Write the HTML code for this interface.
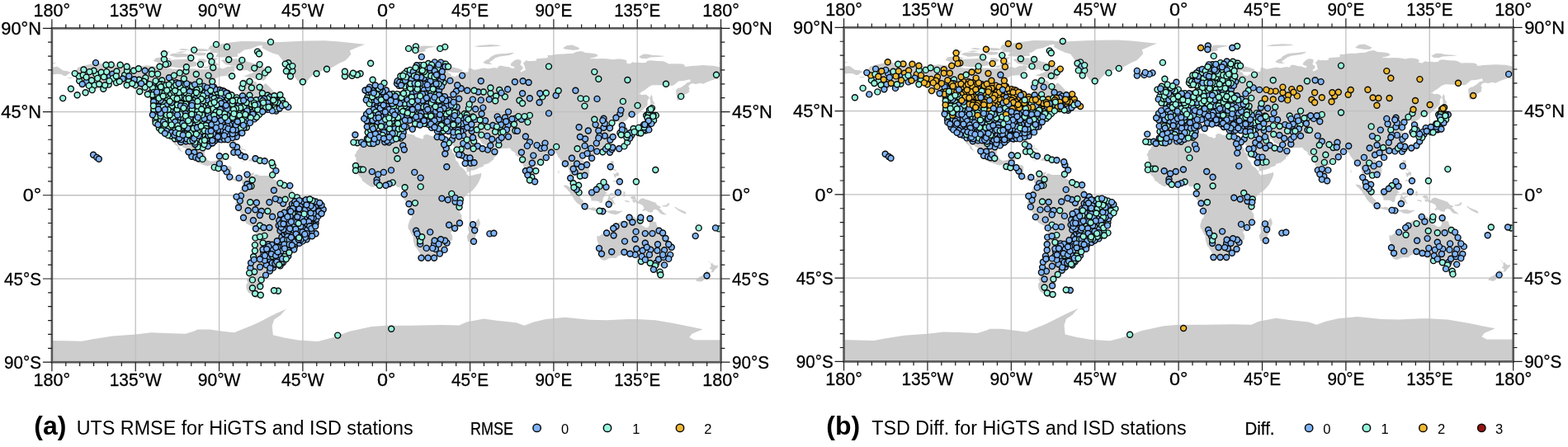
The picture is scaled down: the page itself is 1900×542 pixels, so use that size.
<!DOCTYPE html><html><head><meta charset="utf-8"><title>HiGTS and ISD stations</title><style>html,body{margin:0;padding:0;background:#fff;width:1900px;height:542px;overflow:hidden}svg{display:block}text{font-family:"Liberation Sans",Arial,sans-serif}</style></head><body><svg width="1900" height="542" viewBox="0 0 1900 542"><defs><g id="land"><path d="M-168 65.6 -166 68.9 -163 69.8 -156.8 71.3 -152 70.8 -148 70.3 -141 69.6 -135 69 -132 69.6 -129 70 -124 69.5 -120 69.3 -115 68 -108 68 -104 68.2 -100 67.8 -96 68 -94.5 69.5 -92 68.5 -90 68.8 -88 68.2 -85 69.5 -82 68.5 -81.5 66.8 -84 66.3 -86.8 64.3 -90 64 -93 62 -94.5 60 -93 58.8 -92.3 57.1 -88.5 56.4 -85 55.3 -82.3 55.1 -80.5 52.5 -80.5 51.3 -79 51.5 -78.5 52.5 -79.3 54.5 -77.2 56.5 -77.5 58.5 -78.3 60.8 -77.5 62.3 -73.5 62.2 -70 61 -69.5 59 -67.5 58.3 -65 60.3 -64 59.5 -62 57.5 -61 56.2 -57.5 54.5 -55.7 52.3 -57.5 51.4 -60 50.2 -64.5 50.2 -66.5 50 -69 48.3 -71 46.8 -69.5 47.5 -65 49.2 -64.2 48.5 -65.5 47.9 -64.6 46.8 -63.5 45.8 -61 45.6 -60 46.1 -61.5 45.1 -64 44.5 -66 43.7 -66 44.8 -67.5 44.5 -70 43.6 -70.8 42.8 -70.6 41.9 -70 41.7 -71.5 41.4 -73.8 40.7 -74 39.6 -75 38.6 -75.5 37.5 -76.3 37 -75.8 36 -75.5 35.2 -76.6 34.8 -77.9 33.9 -79.2 33.2 -80.6 32.4 -81.4 31 -81.3 29.6 -80.5 28 -80 26.4 -80.1 25.3 -80.9 25.1 -81.7 25.9 -82.7 27.6 -82.7 29 -83.8 29.9 -84.4 29.9 -85.4 29.7 -86.5 30.4 -88 30.5 -89.5 30.2 -89.3 29.2 -90.5 29.1 -92.2 29.6 -94 29.6 -95.3 29 -97.2 27.7 -97.4 26 -97.6 24.2 -97.8 22.3 -97.2 20.7 -96.2 19 -94.6 18.2 -92.8 18.5 -91.4 18.8 -90.6 19.8 -90.3 21 -88.3 21.5 -87 21.5 -87.5 20.2 -87.8 18.3 -88.3 17.2 -88.2 15.8 -86.5 15.8 -84.3 15.8 -83.3 15 -83.5 13 -83.7 11 -82.8 10 -81.5 8.8 -80 9.3 -79 9.6 -77.3 8.6 -77.6 7.8 -78.4 8.3 -79.6 8.9 -80.3 8 -80.2 7.3 -81.2 7.6 -82.3 8.2 -83.6 8.5 -84.9 10 -85.8 10.6 -85.7 11.2 -87 12.5 -87.7 13.2 -89.2 13.5 -91.3 13.9 -93 15.5 -94.5 16.2 -96.5 15.7 -98.7 16.5 -101 17.3 -103.5 18.3 -105.4 20.1 -105.3 21.5 -105.9 22.7 -108 25.2 -109.4 25.8 -110.8 27.6 -112.2 29 -112.9 31 -114.8 31.8 -114.6 30.5 -113.5 29 -112.5 27.4 -111.5 26 -110.5 24.2 -109.6 23.2 -110.3 23.5 -112.2 24.8 -112.3 26.2 -114.2 27.6 -115 29.5 -116.7 31.7 -117.2 32.7 -117.9 33.7 -118.5 34 -120.6 34.5 -121.9 36.5 -122.5 37.8 -123.7 39 -124.2 40.5 -124.4 42.5 -124 46 -124.1 47.5 -124.7 48.4 -123 48.6 -123.3 49.3 -124.9 50 -126.5 51 -127.9 52.2 -129.5 53.5 -130.5 54.6 -131.5 55.5 -133 57 -134.5 58.3 -136.7 58.3 -139.6 59.8 -142.5 60.1 -145 60.4 -147.8 60.8 -150.1 61.2 -151.8 60.5 -151.8 59.2 -153.3 58.9 -154.3 57.9 -156.4 56.9 -158.6 56 -161.7 55.1 -164.8 54.4 -162.5 55.8 -159 57 -157.5 58.5 -158.8 58.8 -161.8 58.6 -162.3 59.8 -164.8 60.6 -165.5 61.9 -165.8 62.7 -164.3 63.4 -161.1 63.6 -160.9 64.5 -163.5 64.5 -166.3 64.6 -168 65.6ZM-66.7 81.4 -59.8 82.5 -50 82.9 -42.6 83.2 -33 83.3 -25.4 82.8 -11.6 81.4 -15 80 -19.7 78 -19 76 -20.8 73.9 -22.5 72.3 -25.4 71.1 -29.4 68.8 -33 68 -36.9 65.9 -39.5 65 -41.4 63 -43 61 -44.9 60.1 -47 61 -48.3 62.4 -50.6 65.9 -52.5 68 -53 69.5 -55.2 71.7 -56.5 73.5 -58.1 75.7 -61 76.5 -64.4 78 -67 79.5 -66.7 81.4ZM-61.9 66.9 -64 67.8 -67 69.3 -70 70.6 -73 71.5 -76 72.5 -80 73.6 -85 73.5 -89 72.8 -86.5 70.5 -84 70 -81 69.6 -81.5 68.5 -78 67.2 -75 67.5 -73.5 66.5 -72.2 67.3 -71.5 66.2 -76 64.5 -77.5 64.3 -73 63.5 -70.5 62.7 -66 61.8 -64.5 63.2 -65 65 -62.5 65.6 -61.9 66.9ZM-95.5 77 -92 80.7 -86 82.1 -78 83 -68 82.9 -62 82.2 -64 81.4 -69 80.6 -73 78.9 -76.5 78.3 -79 76.5 -84 76.2 -90 76.5 -95.5 77ZM-92 74.6 -91 76.2 -85 76.8 -80 76.2 -80 74.7 -88 74.4 -92 74.6ZM-119 71.5 -117 72.8 -113 73.1 -108 73.3 -105 72.9 -101.5 71.2 -102.5 69.6 -106.5 69 -112 68.7 -116.5 69.3 -117.5 70.1 -119 71.5ZM-125.5 72.5 -124 74 -121 74.4 -117.5 74 -115.5 73.5 -119.5 72.1 -122.5 71.3 -125.5 72.5ZM-117 75.5 -115 76.5 -110 76.5 -106 75.9 -104 75.1 -108.5 74.6 -113 74.3 -117 75.5ZM-101.5 72 -101 73.6 -98 73.5 -96.5 72.5 -97.5 71.5 -99.5 71.5 -101.5 72ZM-95.5 72.5 -94 74 -90.5 73.9 -92 72.7 -93.5 72 -95.5 72.5ZM-96 69 -95.5 71.8 -92.5 71.8 -90 70.5 -92.5 69.5 -96 69ZM-96 78.5 -95 80.6 -90 81.4 -86.5 79.8 -90 79.4 -93 78 -96 78.5ZM-104.5 76 -101 77 -97 76.7 -97.5 75.5 -101 75.2 -104.5 76ZM-86.5 64.5 -84.5 65.7 -81.8 64.6 -80.5 63.8 -83 63.4 -86.5 64.5ZM-59.3 47.6 -56 49.5 -55.5 51.6 -56.5 51.3 -57.5 49.8 -59 48.4 -59.3 47.6 -58.5 47.6 -55.8 46.9 -53 46.7 -52.7 48 -53.5 49.2 -55.5 49.8 -59.3 47.6ZM-123.3 48.4 -125.5 48.9 -128.3 50.8 -127 50.6 -124.8 49.8 -123.3 48.4ZM-84.9 21.9 -83 22.9 -81.5 23.2 -80.5 23.1 -79 22.4 -77.5 21.8 -75.6 21.1 -74.2 20.2 -75.5 19.9 -77.4 19.9 -77.8 20.7 -78.5 21.5 -80.5 21.8 -82 22.3 -83.5 21.8 -84.9 21.9ZM-74.5 18.4 -72.8 19.9 -71 19.9 -69.5 19.4 -68.4 18.6 -70.7 18.3 -71.5 17.6 -72 18.2 -74.5 18.4ZM-78.3 18.4 -76.3 18.2 -76.8 17.9 -78 18.2ZM-67.2 18.5 -65.6 18.4 -65.8 18 -67.2 18ZM-77.3 8.6 -76.8 8.6 -75.5 10.5 -74.5 11 -72.5 11.8 -71.3 12.4 -71.5 11 -71.9 10.8 -71.7 9.5 -71 9.5 -71.4 10.8 -70 11.5 -68.2 10.6 -66 10.6 -64 10.6 -62.2 10.6 -61.7 9.8 -60.7 8.6 -59.5 8.2 -58 6.8 -57 6 -55 5.9 -53 5.6 -51.6 4.2 -51 3.3 -50 1.8 -50 0 -48.5 -0.6 -47.5 -0.6 -45 -1.4 -44.4 -2.6 -42 -2.8 -40 -2.9 -38.5 -3.7 -37 -4.9 -35.3 -5.3 -34.9 -7.3 -35.3 -9.2 -36.9 -10.8 -38.4 -12.9 -39 -14.5 -39 -17.5 -39.7 -19.5 -40.9 -21.9 -42 -23 -44.7 -23.3 -47 -24.2 -48.5 -25.8 -48.6 -28.5 -49.8 -29.5 -50.7 -31.3 -52.2 -32.5 -53.4 -33.8 -54.5 -34.7 -56.2 -34.9 -57.5 -34.3 -58.4 -33.9 -58.5 -34.5 -57.2 -35.6 -57.5 -36.9 -57.6 -38.1 -59.3 -38.7 -62 -38.9 -62.3 -40.5 -63.6 -41.2 -65 -40.9 -65 -42.1 -64 -42.6 -65.3 -43.6 -65.5 -45 -67.4 -46.2 -67.2 -46.8 -65.8 -47.8 -67.6 -49.3 -68.4 -50.3 -69 -51.6 -68.4 -52.4 -71.5 -53.8 -74.3 -52.5 -75.3 -50.5 -75.5 -48.3 -74.5 -46.8 -75.3 -45.8 -74.1 -43.7 -73.7 -41.8 -73.5 -40 -73.4 -37.3 -72.6 -35.3 -71.6 -33.1 -71.5 -30.5 -71.2 -28.4 -70.5 -25.5 -70.4 -23.4 -70.1 -21.4 -70.2 -19.5 -70.4 -18.3 -71.3 -17.5 -72.5 -16.7 -75.3 -15.3 -76.3 -13.9 -76.9 -12.1 -78.1 -10.4 -79.4 -7.9 -81.2 -6 -81.3 -4.2 -80.2 -3.4 -80.9 -2.2 -80.9 -1 -80.1 0.5 -79 1.5 -78.7 2.7 -77.5 3.9 -77.4 5.8 -77.9 7.2 -77.3 8.6ZM-68.6 -52.6 -68.2 -55 -66.5 -55.1 -70 -55.5 -72.5 -54 -70.5 -53.2 -68.6 -52.6ZM-61.2 -51.3 -58 -51.2 -57.9 -52 -60.5 -52.2ZM-5.6 36 -6.4 36.8 -7.4 37.2 -8.9 37 -8.8 38.7 -9.5 39 -9 40.5 -8.8 42 -9.3 43 -7.9 43.8 -5.5 43.6 -3 43.4 -1.6 43.4 -1.2 44.8 -1.2 46 -2.2 47.3 -4.5 47.9 -4.7 48.6 -3 48.8 -1.6 48.7 -1.9 49.7 -1.2 49.4 0.2 49.5 1.6 50.2 1.7 50.9 2.5 51.1 3.6 51.5 4 51.9 4.8 53 5.8 53.4 7 53.5 8.6 53.9 8.9 54.9 8.6 55.5 8.1 56.8 9.5 57.2 10.5 57.6 10.5 56.5 10.9 56.3 10.2 55.4 9.9 54.8 11 54 12.5 54.4 14 54 16.5 54.5 18.5 54.7 19.6 54.4 21 55.3 21 56.8 21.6 57.4 22.6 57.7 23.5 57.1 24.3 57.2 24.3 58.4 23.5 59.2 25.5 59.6 28 59.5 29.5 59.9 30.2 59.9 29 60.2 28 60.5 26 60.4 22.9 59.9 22.5 60.3 21.3 60.9 21.5 61.5 21.2 62.7 21.5 63.3 22.5 64 24.5 64.9 25.4 65.1 25.3 65.6 22.2 65.8 21.3 64.5 20 63.8 18.6 63 17.7 62.3 17.3 61 18.8 60.1 18.5 59.3 16.8 58.5 16.5 57.3 15.9 56.1 14.3 55.5 12.9 55.4 12.5 56.2 12.5 57.2 11.8 57.8 11.2 58.9 10.5 59.3 10.5 59.9 9.6 59.1 8.2 58.1 7 58 5.6 58.7 5 59.5 5 60.6 5 61.9 6 62.5 7.5 63.1 9 63.5 10.5 64.5 11.5 65 12.5 66 13.5 67 14.5 67.9 16 68.6 17.5 69.3 19 69.8 21 70.2 23.5 70.8 25.8 71.1 28 71 30 70.6 31 70.3 33 69.4 36 69 39 68.2 41 67.5 40.5 66.5 38.5 66 35 66.2 33.5 66.7 33 66.3 34.7 65.5 34.8 64.5 37 63.9 37.5 64.3 38 64.7 40 64.5 40.8 65 42 66.3 44 66.3 44.2 67.7 44 68.4 46 68.2 47 67.6 49 67.8 51 68.3 53 68.6 54.5 68.2 55.7 68.4 58 68.8 59.5 68.5 60.7 69.8 62 69.8 64 69.3 66 69.1 67.2 68.6 68.5 68.2 69 69.2 67 69.8 66.9 70.6 67.3 71.3 68.5 72.4 69.6 73 71 73.2 72.5 72.7 72.5 71.5 72 70.3 73.5 69 73.2 67.9 72 67 72.5 66.4 74 67.1 75 67.6 74.6 68.5 74.4 69.7 73.6 71.2 74.8 72.2 75.3 72.9 76 72.3 77.7 72.4 79 72.3 80.6 72.6 80.8 73.6 83 73.8 86.5 74 87 74.8 86.5 75.5 88.5 75.5 92 76 95 76.1 98 76.4 100.5 76.5 102 77.2 104.5 77.7 106 77.4 107 76.8 109 76.7 112 76.4 113.5 75.8 113.7 75 112 74.4 110 74 109.5 73.6 111 73.7 113 73.6 116 73.7 118.7 73.6 122 73.1 124 73.5 126 73.5 128.5 73 129.5 72.3 129 71.5 129.5 71.1 131 70.8 132.5 71.8 134 71.5 135.5 71.6 137.5 71.4 139.5 71.5 140.5 72.5 142 72.7 146 72.3 149 72.2 150.5 71.6 152 70.8 155 70.9 159 70.8 160.8 70.1 160 69.6 161.5 69.4 164 69.7 168 69.9 170.6 70.1 173 69.9 176 69.8 178 69.4 180 68.9 180 65 178.8 64.5 177.5 64.6 178.5 63.3 179.2 62.4 177 62.6 174.5 61.8 172.5 61 170.5 60 169 60.5 166.3 59.9 165 60.3 163.5 59.9 162.5 58.7 163.2 57.6 162.6 56.3 163.3 56.1 162 54.9 160.3 54.2 160 53.1 158.5 52.8 158 51.6 156.7 51 156.2 52.6 155.9 55 155.8 56.8 157 57.8 158.3 58 160.5 59.5 162 60.8 163.7 61.2 163.3 62.5 160.4 61.8 159.2 61.7 157.2 61.5 155.2 59.8 154.2 59.1 152 58.9 150 59.6 149 59.2 146 59.3 144.5 59.4 143 59.3 141.4 58.6 140.5 57.8 138.8 56.6 137.4 55.8 136.5 54.9 135.1 54.7 136.7 54.6 137.2 54 138.3 54.2 139.8 54.2 141.3 53.1 141.4 52.2 140.6 51.3 140.5 50 140.5 48.5 139.3 47.4 138.2 46.3 137 45.2 135.5 43.9 133.8 42.9 132.9 42.8 132.3 43.3 131.8 43 130.7 42.3 129.7 41 129.7 40.8 128.8 40.2 127.5 39.6 127.5 39.2 128.4 38.6 129.4 36.8 129.5 35.6 129.1 35.1 128 35 126.5 34.4 126.3 34.9 126.7 35.8 126.1 36.7 126.9 37.1 126.2 37.7 125.2 37.9 124.7 38.1 125.3 39.5 124.3 39.9 122.9 39.6 122.2 39.2 121.4 38.9 121.6 39.4 121.5 40 122.3 40.5 121.6 40.9 121 40.8 120 40 119.5 39.8 118.9 39.1 118 39.2 117.6 38.6 118 38 118.8 37.5 119.2 37.2 120.8 37.8 121.5 37.5 122.5 37.4 122.5 36.9 121 36.6 120.6 36.1 119.6 35.6 119.2 34.9 120.3 34.3 120.6 33.4 120.9 32.4 121.9 31.7 121.9 30.9 121.3 30.7 121.5 30.1 122 29.8 121.6 29 121.5 28.5 121 28 120.6 27.2 119.7 26.5 119.6 25.9 119 25.3 118.6 24.6 117.8 24.1 117 23.6 116.5 23 115.5 22.7 114.8 22.7 114.2 22.3 113.5 22.2 113 22.1 112 21.8 111 21.5 110.4 21.2 110.2 20.1 109.7 20.8 109.9 21.4 109 21.6 108 21.5 106.7 20.7 106 19.9 105.7 19.1 106.4 18 107.3 16.8 108.3 16 108.9 15.3 109.3 13.5 109.2 11.6 108.4 11 107.6 10.5 106.7 10.4 105.8 9.5 105.1 8.6 104.8 9.2 105.1 10 104.3 10.5 103.5 10.6 102.6 12.2 101.7 12.6 100.9 12.7 100.9 13.5 100 13.4 100.1 12.2 99.2 10.3 99.2 9.2 99.9 9.2 100.4 7.3 101 6.8 101.6 6.8 102.1 6.2 103.1 5.5 103.4 4.9 103.4 4 103.5 2.6 104.2 1.7 104.2 1.3 103.5 1.3 102.6 1.9 101.3 2.8 100.7 3.9 100.3 4.8 100.4 5.6 100.3 6.4 99.7 6.5 99 7.9 98.4 8.1 98.3 9 98.6 10 98.5 11 98.7 11.9 98.4 13.1 98.1 14 97.8 14.8 97.6 16 97.2 16.9 96.5 16.5 95.4 15.7 94.8 15.8 94.2 16 94.6 17.3 94.3 18.2 93.5 19.4 93 20 92.4 20.7 92.1 21.2 91.8 22.2 91.4 22.8 90.5 22.8 90.3 21.8 89.7 21.9 89 21.7 88.2 21.7 87 21.4 86.5 20.2 85 19.5 84 18.3 83.2 17.7 82.2 16.6 81.2 16 80.3 15.9 80 15.1 80.2 13.5 80.3 13 79.9 12 79.9 10.4 79.3 10.3 78.9 9.5 79.2 9.2 78.3 8.9 77.9 8.3 77.5 8 76.6 8.9 76.1 10.3 75.7 11.3 75.4 11.8 74.9 12.7 74.6 13.9 74.4 14.6 73.5 16 73.1 17.9 72.8 19.2 72.8 20.4 72.6 21.4 71.2 20.8 70.5 20.9 69.2 22.1 69.6 22.5 69.4 22.8 68.2 23.7 67.4 23.9 67.1 24.7 66.4 25.4 64.5 25.2 62.9 25.2 61.5 25.1 59.6 25.4 58.5 25.6 57.4 25.7 56.9 27.1 56.5 27.1 55.7 26.9 54.7 26.5 53.5 26.8 52.5 27.6 51.5 27.9 50.9 28.8 50.1 30.1 49.6 30 48.9 30.3 48 29.9 48 29 48.4 28.6 48.8 27.7 49.3 27.5 49.5 27.1 50.2 26.7 50.1 25.9 50.2 25.6 50.5 25.3 50.8 24.8 51.1 24.6 51.4 24.6 51.6 24.2 52 23.9 52.6 24.2 53.4 24.2 54 24.1 54.7 24.8 55.4 25.4 56.1 26.1 56.4 26.4 56.4 24.9 56.8 24.2 57.4 23.9 58.1 23.7 58.7 23.6 59.5 22.7 59.8 22.5 59.3 21.4 58.9 21.1 58.5 20.4 58 20.5 57.7 19.7 57.7 19 57.2 18.9 56.6 18.6 56.3 17.9 55.7 17.9 55.3 17.6 55.2 17.1 54.2 17 53.6 16.7 53.1 16.7 52.4 16.4 52.2 15.9 52.2 15.6 51.2 15.2 49.6 14.7 48.7 14 48.2 13.9 47.4 13.6 46.7 13.4 45.9 13.3 45.6 13.3 45.1 12.9 45 12.7 44.5 12.7 43.5 12.6 43.2 13.2 43.3 13.8 43 14.6 42.9 15.2 42.6 15.7 42.8 16.3 42.6 16.8 42.3 17.1 42.3 17.5 41.8 17.8 41.2 18.7 40.9 19.5 40.2 20.2 39.8 20.3 39.1 21.3 39 22 38.8 22.8 38.5 23.7 38 24.1 37.5 24.3 37.2 24.9 37.2 25.1 36.9 25.6 36.6 26 36.2 26.6 35.6 27.4 35.1 28.1 34.6 28.1 34.8 29 34.9 29.5 34.3 31.2 34.6 31.6 35 32.8 35.1 33.1 35.5 33.9 35.9 34.5 35.9 35.4 36.1 35.8 35.8 36.3 36.2 36.7 35.6 36.6 34.7 36.8 34 36.2 32.5 36.1 31.7 36.6 30.6 36.7 30.4 36.3 29.7 36.1 28.7 36.7 27.6 36.7 27.1 37.7 26.3 38.2 26.8 39 26.2 39.5 26.2 40 26.5 40.2 27.3 40.4 28.8 40.5 29.2 41 30.2 41.1 31.2 41.1 32.3 41.7 33.5 42 35.2 42 36.9 41.3 38.3 40.9 39.5 41.1 40.4 41 41.6 41.5 41.5 42.6 40.9 43 40.3 43.1 39.9 43.4 38.7 44.3 37.5 44.7 36.7 45.2 37.4 45.4 38.2 46.2 37.7 46.6 39.1 47.3 38.2 47.1 37.4 47 36.8 46.7 35.8 46.6 34.9 46.3 35 45.7 35.5 45.5 36.5 45.5 36.3 45.1 35.2 44.9 34 44.5 33.3 44.6 33.5 45 32.5 45.3 32.6 45.5 33.6 45.9 33.3 46.1 31.7 46.3 31.7 46.7 30.7 46.6 30.4 46 29.6 45.3 29.1 44.8 28.8 44.9 28.6 43.7 28 43.3 27.7 42.6 28 41.6 29 41.3 28.8 41 27.6 41 27.2 40.7 26.4 40.2 26.3 40.9 26.1 41.3 25.2 41 23.7 40.7 24.4 40.1 23.9 40 23.3 40 22.8 40.5 22.6 40.3 22.8 39.7 23.4 39.2 23 39 23.5 38.5 24 38.2 24 37.7 23.1 37.9 23.4 37.4 22.8 37.3 23.2 36.4 22.5 36.4 21.7 36.8 21.3 37.6 21.1 38.3 20.7 38.8 20.2 39.3 20.2 39.6 20 39.7 20 40.3 19.4 40.3 19.3 40.7 19.4 41.4 19.5 41.7 19.4 41.9 19.2 42.2 18.5 42.5 17.5 42.8 16.9 43.2 16 43.5 15.2 44.2 15.4 44.3 14.9 44.7 14.9 45.1 14.3 45.2 13.9 44.8 13.7 45.1 13.7 45.5 13.9 45.6 13.1 45.7 12.3 45.4 12.4 44.9 12.3 44.6 12.6 44.1 13.5 43.6 14 42.8 15.1 42 15.9 42 16.2 41.7 15.9 41.5 17.5 40.9 18.4 40.4 18.5 40.2 18.3 39.8 17.7 40.3 16.9 40.4 16.4 39.8 17.2 39.4 17.1 38.9 16.6 38.8 16.1 38 15.7 38 15.9 38.8 16.1 39 15.4 40 15 40.2 14.7 40.6 14.1 40.8 13.6 41.2 12.9 41.3 12.1 41.7 11.2 42.4 10.5 42.9 10.2 43.9 9.7 44 8.9 44.4 8.4 44.2 7.9 43.8 7.4 43.7 6.5 43.1 4.6 43.4 3.1 43.1 3 42.5 3 41.9 2.1 41.2 0.8 41 0.7 40.7 0.1 40.1 -0.3 39.3 0.1 38.7 -0.5 38.3 -0.7 37.6 -1.4 37.4 -2.1 36.7 -4.4 36.7 -5 36.3 -5.6 36ZM-5.9 35.8 -5.2 35.8 -4.6 35.3 -3.6 35.4 -2.2 35.2 -1.2 35.7 -0.1 35.9 1 36.5 3.2 36.8 4.8 36.9 5.3 36.7 6.3 37.1 7.3 37.1 7.7 36.9 8.4 36.9 9.5 37.3 10.2 37.2 10.2 36.7 11.1 36.9 10.6 36.4 10.6 35.9 10.9 35.7 10.8 34.8 10.1 34.3 10.3 33.8 10.9 33.8 11.1 33.3 11.5 33.1 12.7 32.8 13.1 32.9 13.9 32.7 15.2 32.3 15.7 31.4 16.6 31.2 18 30.8 19.1 30.3 19.6 30.5 20.1 31 19.8 31.8 20.1 32.2 20.9 32.7 21.5 32.8 22.9 32.6 23.2 32.2 23.6 32.2 23.9 32 24.9 31.9 25.2 31.6 26.5 31.6 27.5 31.3 28.5 31 29.7 31.2 30.9 31.6 32 31.3 32.9 31 33.8 31 34.3 31.2 34.9 29.5 34.6 29.1 34.4 28.3 34.2 27.8 33.9 27.6 33.1 28.4 32.4 29.9 32.3 29.8 32.7 28.7 33.3 28 33.9 27 34.1 26.1 34.5 25.6 34.8 25 35.7 23.9 35.5 23.8 35.5 23.1 36.7 22.2 36.9 22 37.2 21 37.1 19.8 37.5 18.6 37.9 18.4 38.4 18 39 16.8 39.3 15.9 39.8 15.4 41.2 14.5 41.7 13.9 42.3 13.3 42.6 12.7 43.1 12.7 43.3 12 42.7 11.7 43.1 11.5 43.5 11.3 43.7 10.9 44.1 10.4 44.6 10.4 45.6 10.7 46.6 10.8 47.5 11.1 48 11.2 48.9 11.4 49.3 11.4 49.7 11.6 50.3 11.7 50.7 12 51.1 11.7 51 10.6 51 10.4 50.6 9.2 50.1 8.1 49.5 6.8 48.6 5.3 47.7 4.2 46.6 2.9 45.6 2 44.1 1.1 43.1 0.3 42 -0.9 41.8 -1.4 41.6 -1.7 40.9 -2.1 40.6 -2.5 40.3 -2.6 40.1 -3.3 39.8 -3.7 39.6 -4.3 39.2 -4.7 38.7 -5.9 38.8 -6.5 39.4 -6.8 39.5 -7.1 39.2 -7.7 39.3 -8 39.2 -8.5 39.5 -9.1 39.9 -10.1 40.3 -10.3 40.5 -10.8 40.4 -11.8 40.6 -12.6 40.6 -14.2 40.8 -14.7 40.5 -15.4 40.1 -16.1 39.5 -16.7 38.5 -17.1 37.4 -17.6 36.3 -18.7 35.9 -18.8 35.2 -19.6 34.8 -19.8 34.7 -20.5 35.2 -21.3 35.4 -21.8 35.4 -22.1 35.6 -22.1 35.5 -23.1 35.4 -23.5 35.6 -23.7 35.5 -24.1 35 -24.5 34.2 -24.8 33 -25.4 32.6 -25.7 32.7 -26.1 32.9 -26.2 32.8 -26.7 32.6 -27.5 32.5 -28.3 32.2 -28.8 31.5 -29.3 31.3 -29.4 30.9 -29.9 30.6 -30.4 30.1 -31.1 28.9 -32.2 28.2 -32.8 27.5 -33.2 26.4 -33.6 25.9 -33.7 25.8 -34 25.2 -34 24.7 -34 23.6 -33.8 23 -33.9 22.6 -33.9 21.5 -34.3 20.7 -34.4 20.1 -34.8 19.6 -34.8 19.2 -34.5 18.9 -34.4 18.4 -34 18.4 -34.1 18.2 -33.9 18.3 -33.3 17.9 -32.6 18.2 -32.4 18.2 -31.7 17.6 -30.7 17.1 -29.9 17.1 -29.9 16.3 -28.6 15.6 -27.8 15.2 -27.1 14.7 -25.4 14.4 -23.9 14.4 -22.7 14.3 -22.1 13.9 -21.7 13.4 -20.9 12.8 -19.7 12.6 -19 11.8 -18.1 11.7 -17.3 11.6 -16.7 11.8 -15.8 12.1 -14.9 12.2 -14.4 12.5 -13.5 12.7 -13.1 13.3 -12.5 13.6 -12 13.7 -11.3 13.7 -10.7 13.4 -10.4 13.1 -9.8 12.9 -9.2 12.9 -9 13.2 -8.6 12.9 -7.6 12.7 -6.9 12.2 -6.3 12.3 -6.1 12.2 -5.8 11.9 -5 11.1 -4 10.1 -3 9.4 -2.1 8.8 -1.1 8.8 -0.8 9 -0.5 9.3 0.3 9.5 1 9.3 1.2 9.6 2.3 9.8 3.1 9.4 3.7 8.9 3.9 8.7 4.4 8.5 4.5 8.5 4.8 7.5 4.4 7.1 4.5 6.7 4.2 5.9 4.3 5.4 4.9 5 5.6 4.3 6.3 2.7 6.3 1.9 6.1 1.1 5.9 0 5.5 -0.5 5.3 -1.1 5 -2 4.7 -2.9 5 -3.3 5 -4 5.2 -4.6 5.2 -5.8 5 -6.5 4.7 -7.5 4.3 -7.7 4.4 -8 4.4 -9 5 -9.9 5.6 -10.8 6.1 -11.4 6.8 -11.7 6.9 -12.4 7.3 -12.9 7.8 -13.1 8.2 -13.2 8.9 -13.7 9.5 -14.1 9.9 -14.6 10.2 -14.7 10.7 -14.8 10.9 -15.1 11 -15.7 11.5 -16.1 11.5 -16.3 11.8 -16.6 12.2 -16.7 12.4 -16.8 13.2 -16.7 13.6 -17.1 14.4 -17.6 14.7 -17.2 14.9 -16.7 15.6 -16.5 16.1 -16.1 16.5 -16.1 17.1 -16 17.7 -16.1 18.1 -16.3 19.1 -16.4 19.6 -16.3 20.1 -16.5 20.6 -17.1 21 -17 21.4 -17 21.9 -16.6 22.2 -16.3 22.7 -16.3 23 -16 23.7 -15.4 24.4 -15.1 24.5 -14.8 25.1 -14.4 26.3 -13.8 26.6 -13.1 27.6 -12.6 28 -11.7 28.1 -10.9 28.8 -10.4 29.1 -9.6 29.9 -9.8 31.2 -9.4 32 -9.3 32.6 -8.7 33.2 -7.7 33.7 -6.9 34.1 -6.2 35.1 -5.9 35.8ZM49.5 -12.5 50.1 -13.6 50.5 -15.2 50.2 -16 49.8 -16.9 49.5 -17.9 49 -19.1 48.5 -20.5 47.9 -22.4 47.1 -24.9 45.4 -25.6 44 -25 43.3 -22.1 43.9 -21.2 44.4 -20.1 44.2 -18.9 43.9 -17.4 44.4 -16.2 46.3 -15.8 47.7 -14.6 48.9 -13.3 49.5 -12.5ZM-5.7 50.1 -3.4 50.6 -1.5 50.7 1 51 1.4 51.3 0.5 51.6 1.7 52.7 0.3 53.1 -0.1 54 -1.2 54.6 -1.6 55.6 -2.5 56 -3 56.3 -2 57.6 -3.2 57.7 -4.1 57.6 -3 58.6 -5 58.6 -5.8 57.8 -5.6 57 -6 56.2 -5.6 55.3 -4.8 54.9 -3.6 54.6 -3.2 53.4 -4.6 53.3 -4 52.8 -4.4 52.2 -5.2 51.8 -3.4 51.4 -4.3 51.2 -5.2 51 -5.7 50.1ZM-6 52.2 -6.2 53.3 -6 54.3 -5.6 54.6 -6.2 55.2 -7.3 55.3 -8.3 55.1 -8.6 54.3 -10 54.2 -9.6 53 -10.3 52 -9.6 51.6 -8.1 51.7 -6.4 52.2 -6 52.2ZM-22.7 63.9 -22 64.4 -24.2 65.3 -22.6 66.4 -20 66.1 -18 66.2 -16 66.5 -14.5 66.2 -13.6 65.2 -14.9 64.4 -17.8 63.7 -20 63.5 -22.7 63.9ZM130.9 33.9 132.6 35.4 134.6 35.7 135.7 35.6 136.8 37.3 137.3 36.8 138.5 37.8 139.5 38.5 140 39.6 140 40.8 140.6 41.2 141.4 41.4 141.4 40.7 142 39.8 141.5 38.4 141 38.2 140.9 37.5 141 36.8 140.6 36 140.9 35.7 139.9 35 139.2 35.2 138.8 34.6 138.3 34.7 137 34.6 136.6 34.3 135.9 33.5 135.2 34 135.4 34.7 134 34.6 133 34.3 131.8 34 130.9 33.9ZM129.8 33.5 130.9 33.9 131.7 33.2 131.4 31.4 130.7 31 130.2 31.3 130.2 32.5 129.6 32.8 129.8 33.5ZM132.5 33.1 133 34 134.6 34.2 134.7 33.8 134.1 33.3 133 32.8ZM140 41.5 140.1 42.6 141.3 43.3 141.7 45.4 142.9 44.7 144.5 44 145.5 43.3 144.5 42.9 143.3 42 141.5 42.6 141 41.8 140 41.5ZM142 46 142.1 47.8 142.2 49.5 142.1 51 141.7 52.4 142.6 54.3 143.2 52.8 143.2 51.5 144.5 49 143.2 49.2 142.5 47.8 143.5 46.2 142 46ZM120.1 23 120.7 24.5 121.5 25.3 122 25 121.5 23.5 120.8 21.9 120.1 23ZM108.6 19.2 109.5 20 110.6 20.1 111 19.6 110.5 18.7 109.6 18.2 108.7 18.5ZM120.6 18.5 121.3 18.5 122.3 18.4 122.2 17 121.6 15.9 121.8 14.5 123.1 13.8 124.1 13.1 123.3 13 122.6 13.6 121.5 13.7 120.6 14.4 120.7 14.8 120 16 120.4 17 120.6 18.5ZM122 7 122.2 7.9 123.6 7.8 124.3 8.4 125.4 9.8 126.3 8.8 126.5 7.3 126.1 6.3 125.4 5.6 124.2 6.2 123.9 7 122.8 7.4 122 7ZM122 11.8 122.5 10.5 123 9.2 123.4 9.9 124 10.5 124.8 10.1 125.3 11.5 124.3 12.6 123.1 11.5ZM109 1.5 109.6 2 110.4 1.7 111.2 2.5 113 3.2 114 4.6 115.4 5.3 116.2 6.1 116.8 7 117.7 6.4 119.2 5.4 118.4 4.9 117.9 4.1 117.3 3.2 118 2.3 117.9 1.8 119 0.9 117.8 0.8 117.5 -0.3 116.6 -1.5 116.5 -2.5 116.1 -4 114.9 -4.1 114.5 -3.5 113.3 -3.1 111.7 -3 111 -3 110.2 -2.9 110.1 -1.6 109.6 -1 109.1 -0.5 109 0.4 108.9 0.9 109 1.5ZM95.3 5.5 97.5 5.2 98.4 4.3 99.7 3.2 100.6 2.1 101.7 2.1 103 0.5 103.8 0 104.5 -1.8 105.4 -2.5 106.1 -3.1 105.8 -4.3 105.8 -5.9 104.7 -5.9 103.9 -5 102.6 -4.2 101.4 -2.8 100.9 -2.1 100.1 -0.6 99.3 0.2 98.6 1.8 97.7 2.5 97.2 3.3 96.4 3.9 95.4 5 95.3 5.5ZM105.2 -6.8 106.1 -5.9 107.3 -6 108.3 -6.3 108.6 -6.8 110.5 -6.9 110.8 -6.5 112.6 -6.9 112.9 -7.6 114.5 -7.8 114.6 -8.8 113.5 -8.3 112.6 -8.4 111.5 -8.3 110.6 -8.1 109.4 -7.7 108.7 -7.6 108.3 -7.8 106.5 -7.4 106.3 -6.9 105.4 -6.9 105.2 -6.8ZM114.6 -8.8 116 -8.4 118 -8.1 119 -8.4 120.7 -8.2 122.8 -8.1 124 -8.4 125 -8.6 127 -8.3 125.1 -9.4 124 -10.2 123.5 -10.4 120.8 -10 119.9 -9.4 118.3 -8.9 116.7 -9 114.6 -8.8ZM119.4 -5.5 119.6 -4.5 119.5 -3.5 118.8 -2.8 119.2 -2.1 119.3 -1.4 119.8 0.2 120.1 0.6 120.9 1.3 121.6 1.1 122.9 0.9 124.1 0.9 125.1 1.6 124.4 0.4 123.7 0.2 122.7 0.4 121.1 0.4 120.2 0.2 120.1 -0.5 120.9 -1.4 121.5 -1 123.3 -0.6 123.3 -1.1 122.5 -1.5 121.5 -1.9 122.5 -3.2 122.3 -3.5 123.2 -4.7 123 -5 122.3 -4.5 121.7 -4.9 121.5 -4.6 121.6 -4.2 120.9 -3.6 121 -2.6 120.3 -2.9 120.4 -5.5 119.8 -5.7 119.4 -5.5ZM127.9 2.2 128.7 1.1 128.2 0.5 128.6 -0.3 127.7 -0.9 127.4 1ZM128 -3.2 130.8 -3.9 130.5 -3.1 128.6 -2.8ZM131 -1.3 132.3 -0.4 133.9 -0.7 134.1 -1.2 134.4 -2.8 135.5 -3.4 136.3 -2.3 137.4 -1.7 138.3 -1.7 139.2 -2.1 140.7 -2.6 141.5 -2.8 142.7 -3.3 144.6 -3.9 145.4 -4.8 145.8 -5.5 147.6 -6.1 147.9 -6.6 147 -6.7 147.2 -7.4 148.1 -8 148.7 -9.1 149.3 -9.1 149.3 -9.5 150 -9.7 149.7 -9.9 150.8 -10.3 150 -10.7 149.8 -10.4 148.9 -10.3 147.9 -10.1 147.1 -9.5 146.6 -8.9 146 -8.1 144.7 -7.6 143.9 -7.9 143.3 -8.2 143.4 -9 142.6 -9.3 142.1 -9.2 141 -9.1 140.1 -8.3 139.1 -8.1 138.9 -8.4 137.6 -8.4 138 -7.6 138.7 -7.3 138.4 -6.2 137.9 -5.4 136 -4.5 135.2 -4.5 133.7 -3.5 133.4 -4 133 -4.1 132.8 -3.7 132.8 -3.3 132 -2.8 133.1 -2.5 133.8 -2.5 133.7 -2.2 132.2 -2.2 131.8 -1.6 131 -1.3ZM148.3 -5.6 150 -5.4 151 -5 151.6 -4.2 152.3 -4.3 152 -5.5 150.6 -6.2 148.5 -6ZM113.3 -22 113.4 -24.4 114.2 -26.3 113.8 -26.5 114.6 -28.8 115 -30.6 115.7 -31.6 115.7 -33.3 115 -33.6 115 -34.2 116.6 -35 117.9 -35.1 119.9 -34 121.3 -33.8 123.7 -33.9 124.2 -33 125.1 -32.7 126.1 -32.2 127.1 -32.3 129.5 -31.6 131.3 -31.5 132.6 -32 134.3 -32.6 134.6 -33.2 135.2 -34.5 136 -34.9 136.4 -34.1 137.5 -33.1 137.8 -32.9 137.8 -33.6 137.2 -34.4 137.5 -34.7 137.7 -35.6 138.4 -35.3 138.1 -35.1 138.6 -34.4 139.5 -35.7 139.6 -36.1 139.9 -37.4 140.6 -38 141.3 -38.2 142.2 -38.4 143.5 -38.8 144.4 -38.1 145 -37.9 145.5 -38.6 146.3 -39 147.3 -38.2 148.3 -37.8 149.4 -37.8 149.9 -37.1 150 -36.4 150.1 -35.9 150.7 -35.2 150.8 -34.8 151.2 -33.8 151.6 -33.4 152.1 -32.8 152.5 -32.6 152.9 -31.6 153.1 -30.4 153.1 -30 153.5 -28.8 153.6 -28.1 153.4 -27.3 153.2 -26.3 153 -25.3 152.8 -25.3 152.3 -24.5 151.5 -24.1 150.9 -23.6 150.7 -22.4 150.2 -22.4 149.7 -22.3 149.3 -21.3 148.8 -20.4 148.2 -20.1 147.4 -19.5 146.4 -19 146.1 -18.3 146.4 -17.3 145.9 -16.9 145.6 -16.3 145.3 -15.4 145.3 -14.9 144.6 -14.2 143.9 -14.5 143.6 -13.8 143.6 -13.4 143.5 -12.9 142.9 -11.8 142.6 -10.7 142.4 -10.7 141.9 -11.9 141.7 -12.8 141.6 -13.6 141.5 -14.6 141.6 -15 141.4 -16.4 140.7 -17.3 139.9 -17.4 139.3 -17.4 138.5 -16.8 137.1 -15.9 136.3 -15.6 135.4 -14.7 135.5 -14.4 136.3 -13.3 135.9 -13.3 136.1 -12.5 136.7 -12.3 136.5 -11.9 135.9 -12 134.7 -12.1 134.2 -12.6 133.6 -11.9 132.6 -11.6 131.8 -11.3 131.2 -12.2 130.6 -12.4 130.2 -13.1 130.3 -13.4 129.9 -13.6 129.4 -14.4 129.7 -15 128.9 -14.9 128.2 -15 127.8 -14.3 127.1 -13.8 126.1 -14.1 125.1 -14.7 124.7 -15 124.4 -15.6 124.3 -16.3 123.8 -16.1 123.2 -16.9 123.4 -17.3 122.9 -17.3 122.3 -17.8 122.2 -18.2 121.6 -18.7 121 -19.5 120.1 -20 119.2 -20 118.3 -20.3 117.4 -20.7 116.7 -20.6 115.9 -21 115.2 -21.6 114.6 -21.9 114.2 -22.5 114.1 -21.8 113.3 -22ZM144.7 -40.7 146.4 -41.1 148.3 -40.9 148.3 -42 147.9 -43.2 147 -43.4 146 -43.6 145.4 -42.7 144.7 -41.2 144.7 -40.7ZM172.7 -34.4 173.1 -35.2 174.4 -36.4 174.5 -37 175.4 -36.5 175.9 -37.5 177.4 -38 178.5 -37.7 178.3 -38.6 177.9 -39.2 177 -39.9 176 -41.3 175.2 -41.7 174.6 -41.3 175.2 -40.5 174.6 -39.8 173.8 -39.5 173.9 -39.1 174.6 -38.8 174.7 -38 174.3 -36.7 173 -35.2 172.7 -34.4ZM172.6 -40.5 173.2 -41.3 174.2 -41.3 174.2 -41.8 173.9 -42.4 173.2 -43 172.7 -43.4 173 -43.9 171.5 -44.2 171.2 -44.9 170.6 -45.9 169.8 -46.4 169.3 -46.6 168.4 -46.6 167.8 -46.3 166.7 -46.2 166.5 -45.9 167 -45.1 168.3 -44.1 168.9 -43.9 170.5 -43 171.1 -42.5 171.6 -41.8 171.9 -41.5 172.1 -40.9 172.8 -40.5ZM79.9 6.8 80.3 6 81.2 6.2 81.8 7.5 81.3 8.6 80.8 9.3 80 9.8 79.7 8.2ZM52 71.5 53.5 72.8 55 73.3 56 74.5 57.5 75.3 59 75.9 61 76.2 64 76.4 68.2 76.9 68.5 76.5 66 75.5 61 74.8 58.6 74 57 72.8 55.5 71.8 56 71 57.5 70.7 55.5 70.6 53.5 70.8 52 71.5ZM11 78.5 12 79.6 15 79.8 17 80.1 21.5 80.4 27 80.1 22.5 79.3 20.5 78.5 21.5 77.8 17 76.6 14 77.3 13.5 77.8 11 78.5ZM18 80.2 20 80.6 24 80.5 27 80.1 22 79.6ZM47 80.2 51 80.8 56 81.2 62 80.8 60 80.3 55 80 50 79.9ZM95 79.3 97 80.7 100 81 104 79.3 103 78.3 100 78.2 96 78.8ZM136 74.8 138.5 76.1 141 76 143 75.5 146 75.3 150 75 148 74.7 142 74.4 140 73.6 137 73.8ZM178.5 71 180 71.5 180 70.8 179 70.9ZM-180 71.5 -177.5 71.2 -179 70.9 -180 70.8ZM-180 68.9 -177 69.3 -174 67.2 -171.5 66.9 -169.8 66 -171 65.5 -172.5 64.4 -173.5 64.4 -175 65.2 -177 65.3 -180 65ZM-171.8 63.5 -169 63.4 -168.8 63 -171 63ZM-154.6 57.1 -152.3 58.2 -152.5 57.3 -153.8 56.9ZM-166.5 53.9 -168.3 53.4 -169 52.9 -167 53.5ZM-155.9 19.9 -155.1 19.8 -155 19.4 -155.7 18.9 -156 19.5ZM32.3 35.1 33.2 35.4 34.6 35.7 33.9 35 33 34.6 32.4 34.7ZM23.5 35.3 24.5 35.4 26.3 35.3 26 35 24.5 34.9 23.5 35.1ZM12.4 38.1 13.7 38 15.6 38.3 15.1 37.3 15.1 36.7 14.3 36.9 12.4 37.6ZM8.4 39 8.4 40.5 8.8 41 9.6 41 9.8 40.1 9.6 39.2 8.9 38.9ZM8.6 41.9 8.8 42.6 9.4 43 9.5 42.1 9.2 41.4ZM11 55.7 12.3 56.1 12.6 55.5 11.9 55 11.1 55.4ZM9.8 55.5 10.4 55.6 10.8 55.2 10.2 55ZM18.1 57.3 18.8 57.8 18.9 57.3 18.3 56.9ZM92.6 13.5 93 13 92.8 11.5 92.5 11.8ZM124 -9.5 125 -8.7 127.3 -8.4 126 -9.2 124.4 -10.2ZM155.5 -6.2 156.5 -7 157.5 -7.5 159.8 -8.4 161 -9 161.3 -10.2 160 -9.8 158 -8.8 156.5 -7.8 155 -6.5ZM164.1 -20.2 165.4 -21.2 167 -22.2 166.5 -22.3 164.5 -21 164 -20.3ZM177.3 -17.5 178.6 -17.6 178.4 -18.3 177.3 -18.2ZM166.6 -14.6 167.2 -15.8 167.9 -16.5 168.3 -17.7 167.3 -16 166.6 -15.5ZM-78 25.2 -77.2 26.6 -77.8 26.5 -78.5 24.6 -76.5 24.3 -75.5 23.6 -76 24.7ZM-122.5 76.3 -120 77.3 -116.5 77.5 -117.5 76.2ZM-104.5 78.2 -101 79 -97 78.8 -95 77.9 -99 77.6 -103 77.8ZM-96.5 74.8 -93 75.5 -92.5 74.9 -95 74.5ZM-99 68.8 -96.5 69.6 -95.5 68.8 -97.5 68.3ZM-80.5 73 -78 73.7 -76 73.3 -79 72.8ZM-86 67 -83.5 69.8 -81.3 69.3 -82 67.5 -84 66.5ZM-112 78.5 -110 79 -106 78.6 -108 78ZM-113.5 77 -110 77.6 -107.5 77.3 -111 76.7ZM-180 -78.3 -172 -78.5 -163.9 -78.7 -158 -77.6 -147.5 -75.9 -135 -75 -126.5 -74 -118 -74.3 -108.1 -74.7 -102.9 -73 -101.6 -72.4 -95 -72.4 -88 -73.3 -81.9 -74 -77 -72 -72 -70 -68.1 -68.2 -63.5 -65.8 -59.3 -63.7 -55.5 -62 -53.8 -61.3 -55 -62.5 -57.1 -64.8 -60.4 -67 -61.5 -70.3 -61 -75.4 -55 -76.8 -47.3 -78.1 -36.8 -78.8 -28.9 -76.7 -19.8 -73.4 -8 -70.8 0 -70.2 13.7 -70.2 29.4 -69.9 39.2 -70.1 43.1 -68.4 52.4 -66.6 59.5 -67.6 70 -68.7 74.2 -70.2 79.2 -68.4 85.7 -66.8 96.2 -65.8 109.3 -67.1 118.5 -67.4 130.3 -66.8 134.8 -66.8 144.7 -67.4 154.5 -69 164.4 -71 170.3 -72.2 164.4 -74.7 163 -76.6 165.7 -78 172 -78 180 -78 180 -91 -180 -91Z" fill="#cdcdcd"/></g><clipPath id="clip0"><rect x="62.90" y="34.30" width="810.65" height="404.90"/></clipPath><clipPath id="clip1"><rect x="1022.55" y="33.35" width="811.10" height="405.05"/></clipPath></defs><g clip-path="url(#clip0)"><use href="#land" transform="matrix(2.2518 0 0 -2.2494 468.22 236.75)"/><path d="M164.23 34.3V439.2M265.56 34.3V439.2M366.89 34.3V439.2M468.22 34.3V439.2M569.56 34.3V439.2M670.89 34.3V439.2M772.22 34.3V439.2M62.9 337.98H873.5M62.9 236.75H873.5M62.9 135.53H873.5" stroke="#c0c0c0" stroke-width="1.3" fill="none"/><g stroke="#0a0a0a" stroke-width="1.4"><circle cx="264.2" cy="162.4" r="3.5" fill="#7fb4f7"/><circle cx="274.6" cy="208.4" r="3.5" fill="#7fb4f7"/><circle cx="552.6" cy="135.2" r="3.5" fill="#7fb4f7"/><circle cx="701.6" cy="233.4" r="3.5" fill="#96f6de"/><circle cx="731.5" cy="143.7" r="3.5" fill="#7fb4f7"/><circle cx="481.8" cy="147.3" r="3.5" fill="#7fb4f7"/><circle cx="547.8" cy="169.4" r="3.5" fill="#7fb4f7"/><circle cx="726.5" cy="225.9" r="3.5" fill="#96f6de"/><circle cx="612.0" cy="142.5" r="3.5" fill="#7fb4f7"/><circle cx="691.2" cy="216.0" r="3.5" fill="#7fb4f7"/><circle cx="301.6" cy="126.5" r="3.5" fill="#96f6de"/><circle cx="308.2" cy="329.5" r="3.5" fill="#96f6de"/><circle cx="360.4" cy="275.6" r="3.5" fill="#7fb4f7"/><circle cx="466.0" cy="151.6" r="3.5" fill="#7fb4f7"/><circle cx="168.5" cy="96.8" r="3.5" fill="#96f6de"/><circle cx="244.7" cy="163.5" r="3.5" fill="#96f6de"/><circle cx="585.3" cy="130.6" r="3.5" fill="#7fb4f7"/><circle cx="287.7" cy="122.8" r="3.5" fill="#96f6de"/><circle cx="445.3" cy="118.0" r="3.5" fill="#96f6de"/><circle cx="498.7" cy="127.7" r="3.5" fill="#7fb4f7"/><circle cx="192.5" cy="124.2" r="3.5" fill="#96f6de"/><circle cx="456.0" cy="111.2" r="3.5" fill="#96f6de"/><circle cx="497.8" cy="143.1" r="3.5" fill="#7fb4f7"/><circle cx="706.1" cy="188.6" r="3.5" fill="#7fb4f7"/><circle cx="189.3" cy="127.8" r="3.5" fill="#96f6de"/><circle cx="341.4" cy="287.5" r="3.5" fill="#7fb4f7"/><circle cx="186.7" cy="103.5" r="3.5" fill="#7fb4f7"/><circle cx="131.7" cy="102.6" r="3.5" fill="#96f6de"/><circle cx="331.1" cy="324.6" r="3.5" fill="#7fb4f7"/><circle cx="616.9" cy="149.1" r="3.5" fill="#7fb4f7"/><circle cx="289.2" cy="160.9" r="3.5" fill="#7fb4f7"/><circle cx="190.2" cy="99.0" r="3.5" fill="#7fb4f7"/><circle cx="528.6" cy="79.5" r="3.5" fill="#7fb4f7"/><circle cx="760.4" cy="97.0" r="3.5" fill="#96f6de"/><circle cx="224.1" cy="135.1" r="3.5" fill="#96f6de"/><circle cx="474.3" cy="138.8" r="3.5" fill="#96f6de"/><circle cx="674.2" cy="177.9" r="3.5" fill="#96f6de"/><circle cx="289.5" cy="150.6" r="3.5" fill="#7fb4f7"/><circle cx="477.9" cy="147.9" r="3.5" fill="#96f6de"/><circle cx="518.4" cy="144.0" r="3.5" fill="#7fb4f7"/><circle cx="430.4" cy="163.5" r="3.5" fill="#7fb4f7"/><circle cx="338.7" cy="128.4" r="3.5" fill="#96f6de"/><circle cx="564.6" cy="191.3" r="3.5" fill="#7fb4f7"/><circle cx="259.7" cy="202.9" r="3.5" fill="#96f6de"/><circle cx="337.7" cy="273.5" r="3.5" fill="#7fb4f7"/><circle cx="340.7" cy="293.9" r="3.5" fill="#7fb4f7"/><circle cx="312.0" cy="62.6" r="3.5" fill="#96f6de"/><circle cx="349.2" cy="310.7" r="3.5" fill="#7fb4f7"/><circle cx="194.9" cy="150.7" r="3.5" fill="#96f6de"/><circle cx="472.1" cy="128.2" r="3.5" fill="#7fb4f7"/><circle cx="345.8" cy="287.8" r="3.5" fill="#7fb4f7"/><circle cx="191.0" cy="106.4" r="3.5" fill="#96f6de"/><circle cx="446.1" cy="112.0" r="3.5" fill="#7fb4f7"/><circle cx="798.6" cy="279.8" r="3.5" fill="#7fb4f7"/><circle cx="531.9" cy="142.6" r="3.5" fill="#96f6de"/><circle cx="316.9" cy="256.0" r="3.5" fill="#7fb4f7"/><circle cx="536.7" cy="136.6" r="3.5" fill="#7fb4f7"/><circle cx="561.3" cy="164.2" r="3.5" fill="#7fb4f7"/><circle cx="354.4" cy="86.3" r="3.5" fill="#96f6de"/><circle cx="765.6" cy="138.6" r="3.5" fill="#7fb4f7"/><circle cx="285.4" cy="129.3" r="3.5" fill="#96f6de"/><circle cx="352.5" cy="293.4" r="3.5" fill="#7fb4f7"/><circle cx="515.8" cy="142.3" r="3.5" fill="#7fb4f7"/><circle cx="314.0" cy="92.9" r="3.5" fill="#96f6de"/><circle cx="317.6" cy="124.4" r="3.5" fill="#96f6de"/><circle cx="571.7" cy="159.0" r="3.5" fill="#7fb4f7"/><circle cx="574.2" cy="171.3" r="3.5" fill="#96f6de"/><circle cx="241.7" cy="169.1" r="3.5" fill="#7fb4f7"/><circle cx="303.4" cy="324.9" r="3.5" fill="#7fb4f7"/><circle cx="213.3" cy="143.9" r="3.5" fill="#96f6de"/><circle cx="261.7" cy="114.7" r="3.5" fill="#96f6de"/><circle cx="203.7" cy="149.6" r="3.5" fill="#7fb4f7"/><circle cx="225.0" cy="123.1" r="3.5" fill="#96f6de"/><circle cx="278.3" cy="214.6" r="3.5" fill="#7fb4f7"/><circle cx="221.6" cy="139.5" r="3.5" fill="#96f6de"/><circle cx="339.0" cy="121.7" r="3.5" fill="#7fb4f7"/><circle cx="458.9" cy="123.5" r="3.5" fill="#7fb4f7"/><circle cx="201.5" cy="155.6" r="3.5" fill="#96f6de"/><circle cx="96.2" cy="98.1" r="3.5" fill="#96f6de"/><circle cx="265.9" cy="189.2" r="3.5" fill="#7fb4f7"/><circle cx="465.9" cy="157.4" r="3.5" fill="#7fb4f7"/><circle cx="468.5" cy="128.7" r="3.5" fill="#7fb4f7"/><circle cx="868.0" cy="90.8" r="3.5" fill="#96f6de"/><circle cx="344.6" cy="283.5" r="3.5" fill="#7fb4f7"/><circle cx="494.7" cy="101.6" r="3.5" fill="#7fb4f7"/><circle cx="340.0" cy="125.0" r="3.5" fill="#96f6de"/><circle cx="225.5" cy="86.5" r="3.5" fill="#96f6de"/><circle cx="326.9" cy="120.7" r="3.5" fill="#96f6de"/><circle cx="309.4" cy="288.4" r="3.5" fill="#96f6de"/><circle cx="529.3" cy="97.9" r="3.5" fill="#7fb4f7"/><circle cx="377.9" cy="254.9" r="3.5" fill="#7fb4f7"/><circle cx="524.7" cy="101.9" r="3.5" fill="#96f6de"/><circle cx="544.2" cy="125.7" r="3.5" fill="#7fb4f7"/><circle cx="194.5" cy="145.3" r="3.5" fill="#96f6de"/><circle cx="484.8" cy="114.9" r="3.5" fill="#96f6de"/><circle cx="314.9" cy="273.5" r="3.5" fill="#96f6de"/><circle cx="220.9" cy="160.5" r="3.5" fill="#7fb4f7"/><circle cx="205.7" cy="112.8" r="3.5" fill="#96f6de"/><circle cx="216.7" cy="136.2" r="3.5" fill="#96f6de"/><circle cx="327.4" cy="124.4" r="3.5" fill="#96f6de"/><circle cx="217.8" cy="88.4" r="3.5" fill="#96f6de"/><circle cx="443.8" cy="121.3" r="3.5" fill="#7fb4f7"/><circle cx="475.7" cy="221.4" r="3.5" fill="#96f6de"/><circle cx="526.7" cy="75.4" r="3.5" fill="#7fb4f7"/><circle cx="300.6" cy="129.2" r="3.5" fill="#7fb4f7"/><circle cx="264.8" cy="144.4" r="3.5" fill="#7fb4f7"/><circle cx="451.1" cy="159.8" r="3.5" fill="#7fb4f7"/><circle cx="573.0" cy="272.2" r="3.5" fill="#7fb4f7"/><circle cx="363.5" cy="263.2" r="3.5" fill="#7fb4f7"/><circle cx="776.9" cy="317.0" r="3.5" fill="#96f6de"/><circle cx="239.6" cy="125.5" r="3.5" fill="#96f6de"/><circle cx="355.9" cy="262.8" r="3.5" fill="#7fb4f7"/><circle cx="257.2" cy="146.2" r="3.5" fill="#7fb4f7"/><circle cx="577.8" cy="157.2" r="3.5" fill="#96f6de"/><circle cx="246.7" cy="153.8" r="3.5" fill="#96f6de"/><circle cx="570.4" cy="155.2" r="3.5" fill="#7fb4f7"/><circle cx="543.9" cy="173.2" r="3.5" fill="#96f6de"/><circle cx="219.1" cy="115.1" r="3.5" fill="#96f6de"/><circle cx="284.2" cy="155.1" r="3.5" fill="#7fb4f7"/><circle cx="194.9" cy="125.3" r="3.5" fill="#7fb4f7"/><circle cx="519.0" cy="77.0" r="3.5" fill="#96f6de"/><circle cx="539.4" cy="169.4" r="3.5" fill="#7fb4f7"/><circle cx="721.6" cy="151.1" r="3.5" fill="#7fb4f7"/><circle cx="234.7" cy="161.9" r="3.5" fill="#7fb4f7"/><circle cx="296.0" cy="134.5" r="3.5" fill="#96f6de"/><circle cx="386.0" cy="259.2" r="3.5" fill="#7fb4f7"/><circle cx="251.7" cy="125.1" r="3.5" fill="#96f6de"/><circle cx="237.8" cy="111.7" r="3.5" fill="#7fb4f7"/><circle cx="222.8" cy="101.9" r="3.5" fill="#7fb4f7"/><circle cx="379.0" cy="261.5" r="3.5" fill="#7fb4f7"/><circle cx="236.6" cy="105.5" r="3.5" fill="#96f6de"/><circle cx="265.6" cy="168.7" r="3.5" fill="#7fb4f7"/><circle cx="464.2" cy="144.0" r="3.5" fill="#7fb4f7"/><circle cx="192.4" cy="114.9" r="3.5" fill="#96f6de"/><circle cx="330.6" cy="129.1" r="3.5" fill="#96f6de"/><circle cx="368.7" cy="272.0" r="3.5" fill="#7fb4f7"/><circle cx="518.0" cy="84.4" r="3.5" fill="#96f6de"/><circle cx="306.8" cy="122.5" r="3.5" fill="#7fb4f7"/><circle cx="264.6" cy="204.1" r="3.5" fill="#96f6de"/><circle cx="492.2" cy="153.7" r="3.5" fill="#7fb4f7"/><circle cx="247.6" cy="132.9" r="3.5" fill="#7fb4f7"/><circle cx="217.4" cy="130.8" r="3.5" fill="#7fb4f7"/><circle cx="218.7" cy="122.2" r="3.5" fill="#96f6de"/><circle cx="251.5" cy="129.2" r="3.5" fill="#7fb4f7"/><circle cx="176.3" cy="94.2" r="3.5" fill="#96f6de"/><circle cx="333.1" cy="118.1" r="3.5" fill="#96f6de"/><circle cx="215.3" cy="148.0" r="3.5" fill="#96f6de"/><circle cx="259.0" cy="112.8" r="3.5" fill="#96f6de"/><circle cx="673.7" cy="115.7" r="3.5" fill="#7fb4f7"/><circle cx="261.5" cy="162.0" r="3.5" fill="#7fb4f7"/><circle cx="496.1" cy="140.2" r="3.5" fill="#7fb4f7"/><circle cx="328.0" cy="50.9" r="3.5" fill="#96f6de"/><circle cx="529.7" cy="166.1" r="3.5" fill="#7fb4f7"/><circle cx="518.7" cy="312.8" r="3.5" fill="#7fb4f7"/><circle cx="552.0" cy="146.8" r="3.5" fill="#96f6de"/><circle cx="582.8" cy="98.2" r="3.5" fill="#7fb4f7"/><circle cx="351.3" cy="225.1" r="3.5" fill="#7fb4f7"/><circle cx="284.2" cy="123.0" r="3.5" fill="#96f6de"/><circle cx="209.2" cy="108.3" r="3.5" fill="#7fb4f7"/><circle cx="457.6" cy="150.0" r="3.5" fill="#7fb4f7"/><circle cx="464.1" cy="117.6" r="3.5" fill="#7fb4f7"/><circle cx="370.1" cy="257.1" r="3.5" fill="#7fb4f7"/><circle cx="523.0" cy="154.9" r="3.5" fill="#7fb4f7"/><circle cx="277.2" cy="72.3" r="3.5" fill="#96f6de"/><circle cx="471.6" cy="223.0" r="3.5" fill="#7fb4f7"/><circle cx="193.1" cy="103.9" r="3.5" fill="#7fb4f7"/><circle cx="206.7" cy="119.8" r="3.5" fill="#96f6de"/><circle cx="454.5" cy="153.9" r="3.5" fill="#96f6de"/><circle cx="485.5" cy="167.6" r="3.5" fill="#96f6de"/><circle cx="657.3" cy="117.4" r="3.5" fill="#96f6de"/><circle cx="219.3" cy="171.0" r="3.5" fill="#7fb4f7"/><circle cx="787.9" cy="319.0" r="3.5" fill="#96f6de"/><circle cx="722.8" cy="173.6" r="3.5" fill="#7fb4f7"/><circle cx="334.4" cy="207.1" r="3.5" fill="#7fb4f7"/><circle cx="346.4" cy="281.0" r="3.5" fill="#7fb4f7"/><circle cx="316.6" cy="339.4" r="3.5" fill="#96f6de"/><circle cx="217.8" cy="109.1" r="3.5" fill="#96f6de"/><circle cx="762.6" cy="263.8" r="3.5" fill="#7fb4f7"/><circle cx="361.4" cy="284.5" r="3.5" fill="#7fb4f7"/><circle cx="508.0" cy="287.2" r="3.5" fill="#7fb4f7"/><circle cx="209.2" cy="113.1" r="3.5" fill="#96f6de"/><circle cx="560.1" cy="91.6" r="3.5" fill="#7fb4f7"/><circle cx="520.9" cy="144.1" r="3.5" fill="#96f6de"/><circle cx="364.4" cy="256.3" r="3.5" fill="#7fb4f7"/><circle cx="196.3" cy="97.5" r="3.5" fill="#96f6de"/><circle cx="783.1" cy="139.9" r="3.5" fill="#96f6de"/><circle cx="807.0" cy="101.7" r="3.5" fill="#96f6de"/><circle cx="769.6" cy="308.9" r="3.5" fill="#7fb4f7"/><circle cx="493.2" cy="86.3" r="3.5" fill="#96f6de"/><circle cx="344.3" cy="127.4" r="3.5" fill="#96f6de"/><circle cx="308.9" cy="297.1" r="3.5" fill="#96f6de"/><circle cx="631.9" cy="184.8" r="3.5" fill="#7fb4f7"/><circle cx="503.7" cy="97.0" r="3.5" fill="#7fb4f7"/><circle cx="512.1" cy="104.7" r="3.5" fill="#96f6de"/><circle cx="557.5" cy="144.0" r="3.5" fill="#96f6de"/><circle cx="324.3" cy="132.9" r="3.5" fill="#7fb4f7"/><circle cx="310.6" cy="121.2" r="3.5" fill="#96f6de"/><circle cx="283.3" cy="184.7" r="3.5" fill="#7fb4f7"/><circle cx="515.5" cy="81.5" r="3.5" fill="#96f6de"/><circle cx="324.3" cy="115.5" r="3.5" fill="#96f6de"/><circle cx="318.2" cy="117.5" r="3.5" fill="#96f6de"/><circle cx="209.2" cy="132.8" r="3.5" fill="#96f6de"/><circle cx="751.4" cy="138.1" r="3.5" fill="#7fb4f7"/><circle cx="267.0" cy="157.4" r="3.5" fill="#96f6de"/><circle cx="474.7" cy="151.9" r="3.5" fill="#96f6de"/><circle cx="353.4" cy="275.2" r="3.5" fill="#7fb4f7"/><circle cx="447.8" cy="125.9" r="3.5" fill="#96f6de"/><circle cx="527.9" cy="302.1" r="3.5" fill="#7fb4f7"/><circle cx="224.8" cy="104.9" r="3.5" fill="#96f6de"/><circle cx="449.9" cy="135.5" r="3.5" fill="#7fb4f7"/><circle cx="211.1" cy="138.9" r="3.5" fill="#96f6de"/><circle cx="767.6" cy="156.0" r="3.5" fill="#96f6de"/><circle cx="750.2" cy="180.3" r="3.5" fill="#7fb4f7"/><circle cx="573.0" cy="166.8" r="3.5" fill="#7fb4f7"/><circle cx="226.4" cy="110.0" r="3.5" fill="#96f6de"/><circle cx="353.1" cy="280.2" r="3.5" fill="#7fb4f7"/><circle cx="812.2" cy="308.9" r="3.5" fill="#7fb4f7"/><circle cx="231.3" cy="70.3" r="3.5" fill="#96f6de"/><circle cx="781.8" cy="294.7" r="3.5" fill="#7fb4f7"/><circle cx="788.3" cy="302.8" r="3.5" fill="#7fb4f7"/><circle cx="708.4" cy="128.6" r="3.5" fill="#96f6de"/><circle cx="288.8" cy="142.7" r="3.5" fill="#7fb4f7"/><circle cx="263.6" cy="124.6" r="3.5" fill="#96f6de"/><circle cx="278.9" cy="164.5" r="3.5" fill="#7fb4f7"/><circle cx="270.7" cy="152.0" r="3.5" fill="#7fb4f7"/><circle cx="578.8" cy="177.1" r="3.5" fill="#7fb4f7"/><circle cx="765.4" cy="163.7" r="3.5" fill="#7fb4f7"/><circle cx="488.7" cy="160.4" r="3.5" fill="#7fb4f7"/><circle cx="371.6" cy="268.9" r="3.5" fill="#7fb4f7"/><circle cx="524.3" cy="143.7" r="3.5" fill="#7fb4f7"/><circle cx="357.2" cy="298.4" r="3.5" fill="#7fb4f7"/><circle cx="348.5" cy="283.6" r="3.5" fill="#7fb4f7"/><circle cx="458.9" cy="162.2" r="3.5" fill="#7fb4f7"/><circle cx="450.2" cy="120.9" r="3.5" fill="#96f6de"/><circle cx="508.2" cy="111.2" r="3.5" fill="#7fb4f7"/><circle cx="503.0" cy="246.1" r="3.5" fill="#96f6de"/><circle cx="786.3" cy="149.8" r="3.5" fill="#7fb4f7"/><circle cx="231.5" cy="167.9" r="3.5" fill="#96f6de"/><circle cx="319.3" cy="129.8" r="3.5" fill="#96f6de"/><circle cx="530.8" cy="93.1" r="3.5" fill="#7fb4f7"/><circle cx="492.8" cy="129.8" r="3.5" fill="#7fb4f7"/><circle cx="539.2" cy="56.9" r="3.5" fill="#96f6de"/><circle cx="454.0" cy="127.4" r="3.5" fill="#7fb4f7"/><circle cx="562.3" cy="156.9" r="3.5" fill="#7fb4f7"/><circle cx="633.1" cy="113.2" r="3.5" fill="#7fb4f7"/><circle cx="266.8" cy="114.9" r="3.5" fill="#7fb4f7"/><circle cx="355.3" cy="250.3" r="3.5" fill="#7fb4f7"/><circle cx="746.5" cy="142.8" r="3.5" fill="#7fb4f7"/><circle cx="519.2" cy="119.5" r="3.5" fill="#96f6de"/><circle cx="543.9" cy="158.4" r="3.5" fill="#7fb4f7"/><circle cx="552.9" cy="110.6" r="3.5" fill="#7fb4f7"/><circle cx="270.9" cy="144.9" r="3.5" fill="#7fb4f7"/><circle cx="478.8" cy="153.6" r="3.5" fill="#96f6de"/><circle cx="252.4" cy="146.1" r="3.5" fill="#7fb4f7"/><circle cx="561.1" cy="142.2" r="3.5" fill="#96f6de"/><circle cx="526.5" cy="153.9" r="3.5" fill="#7fb4f7"/><circle cx="334.5" cy="134.6" r="3.5" fill="#7fb4f7"/><circle cx="585.8" cy="111.5" r="3.5" fill="#96f6de"/><circle cx="224.7" cy="116.3" r="3.5" fill="#96f6de"/><circle cx="327.0" cy="117.5" r="3.5" fill="#7fb4f7"/><circle cx="264.4" cy="157.6" r="3.5" fill="#7fb4f7"/><circle cx="382.6" cy="283.3" r="3.5" fill="#7fb4f7"/><circle cx="478.4" cy="156.0" r="3.5" fill="#7fb4f7"/><circle cx="518.6" cy="126.0" r="3.5" fill="#7fb4f7"/><circle cx="510.0" cy="143.3" r="3.5" fill="#7fb4f7"/><circle cx="508.5" cy="81.7" r="3.5" fill="#96f6de"/><circle cx="474.9" cy="168.1" r="3.5" fill="#7fb4f7"/><circle cx="716.1" cy="179.9" r="3.5" fill="#7fb4f7"/><circle cx="541.6" cy="294.6" r="3.5" fill="#7fb4f7"/><circle cx="283.8" cy="119.4" r="3.5" fill="#7fb4f7"/><circle cx="730.3" cy="256.3" r="3.5" fill="#7fb4f7"/><circle cx="471.1" cy="138.7" r="3.5" fill="#96f6de"/><circle cx="182.1" cy="113.0" r="3.5" fill="#7fb4f7"/><circle cx="511.8" cy="97.2" r="3.5" fill="#96f6de"/><circle cx="184.9" cy="106.3" r="3.5" fill="#96f6de"/><circle cx="156.0" cy="98.7" r="3.5" fill="#96f6de"/><circle cx="231.9" cy="114.3" r="3.5" fill="#96f6de"/><circle cx="570.1" cy="145.6" r="3.5" fill="#7fb4f7"/><circle cx="445.7" cy="160.5" r="3.5" fill="#96f6de"/><circle cx="560.5" cy="146.6" r="3.5" fill="#7fb4f7"/><circle cx="228.7" cy="105.8" r="3.5" fill="#7fb4f7"/><circle cx="503.4" cy="138.5" r="3.5" fill="#7fb4f7"/><circle cx="437.0" cy="205.5" r="3.5" fill="#96f6de"/><circle cx="332.8" cy="320.8" r="3.5" fill="#7fb4f7"/><circle cx="354.4" cy="283.7" r="3.5" fill="#7fb4f7"/><circle cx="556.2" cy="119.8" r="3.5" fill="#7fb4f7"/><circle cx="631.9" cy="144.8" r="3.5" fill="#7fb4f7"/><circle cx="572.8" cy="141.4" r="3.5" fill="#96f6de"/><circle cx="537.4" cy="100.1" r="3.5" fill="#96f6de"/><circle cx="574.0" cy="292.7" r="3.5" fill="#7fb4f7"/><circle cx="386.0" cy="253.7" r="3.5" fill="#7fb4f7"/><circle cx="523.0" cy="129.6" r="3.5" fill="#96f6de"/><circle cx="381.9" cy="256.4" r="3.5" fill="#96f6de"/><circle cx="204.6" cy="155.7" r="3.5" fill="#96f6de"/><circle cx="526.9" cy="107.7" r="3.5" fill="#7fb4f7"/><circle cx="357.4" cy="256.4" r="3.5" fill="#7fb4f7"/><circle cx="787.8" cy="143.9" r="3.5" fill="#96f6de"/><circle cx="286.7" cy="165.7" r="3.5" fill="#7fb4f7"/><circle cx="699.1" cy="198.5" r="3.5" fill="#7fb4f7"/><circle cx="465.4" cy="120.0" r="3.5" fill="#96f6de"/><circle cx="259.3" cy="105.6" r="3.5" fill="#96f6de"/><circle cx="377.2" cy="281.8" r="3.5" fill="#7fb4f7"/><circle cx="292.0" cy="188.5" r="3.5" fill="#7fb4f7"/><circle cx="803.1" cy="282.5" r="3.5" fill="#7fb4f7"/><circle cx="197.9" cy="135.7" r="3.5" fill="#96f6de"/><circle cx="273.6" cy="134.9" r="3.5" fill="#96f6de"/><circle cx="286.8" cy="118.4" r="3.5" fill="#96f6de"/><circle cx="222.7" cy="113.0" r="3.5" fill="#96f6de"/><circle cx="298.9" cy="131.9" r="3.5" fill="#96f6de"/><circle cx="348.2" cy="299.7" r="3.5" fill="#7fb4f7"/><circle cx="497.8" cy="93.1" r="3.5" fill="#7fb4f7"/><circle cx="795.0" cy="319.0" r="3.5" fill="#7fb4f7"/><circle cx="752.4" cy="133.6" r="3.5" fill="#7fb4f7"/><circle cx="373.0" cy="252.9" r="3.5" fill="#7fb4f7"/><circle cx="248.7" cy="125.5" r="3.5" fill="#96f6de"/><circle cx="298.8" cy="154.5" r="3.5" fill="#96f6de"/><circle cx="153.7" cy="103.3" r="3.5" fill="#96f6de"/><circle cx="292.0" cy="237.4" r="3.5" fill="#7fb4f7"/><circle cx="769.6" cy="290.0" r="3.5" fill="#7fb4f7"/><circle cx="475.0" cy="146.7" r="3.5" fill="#7fb4f7"/><circle cx="357.2" cy="295.6" r="3.5" fill="#7fb4f7"/><circle cx="535.4" cy="95.5" r="3.5" fill="#96f6de"/><circle cx="661.8" cy="191.1" r="3.5" fill="#7fb4f7"/><circle cx="310.9" cy="245.8" r="3.5" fill="#7fb4f7"/><circle cx="469.5" cy="159.4" r="3.5" fill="#7fb4f7"/><circle cx="353.2" cy="264.5" r="3.5" fill="#7fb4f7"/><circle cx="539.4" cy="132.4" r="3.5" fill="#7fb4f7"/><circle cx="321.1" cy="88.4" r="3.5" fill="#96f6de"/><circle cx="244.1" cy="159.3" r="3.5" fill="#96f6de"/><circle cx="741.2" cy="305.2" r="3.5" fill="#7fb4f7"/><circle cx="526.0" cy="125.1" r="3.5" fill="#7fb4f7"/><circle cx="379.3" cy="272.1" r="3.5" fill="#7fb4f7"/><circle cx="467.4" cy="224.7" r="3.5" fill="#7fb4f7"/><circle cx="583.6" cy="138.0" r="3.5" fill="#7fb4f7"/><circle cx="315.7" cy="136.0" r="3.5" fill="#96f6de"/><circle cx="485.1" cy="137.2" r="3.5" fill="#7fb4f7"/><circle cx="504.3" cy="150.5" r="3.5" fill="#96f6de"/><circle cx="540.2" cy="135.9" r="3.5" fill="#7fb4f7"/><circle cx="93.6" cy="115.3" r="3.5" fill="#96f6de"/><circle cx="641.9" cy="139.9" r="3.5" fill="#96f6de"/><circle cx="300.3" cy="149.2" r="3.5" fill="#96f6de"/><circle cx="456.6" cy="218.0" r="3.5" fill="#7fb4f7"/><circle cx="322.9" cy="321.3" r="3.5" fill="#7fb4f7"/><circle cx="248.4" cy="112.3" r="3.5" fill="#96f6de"/><circle cx="517.3" cy="139.3" r="3.5" fill="#96f6de"/><circle cx="517.5" cy="95.6" r="3.5" fill="#7fb4f7"/><circle cx="475.3" cy="164.9" r="3.5" fill="#96f6de"/><circle cx="308.9" cy="304.1" r="3.5" fill="#96f6de"/><circle cx="593.4" cy="283.4" r="3.5" fill="#7fb4f7"/><circle cx="213.8" cy="164.0" r="3.5" fill="#7fb4f7"/><circle cx="343.1" cy="246.8" r="3.5" fill="#7fb4f7"/><circle cx="332.5" cy="126.4" r="3.5" fill="#7fb4f7"/><circle cx="539.5" cy="147.2" r="3.5" fill="#96f6de"/><circle cx="465.6" cy="114.0" r="3.5" fill="#7fb4f7"/><circle cx="544.2" cy="121.3" r="3.5" fill="#7fb4f7"/><circle cx="542.9" cy="146.8" r="3.5" fill="#7fb4f7"/><circle cx="433.0" cy="173.2" r="3.5" fill="#96f6de"/><circle cx="502.4" cy="135.1" r="3.5" fill="#7fb4f7"/><circle cx="449.1" cy="157.6" r="3.5" fill="#96f6de"/><circle cx="533.9" cy="157.2" r="3.5" fill="#7fb4f7"/><circle cx="299.5" cy="223.3" r="3.5" fill="#7fb4f7"/><circle cx="654.3" cy="113.2" r="3.5" fill="#7fb4f7"/><circle cx="254.3" cy="167.1" r="3.5" fill="#7fb4f7"/><circle cx="116.2" cy="89.7" r="3.5" fill="#96f6de"/><circle cx="269.1" cy="136.4" r="3.5" fill="#7fb4f7"/><circle cx="483.1" cy="166.5" r="3.5" fill="#7fb4f7"/><circle cx="485.4" cy="151.3" r="3.5" fill="#96f6de"/><circle cx="246.1" cy="129.0" r="3.5" fill="#96f6de"/><circle cx="360.0" cy="239.4" r="3.5" fill="#96f6de"/><circle cx="519.0" cy="135.0" r="3.5" fill="#7fb4f7"/><circle cx="751.4" cy="161.2" r="3.5" fill="#96f6de"/><circle cx="299.8" cy="124.6" r="3.5" fill="#7fb4f7"/><circle cx="554.5" cy="141.8" r="3.5" fill="#7fb4f7"/><circle cx="238.3" cy="165.0" r="3.5" fill="#7fb4f7"/><circle cx="450.6" cy="169.0" r="3.5" fill="#7fb4f7"/><circle cx="362.4" cy="246.7" r="3.5" fill="#7fb4f7"/><circle cx="772.6" cy="127.9" r="3.5" fill="#96f6de"/><circle cx="729.0" cy="307.8" r="3.5" fill="#7fb4f7"/><circle cx="218.7" cy="101.1" r="3.5" fill="#7fb4f7"/><circle cx="178.2" cy="101.3" r="3.5" fill="#7fb4f7"/><circle cx="717.1" cy="233.4" r="3.5" fill="#7fb4f7"/><circle cx="741.5" cy="149.1" r="3.5" fill="#96f6de"/><circle cx="268.3" cy="169.4" r="3.5" fill="#7fb4f7"/><circle cx="245.7" cy="179.2" r="3.5" fill="#96f6de"/><circle cx="519.1" cy="151.1" r="3.5" fill="#96f6de"/><circle cx="207.3" cy="103.4" r="3.5" fill="#96f6de"/><circle cx="228.8" cy="132.5" r="3.5" fill="#96f6de"/><circle cx="537.1" cy="144.4" r="3.5" fill="#96f6de"/><circle cx="259.2" cy="151.8" r="3.5" fill="#96f6de"/><circle cx="451.6" cy="109.9" r="3.5" fill="#7fb4f7"/><circle cx="237.9" cy="132.2" r="3.5" fill="#7fb4f7"/><circle cx="722.8" cy="229.7" r="3.5" fill="#7fb4f7"/><circle cx="258.2" cy="82.0" r="3.5" fill="#96f6de"/><circle cx="450.0" cy="174.0" r="3.5" fill="#7fb4f7"/><circle cx="591.0" cy="181.6" r="3.5" fill="#7fb4f7"/><circle cx="639.4" cy="148.1" r="3.5" fill="#96f6de"/><circle cx="192.1" cy="129.5" r="3.5" fill="#7fb4f7"/><circle cx="308.3" cy="144.4" r="3.5" fill="#7fb4f7"/><circle cx="483.2" cy="162.1" r="3.5" fill="#96f6de"/><circle cx="463.5" cy="155.7" r="3.5" fill="#7fb4f7"/><circle cx="320.6" cy="285.9" r="3.5" fill="#96f6de"/><circle cx="701.1" cy="224.7" r="3.5" fill="#96f6de"/><circle cx="739.7" cy="202.3" r="3.5" fill="#7fb4f7"/><circle cx="245.4" cy="168.2" r="3.5" fill="#7fb4f7"/><circle cx="209.6" cy="148.8" r="3.5" fill="#7fb4f7"/><circle cx="272.0" cy="169.0" r="3.5" fill="#7fb4f7"/><circle cx="237.8" cy="90.0" r="3.5" fill="#96f6de"/><circle cx="471.1" cy="172.6" r="3.5" fill="#7fb4f7"/><circle cx="490.4" cy="119.9" r="3.5" fill="#7fb4f7"/><circle cx="534.4" cy="90.9" r="3.5" fill="#7fb4f7"/><circle cx="466.4" cy="131.3" r="3.5" fill="#7fb4f7"/><circle cx="543.3" cy="140.7" r="3.5" fill="#96f6de"/><circle cx="318.5" cy="311.3" r="3.5" fill="#7fb4f7"/><circle cx="211.8" cy="168.3" r="3.5" fill="#96f6de"/><circle cx="532.2" cy="159.2" r="3.5" fill="#7fb4f7"/><circle cx="372.5" cy="272.1" r="3.5" fill="#7fb4f7"/><circle cx="794.0" cy="322.1" r="3.5" fill="#96f6de"/><circle cx="305.5" cy="132.6" r="3.5" fill="#96f6de"/><circle cx="495.2" cy="90.0" r="3.5" fill="#7fb4f7"/><circle cx="444.9" cy="168.3" r="3.5" fill="#7fb4f7"/><circle cx="266.8" cy="115.3" r="3.5" fill="#7fb4f7"/><circle cx="661.8" cy="112.7" r="3.5" fill="#96f6de"/><circle cx="457.1" cy="128.5" r="3.5" fill="#7fb4f7"/><circle cx="725.3" cy="95.8" r="3.5" fill="#96f6de"/><circle cx="305.7" cy="218.3" r="3.5" fill="#96f6de"/><circle cx="382.6" cy="270.8" r="3.5" fill="#7fb4f7"/><circle cx="340.1" cy="264.8" r="3.5" fill="#7fb4f7"/><circle cx="730.3" cy="184.3" r="3.5" fill="#96f6de"/><circle cx="205.8" cy="145.6" r="3.5" fill="#96f6de"/><circle cx="409.2" cy="406.6" r="3.5" fill="#96f6de"/><circle cx="141.0" cy="100.3" r="3.5" fill="#96f6de"/><circle cx="226.7" cy="158.5" r="3.5" fill="#7fb4f7"/><circle cx="508.9" cy="147.7" r="3.5" fill="#7fb4f7"/><circle cx="711.1" cy="199.8" r="3.5" fill="#7fb4f7"/><circle cx="243.8" cy="147.6" r="3.5" fill="#96f6de"/><circle cx="532.9" cy="135.9" r="3.5" fill="#7fb4f7"/><circle cx="505.9" cy="111.2" r="3.5" fill="#7fb4f7"/><circle cx="220.1" cy="109.4" r="3.5" fill="#7fb4f7"/><circle cx="534.0" cy="83.4" r="3.5" fill="#7fb4f7"/><circle cx="198.9" cy="71.9" r="3.5" fill="#96f6de"/><circle cx="534.7" cy="124.1" r="3.5" fill="#7fb4f7"/><circle cx="283.2" cy="135.0" r="3.5" fill="#96f6de"/><circle cx="283.7" cy="146.1" r="3.5" fill="#96f6de"/><circle cx="540.3" cy="140.7" r="3.5" fill="#7fb4f7"/><circle cx="254.5" cy="174.4" r="3.5" fill="#7fb4f7"/><circle cx="243.0" cy="142.3" r="3.5" fill="#96f6de"/><circle cx="615.6" cy="151.9" r="3.5" fill="#7fb4f7"/><circle cx="537.7" cy="77.7" r="3.5" fill="#7fb4f7"/><circle cx="448.5" cy="146.3" r="3.5" fill="#7fb4f7"/><circle cx="363.2" cy="280.7" r="3.5" fill="#7fb4f7"/><circle cx="513.8" cy="109.1" r="3.5" fill="#7fb4f7"/><circle cx="535.3" cy="148.4" r="3.5" fill="#96f6de"/><circle cx="496.9" cy="84.9" r="3.5" fill="#96f6de"/><circle cx="367.4" cy="255.4" r="3.5" fill="#96f6de"/><circle cx="309.1" cy="356.0" r="3.5" fill="#96f6de"/><circle cx="510.5" cy="312.8" r="3.5" fill="#7fb4f7"/><circle cx="756.4" cy="158.5" r="3.5" fill="#96f6de"/><circle cx="186.4" cy="119.5" r="3.5" fill="#7fb4f7"/><circle cx="488.0" cy="95.5" r="3.5" fill="#96f6de"/><circle cx="494.5" cy="117.3" r="3.5" fill="#7fb4f7"/><circle cx="252.0" cy="177.3" r="3.5" fill="#7fb4f7"/><circle cx="307.4" cy="128.0" r="3.5" fill="#96f6de"/><circle cx="236.3" cy="125.9" r="3.5" fill="#96f6de"/><circle cx="122.7" cy="87.8" r="3.5" fill="#96f6de"/><circle cx="244.6" cy="105.7" r="3.5" fill="#96f6de"/><circle cx="85.9" cy="107.8" r="3.5" fill="#96f6de"/><circle cx="479.9" cy="182.3" r="3.5" fill="#96f6de"/><circle cx="537.4" cy="158.8" r="3.5" fill="#96f6de"/><circle cx="362.8" cy="294.9" r="3.5" fill="#7fb4f7"/><circle cx="353.7" cy="271.6" r="3.5" fill="#7fb4f7"/><circle cx="528.2" cy="114.7" r="3.5" fill="#96f6de"/><circle cx="448.0" cy="173.7" r="3.5" fill="#96f6de"/><circle cx="535.6" cy="139.5" r="3.5" fill="#96f6de"/><circle cx="222.9" cy="168.6" r="3.5" fill="#96f6de"/><circle cx="201.8" cy="125.3" r="3.5" fill="#96f6de"/><circle cx="330.1" cy="262.8" r="3.5" fill="#7fb4f7"/><circle cx="174.4" cy="98.7" r="3.5" fill="#96f6de"/><circle cx="241.6" cy="119.4" r="3.5" fill="#96f6de"/><circle cx="288.8" cy="134.8" r="3.5" fill="#7fb4f7"/><circle cx="542.8" cy="242.3" r="3.5" fill="#7fb4f7"/><circle cx="238.1" cy="169.1" r="3.5" fill="#96f6de"/><circle cx="233.2" cy="145.2" r="3.5" fill="#96f6de"/><circle cx="175.7" cy="105.8" r="3.5" fill="#96f6de"/><circle cx="383.3" cy="266.0" r="3.5" fill="#7fb4f7"/><circle cx="291.4" cy="135.8" r="3.5" fill="#96f6de"/><circle cx="333.8" cy="129.5" r="3.5" fill="#96f6de"/><circle cx="192.9" cy="155.4" r="3.5" fill="#96f6de"/><circle cx="561.0" cy="143.0" r="3.5" fill="#7fb4f7"/><circle cx="696.6" cy="208.5" r="3.5" fill="#7fb4f7"/><circle cx="233.9" cy="142.5" r="3.5" fill="#96f6de"/><circle cx="367.9" cy="247.2" r="3.5" fill="#7fb4f7"/><circle cx="467.3" cy="140.0" r="3.5" fill="#7fb4f7"/><circle cx="559.6" cy="188.2" r="3.5" fill="#7fb4f7"/><circle cx="323.0" cy="296.8" r="3.5" fill="#96f6de"/><circle cx="464.9" cy="124.8" r="3.5" fill="#7fb4f7"/><circle cx="499.8" cy="156.6" r="3.5" fill="#7fb4f7"/><circle cx="561.3" cy="152.6" r="3.5" fill="#7fb4f7"/><circle cx="475.3" cy="169.9" r="3.5" fill="#7fb4f7"/><circle cx="371.6" cy="290.2" r="3.5" fill="#7fb4f7"/><circle cx="445.7" cy="142.9" r="3.5" fill="#7fb4f7"/><circle cx="345.9" cy="275.8" r="3.5" fill="#7fb4f7"/><circle cx="525.0" cy="132.6" r="3.5" fill="#7fb4f7"/><circle cx="95.6" cy="92.3" r="3.5" fill="#96f6de"/><circle cx="470.3" cy="145.7" r="3.5" fill="#7fb4f7"/><circle cx="225.3" cy="171.3" r="3.5" fill="#7fb4f7"/><circle cx="461.5" cy="141.0" r="3.5" fill="#7fb4f7"/><circle cx="374.5" cy="286.1" r="3.5" fill="#7fb4f7"/><circle cx="756.4" cy="272.0" r="3.5" fill="#7fb4f7"/><circle cx="548.0" cy="139.6" r="3.5" fill="#7fb4f7"/><circle cx="280.8" cy="153.9" r="3.5" fill="#7fb4f7"/><circle cx="600.1" cy="159.7" r="3.5" fill="#96f6de"/><circle cx="490.5" cy="128.2" r="3.5" fill="#96f6de"/><circle cx="476.0" cy="114.0" r="3.5" fill="#96f6de"/><circle cx="532.9" cy="307.6" r="3.5" fill="#7fb4f7"/><circle cx="763.9" cy="161.0" r="3.5" fill="#7fb4f7"/><circle cx="358.8" cy="272.0" r="3.5" fill="#7fb4f7"/><circle cx="334.0" cy="313.5" r="3.5" fill="#7fb4f7"/><circle cx="349.4" cy="76.3" r="3.5" fill="#96f6de"/><circle cx="101.4" cy="84.5" r="3.5" fill="#96f6de"/><circle cx="510.8" cy="68.9" r="3.5" fill="#7fb4f7"/><circle cx="304.2" cy="136.0" r="3.5" fill="#96f6de"/><circle cx="281.5" cy="129.2" r="3.5" fill="#7fb4f7"/><circle cx="232.1" cy="135.8" r="3.5" fill="#96f6de"/><circle cx="794.8" cy="139.9" r="3.5" fill="#96f6de"/><circle cx="456.4" cy="130.9" r="3.5" fill="#7fb4f7"/><circle cx="779.8" cy="157.8" r="3.5" fill="#7fb4f7"/><circle cx="567.9" cy="131.4" r="3.5" fill="#96f6de"/><circle cx="551.6" cy="244.8" r="3.5" fill="#7fb4f7"/><circle cx="492.3" cy="107.4" r="3.5" fill="#96f6de"/><circle cx="524.8" cy="83.0" r="3.5" fill="#7fb4f7"/><circle cx="229.4" cy="137.3" r="3.5" fill="#96f6de"/><circle cx="349.9" cy="279.8" r="3.5" fill="#7fb4f7"/><circle cx="561.3" cy="173.9" r="3.5" fill="#7fb4f7"/><circle cx="201.9" cy="106.7" r="3.5" fill="#96f6de"/><circle cx="525.2" cy="104.7" r="3.5" fill="#7fb4f7"/><circle cx="336.8" cy="313.7" r="3.5" fill="#7fb4f7"/><circle cx="278.6" cy="138.3" r="3.5" fill="#96f6de"/><circle cx="294.8" cy="138.0" r="3.5" fill="#96f6de"/><circle cx="232.1" cy="107.8" r="3.5" fill="#96f6de"/><circle cx="453.6" cy="160.3" r="3.5" fill="#7fb4f7"/><circle cx="526.1" cy="295.9" r="3.5" fill="#7fb4f7"/><circle cx="378.1" cy="286.3" r="3.5" fill="#7fb4f7"/><circle cx="522.4" cy="112.5" r="3.5" fill="#96f6de"/><circle cx="484.7" cy="143.8" r="3.5" fill="#96f6de"/><circle cx="503.6" cy="112.4" r="3.5" fill="#7fb4f7"/><circle cx="200.1" cy="122.8" r="3.5" fill="#96f6de"/><circle cx="797.0" cy="296.3" r="3.5" fill="#7fb4f7"/><circle cx="258.1" cy="121.6" r="3.5" fill="#96f6de"/><circle cx="327.0" cy="328.6" r="3.5" fill="#7fb4f7"/><circle cx="778.7" cy="303.8" r="3.5" fill="#7fb4f7"/><circle cx="383.4" cy="253.4" r="3.5" fill="#7fb4f7"/><circle cx="605.7" cy="153.7" r="3.5" fill="#96f6de"/><circle cx="386.2" cy="248.9" r="3.5" fill="#7fb4f7"/><circle cx="483.0" cy="156.5" r="3.5" fill="#96f6de"/><circle cx="641.9" cy="172.4" r="3.5" fill="#7fb4f7"/><circle cx="782.6" cy="157.3" r="3.5" fill="#7fb4f7"/><circle cx="281.7" cy="150.7" r="3.5" fill="#7fb4f7"/><circle cx="785.3" cy="138.4" r="3.5" fill="#96f6de"/><circle cx="196.9" cy="122.0" r="3.5" fill="#96f6de"/><circle cx="739.4" cy="169.8" r="3.5" fill="#7fb4f7"/><circle cx="369.4" cy="265.1" r="3.5" fill="#7fb4f7"/><circle cx="563.7" cy="150.6" r="3.5" fill="#96f6de"/><circle cx="321.7" cy="124.6" r="3.5" fill="#7fb4f7"/><circle cx="287.1" cy="178.5" r="3.5" fill="#7fb4f7"/><circle cx="252.9" cy="118.2" r="3.5" fill="#96f6de"/><circle cx="195.8" cy="102.1" r="3.5" fill="#96f6de"/><circle cx="213.0" cy="135.0" r="3.5" fill="#7fb4f7"/><circle cx="116.0" cy="76.1" r="3.5" fill="#7fb4f7"/><circle cx="782.1" cy="158.2" r="3.5" fill="#96f6de"/><circle cx="533.9" cy="97.7" r="3.5" fill="#7fb4f7"/><circle cx="225.5" cy="164.5" r="3.5" fill="#7fb4f7"/><circle cx="201.1" cy="103.5" r="3.5" fill="#96f6de"/><circle cx="204.7" cy="161.0" r="3.5" fill="#7fb4f7"/><circle cx="276.7" cy="141.5" r="3.5" fill="#96f6de"/><circle cx="624.4" cy="143.6" r="3.5" fill="#7fb4f7"/><circle cx="465.5" cy="100.7" r="3.5" fill="#96f6de"/><circle cx="507.0" cy="138.1" r="3.5" fill="#96f6de"/><circle cx="219.0" cy="172.2" r="3.5" fill="#7fb4f7"/><circle cx="194.2" cy="114.4" r="3.5" fill="#96f6de"/><circle cx="512.6" cy="90.8" r="3.5" fill="#7fb4f7"/><circle cx="509.2" cy="79.1" r="3.5" fill="#96f6de"/><circle cx="431.0" cy="201.0" r="3.5" fill="#96f6de"/><circle cx="783.0" cy="150.3" r="3.5" fill="#96f6de"/><circle cx="240.6" cy="131.7" r="3.5" fill="#96f6de"/><circle cx="676.7" cy="110.0" r="3.5" fill="#96f6de"/><circle cx="201.6" cy="110.4" r="3.5" fill="#7fb4f7"/><circle cx="235.3" cy="184.7" r="3.5" fill="#7fb4f7"/><circle cx="467.5" cy="165.8" r="3.5" fill="#96f6de"/><circle cx="458.3" cy="211.4" r="3.5" fill="#7fb4f7"/><circle cx="504.2" cy="279.7" r="3.5" fill="#7fb4f7"/><circle cx="517.8" cy="147.6" r="3.5" fill="#7fb4f7"/><circle cx="181.3" cy="102.1" r="3.5" fill="#96f6de"/><circle cx="601.1" cy="116.5" r="3.5" fill="#96f6de"/><circle cx="209.6" cy="154.0" r="3.5" fill="#96f6de"/><circle cx="338.1" cy="309.1" r="3.5" fill="#7fb4f7"/><circle cx="193.5" cy="80.7" r="3.5" fill="#96f6de"/><circle cx="327.4" cy="324.9" r="3.5" fill="#7fb4f7"/><circle cx="289.3" cy="156.2" r="3.5" fill="#7fb4f7"/><circle cx="342.0" cy="121.2" r="3.5" fill="#96f6de"/><circle cx="293.3" cy="72.9" r="3.5" fill="#96f6de"/><circle cx="263.6" cy="111.9" r="3.5" fill="#96f6de"/><circle cx="636.9" cy="165.5" r="3.5" fill="#7fb4f7"/><circle cx="208.1" cy="100.0" r="3.5" fill="#96f6de"/><circle cx="488.2" cy="176.5" r="3.5" fill="#7fb4f7"/><circle cx="125.9" cy="93.3" r="3.5" fill="#96f6de"/><circle cx="356.0" cy="274.0" r="3.5" fill="#7fb4f7"/><circle cx="525.3" cy="140.9" r="3.5" fill="#7fb4f7"/><circle cx="731.5" cy="154.8" r="3.5" fill="#7fb4f7"/><circle cx="514.7" cy="150.0" r="3.5" fill="#7fb4f7"/><circle cx="282.1" cy="176.0" r="3.5" fill="#7fb4f7"/><circle cx="351.2" cy="254.0" r="3.5" fill="#7fb4f7"/><circle cx="480.0" cy="168.3" r="3.5" fill="#96f6de"/><circle cx="558.4" cy="159.1" r="3.5" fill="#7fb4f7"/><circle cx="825.2" cy="116.9" r="3.5" fill="#96f6de"/><circle cx="266.7" cy="127.7" r="3.5" fill="#7fb4f7"/><circle cx="544.1" cy="272.7" r="3.5" fill="#7fb4f7"/><circle cx="221.6" cy="106.6" r="3.5" fill="#96f6de"/><circle cx="220.4" cy="136.1" r="3.5" fill="#96f6de"/><circle cx="263.6" cy="139.5" r="3.5" fill="#7fb4f7"/><circle cx="188.3" cy="145.8" r="3.5" fill="#96f6de"/><circle cx="356.2" cy="288.2" r="3.5" fill="#7fb4f7"/><circle cx="203.6" cy="77.4" r="3.5" fill="#96f6de"/><circle cx="319.4" cy="276.0" r="3.5" fill="#7fb4f7"/><circle cx="798.0" cy="314.5" r="3.5" fill="#7fb4f7"/><circle cx="770.9" cy="220.2" r="3.5" fill="#96f6de"/><circle cx="550.7" cy="154.6" r="3.5" fill="#96f6de"/><circle cx="539.1" cy="291.7" r="3.5" fill="#7fb4f7"/><circle cx="243.4" cy="126.2" r="3.5" fill="#7fb4f7"/><circle cx="558.7" cy="181.0" r="3.5" fill="#96f6de"/><circle cx="583.3" cy="163.6" r="3.5" fill="#96f6de"/><circle cx="467.9" cy="109.5" r="3.5" fill="#7fb4f7"/><circle cx="253.6" cy="109.6" r="3.5" fill="#7fb4f7"/><circle cx="302.4" cy="115.5" r="3.5" fill="#96f6de"/><circle cx="483.4" cy="103.7" r="3.5" fill="#96f6de"/><circle cx="227.8" cy="128.6" r="3.5" fill="#7fb4f7"/><circle cx="295.0" cy="264.0" r="3.5" fill="#7fb4f7"/><circle cx="725.3" cy="158.5" r="3.5" fill="#7fb4f7"/><circle cx="616.0" cy="135.6" r="3.5" fill="#7fb4f7"/><circle cx="295.0" cy="126.6" r="3.5" fill="#96f6de"/><circle cx="353.6" cy="301.8" r="3.5" fill="#7fb4f7"/><circle cx="254.3" cy="115.2" r="3.5" fill="#7fb4f7"/><circle cx="198.3" cy="139.2" r="3.5" fill="#96f6de"/><circle cx="366.3" cy="261.0" r="3.5" fill="#7fb4f7"/><circle cx="232.2" cy="111.8" r="3.5" fill="#7fb4f7"/><circle cx="359.0" cy="290.8" r="3.5" fill="#7fb4f7"/><circle cx="222.3" cy="118.2" r="3.5" fill="#7fb4f7"/><circle cx="320.7" cy="315.8" r="3.5" fill="#7fb4f7"/><circle cx="540.8" cy="138.2" r="3.5" fill="#96f6de"/><circle cx="746.5" cy="274.5" r="3.5" fill="#7fb4f7"/><circle cx="361.0" cy="256.2" r="3.5" fill="#7fb4f7"/><circle cx="308.2" cy="82.6" r="3.5" fill="#96f6de"/><circle cx="255.2" cy="132.6" r="3.5" fill="#96f6de"/><circle cx="198.0" cy="155.8" r="3.5" fill="#96f6de"/><circle cx="269.6" cy="128.6" r="3.5" fill="#96f6de"/><circle cx="732.8" cy="164.8" r="3.5" fill="#7fb4f7"/><circle cx="590.4" cy="164.9" r="3.5" fill="#7fb4f7"/><circle cx="357.9" cy="259.5" r="3.5" fill="#7fb4f7"/><circle cx="594.4" cy="113.1" r="3.5" fill="#96f6de"/><circle cx="325.5" cy="296.2" r="3.5" fill="#7fb4f7"/><circle cx="602.7" cy="141.4" r="3.5" fill="#7fb4f7"/><circle cx="458.0" cy="136.4" r="3.5" fill="#96f6de"/><circle cx="364.6" cy="285.1" r="3.5" fill="#7fb4f7"/><circle cx="200.8" cy="78.1" r="3.5" fill="#96f6de"/><circle cx="391.7" cy="254.0" r="3.5" fill="#7fb4f7"/><circle cx="556.5" cy="251.1" r="3.5" fill="#96f6de"/><circle cx="452.7" cy="132.7" r="3.5" fill="#7fb4f7"/><circle cx="702.9" cy="213.5" r="3.5" fill="#96f6de"/><circle cx="274.0" cy="123.1" r="3.5" fill="#7fb4f7"/><circle cx="262.7" cy="118.5" r="3.5" fill="#7fb4f7"/><circle cx="133.0" cy="92.3" r="3.5" fill="#7fb4f7"/><circle cx="248.8" cy="165.2" r="3.5" fill="#96f6de"/><circle cx="324.6" cy="308.0" r="3.5" fill="#7fb4f7"/><circle cx="256.0" cy="117.9" r="3.5" fill="#7fb4f7"/><circle cx="453.3" cy="120.9" r="3.5" fill="#7fb4f7"/><circle cx="197.4" cy="108.9" r="3.5" fill="#7fb4f7"/><circle cx="162.1" cy="85.8" r="3.5" fill="#96f6de"/><circle cx="205.7" cy="106.4" r="3.5" fill="#96f6de"/><circle cx="533.9" cy="116.3" r="3.5" fill="#96f6de"/><circle cx="487.9" cy="148.0" r="3.5" fill="#96f6de"/><circle cx="786.3" cy="138.6" r="3.5" fill="#96f6de"/><circle cx="300.7" cy="255.3" r="3.5" fill="#7fb4f7"/><circle cx="218.6" cy="142.3" r="3.5" fill="#7fb4f7"/><circle cx="649.3" cy="207.2" r="3.5" fill="#96f6de"/><circle cx="230.6" cy="142.4" r="3.5" fill="#7fb4f7"/><circle cx="211.6" cy="126.6" r="3.5" fill="#96f6de"/><circle cx="272.4" cy="131.3" r="3.5" fill="#7fb4f7"/><circle cx="503.0" cy="122.3" r="3.5" fill="#96f6de"/><circle cx="506.3" cy="146.8" r="3.5" fill="#7fb4f7"/><circle cx="636.9" cy="207.2" r="3.5" fill="#7fb4f7"/><circle cx="297.4" cy="120.0" r="3.5" fill="#7fb4f7"/><circle cx="273.9" cy="147.9" r="3.5" fill="#96f6de"/><circle cx="756.4" cy="305.8" r="3.5" fill="#7fb4f7"/><circle cx="259.6" cy="119.2" r="3.5" fill="#96f6de"/><circle cx="599.4" cy="184.0" r="3.5" fill="#7fb4f7"/><circle cx="773.9" cy="161.0" r="3.5" fill="#96f6de"/><circle cx="278.2" cy="151.6" r="3.5" fill="#7fb4f7"/><circle cx="295.5" cy="129.3" r="3.5" fill="#96f6de"/><circle cx="201.1" cy="142.9" r="3.5" fill="#96f6de"/><circle cx="545.4" cy="97.9" r="3.5" fill="#7fb4f7"/><circle cx="365.9" cy="244.2" r="3.5" fill="#7fb4f7"/><circle cx="276.0" cy="119.4" r="3.5" fill="#96f6de"/><circle cx="90.7" cy="89.1" r="3.5" fill="#96f6de"/><circle cx="338.3" cy="267.4" r="3.5" fill="#7fb4f7"/><circle cx="306.9" cy="267.2" r="3.5" fill="#7fb4f7"/><circle cx="509.2" cy="295.9" r="3.5" fill="#7fb4f7"/><circle cx="799.6" cy="329.6" r="3.5" fill="#96f6de"/><circle cx="345.6" cy="241.8" r="3.5" fill="#96f6de"/><circle cx="450.2" cy="112.8" r="3.5" fill="#7fb4f7"/><circle cx="314.1" cy="138.8" r="3.5" fill="#96f6de"/><circle cx="289.0" cy="251.8" r="3.5" fill="#7fb4f7"/><circle cx="502.6" cy="144.7" r="3.5" fill="#7fb4f7"/><circle cx="232.5" cy="117.5" r="3.5" fill="#96f6de"/><circle cx="457.6" cy="147.6" r="3.5" fill="#7fb4f7"/><circle cx="263.0" cy="122.1" r="3.5" fill="#7fb4f7"/><circle cx="567.9" cy="150.0" r="3.5" fill="#96f6de"/><circle cx="362.5" cy="260.2" r="3.5" fill="#7fb4f7"/><circle cx="570.4" cy="197.8" r="3.5" fill="#7fb4f7"/><circle cx="446.5" cy="168.7" r="3.5" fill="#96f6de"/><circle cx="307.2" cy="135.4" r="3.5" fill="#7fb4f7"/><circle cx="508.3" cy="133.2" r="3.5" fill="#7fb4f7"/><circle cx="546.4" cy="133.6" r="3.5" fill="#7fb4f7"/><circle cx="785.1" cy="143.6" r="3.5" fill="#7fb4f7"/><circle cx="426.6" cy="91.8" r="3.5" fill="#96f6de"/><circle cx="209.7" cy="143.1" r="3.5" fill="#96f6de"/><circle cx="454.6" cy="117.6" r="3.5" fill="#96f6de"/><circle cx="546.1" cy="147.1" r="3.5" fill="#7fb4f7"/><circle cx="842.7" cy="286.1" r="3.5" fill="#7fb4f7"/><circle cx="351.9" cy="92.5" r="3.5" fill="#96f6de"/><circle cx="491.7" cy="115.9" r="3.5" fill="#96f6de"/><circle cx="247.1" cy="105.4" r="3.5" fill="#7fb4f7"/><circle cx="481.7" cy="129.7" r="3.5" fill="#96f6de"/><circle cx="613.9" cy="157.2" r="3.5" fill="#7fb4f7"/><circle cx="756.4" cy="177.4" r="3.5" fill="#96f6de"/><circle cx="373.7" cy="260.2" r="3.5" fill="#7fb4f7"/><circle cx="113.7" cy="85.8" r="3.5" fill="#96f6de"/><circle cx="474.9" cy="132.5" r="3.5" fill="#7fb4f7"/><circle cx="339.5" cy="279.7" r="3.5" fill="#7fb4f7"/><circle cx="334.3" cy="304.3" r="3.5" fill="#7fb4f7"/><circle cx="712.8" cy="158.5" r="3.5" fill="#7fb4f7"/><circle cx="753.9" cy="152.3" r="3.5" fill="#7fb4f7"/><circle cx="532.1" cy="109.2" r="3.5" fill="#7fb4f7"/><circle cx="256.3" cy="139.0" r="3.5" fill="#96f6de"/><circle cx="260.3" cy="170.8" r="3.5" fill="#7fb4f7"/><circle cx="366.6" cy="275.8" r="3.5" fill="#7fb4f7"/><circle cx="530.4" cy="83.0" r="3.5" fill="#96f6de"/><circle cx="509.2" cy="292.2" r="3.5" fill="#96f6de"/><circle cx="597.2" cy="152.0" r="3.5" fill="#7fb4f7"/><circle cx="355.4" cy="278.7" r="3.5" fill="#7fb4f7"/><circle cx="540.7" cy="179.7" r="3.5" fill="#7fb4f7"/><circle cx="655.5" cy="179.9" r="3.5" fill="#7fb4f7"/><circle cx="470.3" cy="118.2" r="3.5" fill="#7fb4f7"/><circle cx="512.3" cy="129.2" r="3.5" fill="#96f6de"/><circle cx="520.1" cy="94.4" r="3.5" fill="#96f6de"/><circle cx="317.9" cy="113.0" r="3.5" fill="#96f6de"/><circle cx="444.4" cy="146.5" r="3.5" fill="#7fb4f7"/><circle cx="385.6" cy="261.9" r="3.5" fill="#7fb4f7"/><circle cx="348.4" cy="286.9" r="3.5" fill="#7fb4f7"/><circle cx="338.2" cy="126.2" r="3.5" fill="#96f6de"/><circle cx="211.3" cy="151.7" r="3.5" fill="#96f6de"/><circle cx="118.2" cy="94.9" r="3.5" fill="#96f6de"/><circle cx="562.9" cy="138.0" r="3.5" fill="#96f6de"/><circle cx="549.7" cy="164.2" r="3.5" fill="#7fb4f7"/><circle cx="376.7" cy="268.0" r="3.5" fill="#7fb4f7"/><circle cx="533.2" cy="58.9" r="3.5" fill="#96f6de"/><circle cx="204.9" cy="115.1" r="3.5" fill="#96f6de"/><circle cx="214.5" cy="112.8" r="3.5" fill="#96f6de"/><circle cx="198.9" cy="65.2" r="3.5" fill="#96f6de"/><circle cx="289.9" cy="126.5" r="3.5" fill="#7fb4f7"/><circle cx="108.5" cy="87.1" r="3.5" fill="#96f6de"/><circle cx="505.3" cy="105.4" r="3.5" fill="#7fb4f7"/><circle cx="760.2" cy="172.4" r="3.5" fill="#96f6de"/><circle cx="231.0" cy="155.1" r="3.5" fill="#7fb4f7"/><circle cx="343.0" cy="291.1" r="3.5" fill="#7fb4f7"/><circle cx="447.8" cy="105.6" r="3.5" fill="#7fb4f7"/><circle cx="307.1" cy="311.2" r="3.5" fill="#96f6de"/><circle cx="753.9" cy="157.4" r="3.5" fill="#7fb4f7"/><circle cx="314.6" cy="78.1" r="3.5" fill="#96f6de"/><circle cx="232.3" cy="189.7" r="3.5" fill="#7fb4f7"/><circle cx="787.6" cy="265.0" r="3.5" fill="#7fb4f7"/><circle cx="224.2" cy="102.6" r="3.5" fill="#96f6de"/><circle cx="188.5" cy="138.8" r="3.5" fill="#7fb4f7"/><circle cx="345.3" cy="261.5" r="3.5" fill="#7fb4f7"/><circle cx="373.1" cy="256.0" r="3.5" fill="#7fb4f7"/><circle cx="694.7" cy="204.8" r="3.5" fill="#7fb4f7"/><circle cx="264.4" cy="131.1" r="3.5" fill="#96f6de"/><circle cx="336.6" cy="124.3" r="3.5" fill="#96f6de"/><circle cx="240.6" cy="151.7" r="3.5" fill="#7fb4f7"/><circle cx="551.1" cy="276.7" r="3.5" fill="#7fb4f7"/><circle cx="248.2" cy="139.7" r="3.5" fill="#7fb4f7"/><circle cx="539.3" cy="186.5" r="3.5" fill="#7fb4f7"/><circle cx="453.0" cy="167.4" r="3.5" fill="#7fb4f7"/><circle cx="188.6" cy="149.3" r="3.5" fill="#96f6de"/><circle cx="136.3" cy="89.7" r="3.5" fill="#7fb4f7"/><circle cx="784.5" cy="142.7" r="3.5" fill="#96f6de"/><circle cx="502.3" cy="208.9" r="3.5" fill="#7fb4f7"/><circle cx="641.9" cy="206.0" r="3.5" fill="#7fb4f7"/><circle cx="315.3" cy="347.3" r="3.5" fill="#96f6de"/><circle cx="726.0" cy="301.1" r="3.5" fill="#7fb4f7"/><circle cx="440.0" cy="205.6" r="3.5" fill="#96f6de"/><circle cx="302.4" cy="98.7" r="3.5" fill="#96f6de"/><circle cx="739.0" cy="184.8" r="3.5" fill="#7fb4f7"/><circle cx="487.3" cy="156.0" r="3.5" fill="#96f6de"/><circle cx="465.2" cy="160.6" r="3.5" fill="#7fb4f7"/><circle cx="253.4" cy="121.1" r="3.5" fill="#96f6de"/><circle cx="490.3" cy="104.4" r="3.5" fill="#96f6de"/><circle cx="259.3" cy="159.2" r="3.5" fill="#7fb4f7"/><circle cx="342.4" cy="268.6" r="3.5" fill="#96f6de"/><circle cx="365.3" cy="271.2" r="3.5" fill="#7fb4f7"/><circle cx="366.9" cy="99.3" r="3.5" fill="#96f6de"/><circle cx="583.0" cy="153.3" r="3.5" fill="#96f6de"/><circle cx="471.5" cy="132.6" r="3.5" fill="#7fb4f7"/><circle cx="717.1" cy="191.8" r="3.5" fill="#7fb4f7"/><circle cx="225.8" cy="113.2" r="3.5" fill="#96f6de"/><circle cx="303.2" cy="245.3" r="3.5" fill="#96f6de"/><circle cx="537.7" cy="122.3" r="3.5" fill="#7fb4f7"/><circle cx="239.2" cy="135.0" r="3.5" fill="#96f6de"/><circle cx="229.4" cy="152.9" r="3.5" fill="#96f6de"/><circle cx="291.2" cy="130.8" r="3.5" fill="#96f6de"/><circle cx="334.5" cy="132.4" r="3.5" fill="#96f6de"/><circle cx="352.0" cy="258.4" r="3.5" fill="#7fb4f7"/><circle cx="332.0" cy="119.9" r="3.5" fill="#96f6de"/><circle cx="314.0" cy="65.2" r="3.5" fill="#96f6de"/><circle cx="337.0" cy="352.8" r="3.5" fill="#96f6de"/><circle cx="309.6" cy="131.5" r="3.5" fill="#96f6de"/><circle cx="461.5" cy="127.9" r="3.5" fill="#7fb4f7"/><circle cx="743.2" cy="277.0" r="3.5" fill="#7fb4f7"/><circle cx="726.5" cy="164.8" r="3.5" fill="#7fb4f7"/><circle cx="735.1" cy="282.5" r="3.5" fill="#7fb4f7"/><circle cx="314.9" cy="287.1" r="3.5" fill="#96f6de"/><circle cx="607.0" cy="151.1" r="3.5" fill="#7fb4f7"/><circle cx="310.9" cy="142.0" r="3.5" fill="#96f6de"/><circle cx="792.1" cy="146.0" r="3.5" fill="#96f6de"/><circle cx="219.1" cy="125.6" r="3.5" fill="#96f6de"/><circle cx="214.6" cy="132.8" r="3.5" fill="#96f6de"/><circle cx="293.3" cy="106.5" r="3.5" fill="#96f6de"/><circle cx="125.3" cy="107.8" r="3.5" fill="#96f6de"/><circle cx="129.2" cy="87.1" r="3.5" fill="#96f6de"/><circle cx="348.4" cy="274.2" r="3.5" fill="#7fb4f7"/><circle cx="244.5" cy="171.6" r="3.5" fill="#96f6de"/><circle cx="76.2" cy="119.1" r="3.5" fill="#96f6de"/><circle cx="250.9" cy="121.2" r="3.5" fill="#7fb4f7"/><circle cx="507.9" cy="125.6" r="3.5" fill="#7fb4f7"/><circle cx="235.0" cy="116.1" r="3.5" fill="#96f6de"/><circle cx="206.9" cy="164.7" r="3.5" fill="#96f6de"/><circle cx="708.6" cy="212.7" r="3.5" fill="#7fb4f7"/><circle cx="353.9" cy="247.6" r="3.5" fill="#7fb4f7"/><circle cx="805.1" cy="321.4" r="3.5" fill="#7fb4f7"/><circle cx="655.1" cy="196.8" r="3.5" fill="#96f6de"/><circle cx="195.4" cy="112.2" r="3.5" fill="#96f6de"/><circle cx="297.0" cy="190.2" r="3.5" fill="#7fb4f7"/><circle cx="327.7" cy="315.6" r="3.5" fill="#7fb4f7"/><circle cx="201.9" cy="158.9" r="3.5" fill="#7fb4f7"/><circle cx="462.4" cy="147.7" r="3.5" fill="#7fb4f7"/><circle cx="295.5" cy="155.0" r="3.5" fill="#7fb4f7"/><circle cx="198.4" cy="125.4" r="3.5" fill="#96f6de"/><circle cx="566.2" cy="109.8" r="3.5" fill="#7fb4f7"/><circle cx="743.6" cy="285.5" r="3.5" fill="#7fb4f7"/><circle cx="462.9" cy="134.5" r="3.5" fill="#7fb4f7"/><circle cx="771.2" cy="301.8" r="3.5" fill="#7fb4f7"/><circle cx="513.7" cy="102.1" r="3.5" fill="#7fb4f7"/><circle cx="594.3" cy="176.5" r="3.5" fill="#7fb4f7"/><circle cx="294.0" cy="116.2" r="3.5" fill="#7fb4f7"/><circle cx="303.9" cy="121.2" r="3.5" fill="#7fb4f7"/><circle cx="509.2" cy="101.3" r="3.5" fill="#7fb4f7"/><circle cx="302.1" cy="331.1" r="3.5" fill="#96f6de"/><circle cx="256.5" cy="74.9" r="3.5" fill="#96f6de"/><circle cx="255.8" cy="125.7" r="3.5" fill="#96f6de"/><circle cx="252.6" cy="91.6" r="3.5" fill="#96f6de"/><circle cx="486.1" cy="132.1" r="3.5" fill="#96f6de"/><circle cx="348.7" cy="293.9" r="3.5" fill="#7fb4f7"/><circle cx="521.6" cy="116.2" r="3.5" fill="#7fb4f7"/><circle cx="653.6" cy="124.2" r="3.5" fill="#7fb4f7"/><circle cx="389.5" cy="248.7" r="3.5" fill="#7fb4f7"/><circle cx="481.7" cy="120.9" r="3.5" fill="#96f6de"/><circle cx="500.5" cy="105.3" r="3.5" fill="#7fb4f7"/><circle cx="565.8" cy="169.4" r="3.5" fill="#96f6de"/><circle cx="503.3" cy="126.1" r="3.5" fill="#7fb4f7"/><circle cx="186.0" cy="116.8" r="3.5" fill="#96f6de"/><circle cx="292.4" cy="143.1" r="3.5" fill="#96f6de"/><circle cx="537.4" cy="125.4" r="3.5" fill="#7fb4f7"/><circle cx="370.1" cy="253.8" r="3.5" fill="#7fb4f7"/><circle cx="519.1" cy="106.6" r="3.5" fill="#7fb4f7"/><circle cx="189.0" cy="141.6" r="3.5" fill="#96f6de"/><circle cx="451.6" cy="146.0" r="3.5" fill="#7fb4f7"/><circle cx="316.5" cy="119.9" r="3.5" fill="#7fb4f7"/><circle cx="309.4" cy="254.3" r="3.5" fill="#7fb4f7"/><circle cx="509.7" cy="226.4" r="3.5" fill="#96f6de"/><circle cx="559.7" cy="150.1" r="3.5" fill="#7fb4f7"/><circle cx="204.7" cy="102.6" r="3.5" fill="#96f6de"/><circle cx="324.2" cy="119.6" r="3.5" fill="#96f6de"/><circle cx="529.3" cy="121.1" r="3.5" fill="#7fb4f7"/><circle cx="364.4" cy="274.4" r="3.5" fill="#7fb4f7"/><circle cx="186.5" cy="111.9" r="3.5" fill="#7fb4f7"/><circle cx="503.1" cy="150.0" r="3.5" fill="#96f6de"/><circle cx="230.0" cy="103.3" r="3.5" fill="#96f6de"/><circle cx="451.6" cy="96.8" r="3.5" fill="#96f6de"/><circle cx="237.2" cy="190.9" r="3.5" fill="#7fb4f7"/><circle cx="555.1" cy="155.4" r="3.5" fill="#7fb4f7"/><circle cx="515.9" cy="134.6" r="3.5" fill="#7fb4f7"/><circle cx="531.9" cy="115.2" r="3.5" fill="#7fb4f7"/><circle cx="366.7" cy="292.4" r="3.5" fill="#7fb4f7"/><circle cx="228.6" cy="124.6" r="3.5" fill="#96f6de"/><circle cx="212.2" cy="147.8" r="3.5" fill="#7fb4f7"/><circle cx="542.9" cy="155.9" r="3.5" fill="#7fb4f7"/><circle cx="225.6" cy="119.2" r="3.5" fill="#96f6de"/><circle cx="531.9" cy="104.2" r="3.5" fill="#7fb4f7"/><circle cx="871.1" cy="277.4" r="3.5" fill="#96f6de"/><circle cx="777.7" cy="310.9" r="3.5" fill="#7fb4f7"/><circle cx="236.8" cy="119.2" r="3.5" fill="#7fb4f7"/><circle cx="564.8" cy="147.9" r="3.5" fill="#7fb4f7"/><circle cx="193.3" cy="102.5" r="3.5" fill="#96f6de"/><circle cx="529.0" cy="140.9" r="3.5" fill="#7fb4f7"/><circle cx="279.2" cy="130.8" r="3.5" fill="#96f6de"/><circle cx="214.8" cy="127.3" r="3.5" fill="#96f6de"/><circle cx="325.9" cy="310.9" r="3.5" fill="#7fb4f7"/><circle cx="544.9" cy="156.1" r="3.5" fill="#7fb4f7"/><circle cx="481.0" cy="101.2" r="3.5" fill="#7fb4f7"/><circle cx="356.3" cy="302.6" r="3.5" fill="#7fb4f7"/><circle cx="219.7" cy="155.7" r="3.5" fill="#96f6de"/><circle cx="201.3" cy="128.1" r="3.5" fill="#7fb4f7"/><circle cx="638.9" cy="176.9" r="3.5" fill="#7fb4f7"/><circle cx="246.8" cy="104.6" r="3.5" fill="#7fb4f7"/><circle cx="779.8" cy="157.6" r="3.5" fill="#7fb4f7"/><circle cx="353.8" cy="236.9" r="3.5" fill="#96f6de"/><circle cx="515.0" cy="113.8" r="3.5" fill="#7fb4f7"/><circle cx="516.7" cy="129.2" r="3.5" fill="#7fb4f7"/><circle cx="331.9" cy="230.8" r="3.5" fill="#7fb4f7"/><circle cx="522.2" cy="140.7" r="3.5" fill="#96f6de"/><circle cx="444.1" cy="138.5" r="3.5" fill="#7fb4f7"/><circle cx="511.7" cy="83.3" r="3.5" fill="#96f6de"/><circle cx="379.7" cy="264.5" r="3.5" fill="#7fb4f7"/><circle cx="270.7" cy="110.4" r="3.5" fill="#96f6de"/><circle cx="791.5" cy="139.7" r="3.5" fill="#7fb4f7"/><circle cx="615.2" cy="108.2" r="3.5" fill="#7fb4f7"/><circle cx="514.6" cy="118.2" r="3.5" fill="#96f6de"/><circle cx="281.4" cy="167.1" r="3.5" fill="#7fb4f7"/><circle cx="300.7" cy="141.5" r="3.5" fill="#96f6de"/><circle cx="496.0" cy="96.1" r="3.5" fill="#96f6de"/><circle cx="208.3" cy="128.7" r="3.5" fill="#96f6de"/><circle cx="568.7" cy="126.4" r="3.5" fill="#96f6de"/><circle cx="516.7" cy="300.9" r="3.5" fill="#7fb4f7"/><circle cx="496.0" cy="105.0" r="3.5" fill="#7fb4f7"/><circle cx="789.3" cy="149.9" r="3.5" fill="#7fb4f7"/><circle cx="605.2" cy="109.0" r="3.5" fill="#96f6de"/><circle cx="202.9" cy="119.0" r="3.5" fill="#96f6de"/><circle cx="346.6" cy="270.9" r="3.5" fill="#7fb4f7"/><circle cx="329.7" cy="296.8" r="3.5" fill="#7fb4f7"/><circle cx="276.4" cy="127.4" r="3.5" fill="#96f6de"/><circle cx="513.7" cy="94.6" r="3.5" fill="#7fb4f7"/><circle cx="151.1" cy="91.0" r="3.5" fill="#96f6de"/><circle cx="741.5" cy="181.1" r="3.5" fill="#7fb4f7"/><circle cx="207.8" cy="124.5" r="3.5" fill="#7fb4f7"/><circle cx="524.7" cy="108.0" r="3.5" fill="#96f6de"/><circle cx="558.7" cy="107.3" r="3.5" fill="#7fb4f7"/><circle cx="469.3" cy="153.6" r="3.5" fill="#7fb4f7"/><circle cx="481.3" cy="114.1" r="3.5" fill="#96f6de"/><circle cx="783.8" cy="299.7" r="3.5" fill="#7fb4f7"/><circle cx="436.6" cy="89.3" r="3.5" fill="#96f6de"/><circle cx="442.5" cy="109.5" r="3.5" fill="#7fb4f7"/><circle cx="472.0" cy="114.5" r="3.5" fill="#7fb4f7"/><circle cx="320.2" cy="119.8" r="3.5" fill="#7fb4f7"/><circle cx="524.2" cy="300.9" r="3.5" fill="#7fb4f7"/><circle cx="305.9" cy="349.3" r="3.5" fill="#96f6de"/><circle cx="481.7" cy="98.1" r="3.5" fill="#7fb4f7"/><circle cx="463.5" cy="163.9" r="3.5" fill="#96f6de"/><circle cx="329.9" cy="134.4" r="3.5" fill="#7fb4f7"/><circle cx="766.4" cy="269.5" r="3.5" fill="#7fb4f7"/><circle cx="321.0" cy="300.5" r="3.5" fill="#7fb4f7"/><circle cx="455.5" cy="135.8" r="3.5" fill="#96f6de"/><circle cx="534.0" cy="75.6" r="3.5" fill="#7fb4f7"/><circle cx="232.7" cy="133.1" r="3.5" fill="#96f6de"/><circle cx="644.3" cy="214.7" r="3.5" fill="#96f6de"/><circle cx="362.2" cy="267.3" r="3.5" fill="#7fb4f7"/><circle cx="312.1" cy="132.8" r="3.5" fill="#96f6de"/><circle cx="498.1" cy="113.6" r="3.5" fill="#7fb4f7"/><circle cx="343.5" cy="125.5" r="3.5" fill="#96f6de"/><circle cx="304.5" cy="225.8" r="3.5" fill="#96f6de"/><circle cx="329.8" cy="318.7" r="3.5" fill="#7fb4f7"/><circle cx="534.1" cy="290.2" r="3.5" fill="#7fb4f7"/><circle cx="215.5" cy="107.9" r="3.5" fill="#96f6de"/><circle cx="499.4" cy="138.5" r="3.5" fill="#96f6de"/><circle cx="195.6" cy="158.3" r="3.5" fill="#96f6de"/><circle cx="302.0" cy="226.2" r="3.5" fill="#7fb4f7"/><circle cx="497.1" cy="107.3" r="3.5" fill="#96f6de"/><circle cx="534.7" cy="143.4" r="3.5" fill="#7fb4f7"/><circle cx="503.9" cy="56.4" r="3.5" fill="#96f6de"/><circle cx="551.9" cy="154.1" r="3.5" fill="#7fb4f7"/><circle cx="233.0" cy="104.6" r="3.5" fill="#96f6de"/><circle cx="344.5" cy="257.8" r="3.5" fill="#7fb4f7"/><circle cx="241.1" cy="112.6" r="3.5" fill="#96f6de"/><circle cx="813.8" cy="299.7" r="3.5" fill="#7fb4f7"/><circle cx="241.5" cy="145.9" r="3.5" fill="#96f6de"/><circle cx="289.6" cy="215.9" r="3.5" fill="#7fb4f7"/><circle cx="540.0" cy="77.6" r="3.5" fill="#96f6de"/><circle cx="200.6" cy="115.2" r="3.5" fill="#96f6de"/><circle cx="452.9" cy="165.5" r="3.5" fill="#7fb4f7"/><circle cx="216.0" cy="168.5" r="3.5" fill="#7fb4f7"/><circle cx="167.9" cy="83.2" r="3.5" fill="#96f6de"/><circle cx="194.5" cy="121.7" r="3.5" fill="#7fb4f7"/><circle cx="184.7" cy="115.0" r="3.5" fill="#96f6de"/><circle cx="456.5" cy="122.2" r="3.5" fill="#7fb4f7"/><circle cx="484.2" cy="99.6" r="3.5" fill="#7fb4f7"/><circle cx="314.6" cy="105.8" r="3.5" fill="#96f6de"/><circle cx="266.1" cy="109.0" r="3.5" fill="#7fb4f7"/><circle cx="260.4" cy="108.2" r="3.5" fill="#7fb4f7"/><circle cx="239.7" cy="128.4" r="3.5" fill="#96f6de"/><circle cx="260.6" cy="167.9" r="3.5" fill="#7fb4f7"/><circle cx="505.8" cy="108.1" r="3.5" fill="#96f6de"/><circle cx="255.9" cy="106.2" r="3.5" fill="#96f6de"/><circle cx="641.9" cy="119.2" r="3.5" fill="#7fb4f7"/><circle cx="253.0" cy="148.7" r="3.5" fill="#7fb4f7"/><circle cx="503.4" cy="60.9" r="3.5" fill="#96f6de"/><circle cx="265.1" cy="142.0" r="3.5" fill="#7fb4f7"/><circle cx="279.9" cy="118.3" r="3.5" fill="#7fb4f7"/><circle cx="241.7" cy="115.4" r="3.5" fill="#96f6de"/><circle cx="239.7" cy="175.7" r="3.5" fill="#96f6de"/><circle cx="262.0" cy="53.9" r="3.5" fill="#96f6de"/><circle cx="472.0" cy="156.3" r="3.5" fill="#96f6de"/><circle cx="805.1" cy="303.2" r="3.5" fill="#7fb4f7"/><circle cx="275.9" cy="113.0" r="3.5" fill="#96f6de"/><circle cx="162.7" cy="96.2" r="3.5" fill="#7fb4f7"/><circle cx="493.3" cy="112.6" r="3.5" fill="#96f6de"/><circle cx="363.6" cy="250.3" r="3.5" fill="#7fb4f7"/><circle cx="241.7" cy="103.2" r="3.5" fill="#96f6de"/><circle cx="343.0" cy="318.2" r="3.5" fill="#7fb4f7"/><circle cx="227.1" cy="161.3" r="3.5" fill="#96f6de"/><circle cx="495.1" cy="58.9" r="3.5" fill="#96f6de"/><circle cx="478.4" cy="161.6" r="3.5" fill="#96f6de"/><circle cx="268.7" cy="117.8" r="3.5" fill="#7fb4f7"/><circle cx="345.7" cy="77.6" r="3.5" fill="#96f6de"/><circle cx="477.0" cy="129.7" r="3.5" fill="#96f6de"/><circle cx="229.3" cy="157.9" r="3.5" fill="#7fb4f7"/><circle cx="240.5" cy="192.2" r="3.5" fill="#7fb4f7"/><circle cx="444.8" cy="153.8" r="3.5" fill="#7fb4f7"/><circle cx="113.1" cy="187.7" r="3.5" fill="#7fb4f7"/><circle cx="510.1" cy="93.7" r="3.5" fill="#7fb4f7"/><circle cx="493.0" cy="141.9" r="3.5" fill="#7fb4f7"/><circle cx="644.8" cy="197.8" r="3.5" fill="#7fb4f7"/><circle cx="529.5" cy="147.9" r="3.5" fill="#96f6de"/><circle cx="486.3" cy="140.6" r="3.5" fill="#7fb4f7"/><circle cx="215.4" cy="152.4" r="3.5" fill="#96f6de"/><circle cx="225.9" cy="81.3" r="3.5" fill="#96f6de"/><circle cx="555.2" cy="150.6" r="3.5" fill="#96f6de"/><circle cx="448.9" cy="163.9" r="3.5" fill="#7fb4f7"/><circle cx="471.8" cy="149.4" r="3.5" fill="#96f6de"/><circle cx="639.4" cy="212.2" r="3.5" fill="#7fb4f7"/><circle cx="732.8" cy="149.8" r="3.5" fill="#7fb4f7"/><circle cx="522.0" cy="86.8" r="3.5" fill="#7fb4f7"/><circle cx="365.7" cy="264.5" r="3.5" fill="#7fb4f7"/><circle cx="488.0" cy="165.1" r="3.5" fill="#7fb4f7"/><circle cx="218.9" cy="128.2" r="3.5" fill="#7fb4f7"/><circle cx="846.7" cy="276.4" r="3.5" fill="#96f6de"/><circle cx="258.1" cy="167.0" r="3.5" fill="#7fb4f7"/><circle cx="290.7" cy="81.3" r="3.5" fill="#96f6de"/><circle cx="538.6" cy="302.9" r="3.5" fill="#7fb4f7"/><circle cx="164.0" cy="103.3" r="3.5" fill="#96f6de"/><circle cx="103.6" cy="112.3" r="3.5" fill="#96f6de"/><circle cx="504.9" cy="84.6" r="3.5" fill="#96f6de"/><circle cx="225.3" cy="126.2" r="3.5" fill="#96f6de"/><circle cx="239.6" cy="178.1" r="3.5" fill="#96f6de"/><circle cx="512.0" cy="114.0" r="3.5" fill="#7fb4f7"/><circle cx="620.4" cy="144.2" r="3.5" fill="#7fb4f7"/><circle cx="275.9" cy="162.3" r="3.5" fill="#7fb4f7"/><circle cx="184.0" cy="85.2" r="3.5" fill="#96f6de"/><circle cx="349.2" cy="303.5" r="3.5" fill="#7fb4f7"/><circle cx="787.0" cy="133.3" r="3.5" fill="#96f6de"/><circle cx="516.8" cy="90.6" r="3.5" fill="#96f6de"/><circle cx="524.8" cy="90.7" r="3.5" fill="#96f6de"/><circle cx="309.9" cy="277.2" r="3.5" fill="#7fb4f7"/><circle cx="526.6" cy="291.7" r="3.5" fill="#7fb4f7"/><circle cx="271.1" cy="124.3" r="3.5" fill="#7fb4f7"/><circle cx="451.1" cy="117.5" r="3.5" fill="#96f6de"/><circle cx="479.7" cy="134.6" r="3.5" fill="#7fb4f7"/><circle cx="286.1" cy="138.5" r="3.5" fill="#7fb4f7"/><circle cx="500.8" cy="87.0" r="3.5" fill="#7fb4f7"/><circle cx="526.8" cy="86.0" r="3.5" fill="#7fb4f7"/><circle cx="234.2" cy="158.5" r="3.5" fill="#96f6de"/><circle cx="372.2" cy="278.7" r="3.5" fill="#7fb4f7"/><circle cx="452.6" cy="140.1" r="3.5" fill="#7fb4f7"/><circle cx="231.8" cy="160.9" r="3.5" fill="#96f6de"/><circle cx="629.4" cy="121.7" r="3.5" fill="#96f6de"/><circle cx="249.7" cy="115.9" r="3.5" fill="#96f6de"/><circle cx="660.5" cy="173.6" r="3.5" fill="#7fb4f7"/><circle cx="332.6" cy="306.6" r="3.5" fill="#7fb4f7"/><circle cx="200.9" cy="147.9" r="3.5" fill="#96f6de"/><circle cx="234.4" cy="121.8" r="3.5" fill="#96f6de"/><circle cx="304.5" cy="126.1" r="3.5" fill="#96f6de"/><circle cx="358.3" cy="277.9" r="3.5" fill="#7fb4f7"/><circle cx="386.3" cy="256.3" r="3.5" fill="#7fb4f7"/><circle cx="242.1" cy="107.9" r="3.5" fill="#96f6de"/><circle cx="318.6" cy="294.5" r="3.5" fill="#96f6de"/><circle cx="312.1" cy="126.4" r="3.5" fill="#7fb4f7"/><circle cx="268.0" cy="138.8" r="3.5" fill="#7fb4f7"/><circle cx="703.6" cy="119.4" r="3.5" fill="#96f6de"/><circle cx="489.9" cy="89.4" r="3.5" fill="#96f6de"/><circle cx="611.9" cy="117.3" r="3.5" fill="#96f6de"/><circle cx="376.0" cy="271.1" r="3.5" fill="#7fb4f7"/><circle cx="557.0" cy="140.8" r="3.5" fill="#96f6de"/><circle cx="535.2" cy="135.2" r="3.5" fill="#96f6de"/><circle cx="701.6" cy="154.3" r="3.5" fill="#7fb4f7"/><circle cx="584.6" cy="180.3" r="3.5" fill="#7fb4f7"/><circle cx="298.3" cy="144.5" r="3.5" fill="#7fb4f7"/><circle cx="211.3" cy="158.5" r="3.5" fill="#96f6de"/><circle cx="272.0" cy="114.8" r="3.5" fill="#7fb4f7"/><circle cx="513.7" cy="149.9" r="3.5" fill="#96f6de"/><circle cx="324.4" cy="256.0" r="3.5" fill="#96f6de"/><circle cx="356.8" cy="268.0" r="3.5" fill="#7fb4f7"/><circle cx="575.8" cy="144.9" r="3.5" fill="#7fb4f7"/><circle cx="200.0" cy="145.1" r="3.5" fill="#96f6de"/><circle cx="547.3" cy="234.9" r="3.5" fill="#96f6de"/><circle cx="199.4" cy="112.7" r="3.5" fill="#96f6de"/><circle cx="383.3" cy="247.1" r="3.5" fill="#7fb4f7"/><circle cx="528.1" cy="134.9" r="3.5" fill="#7fb4f7"/><circle cx="380.3" cy="246.9" r="3.5" fill="#7fb4f7"/><circle cx="315.8" cy="357.8" r="3.5" fill="#96f6de"/><circle cx="489.8" cy="181.5" r="3.5" fill="#7fb4f7"/><circle cx="350.4" cy="306.2" r="3.5" fill="#96f6de"/><circle cx="360.3" cy="263.0" r="3.5" fill="#7fb4f7"/><circle cx="538.9" cy="117.1" r="3.5" fill="#7fb4f7"/><circle cx="232.5" cy="151.4" r="3.5" fill="#96f6de"/><circle cx="458.5" cy="138.8" r="3.5" fill="#7fb4f7"/><circle cx="275.9" cy="136.5" r="3.5" fill="#7fb4f7"/><circle cx="528.2" cy="144.0" r="3.5" fill="#7fb4f7"/><circle cx="299.4" cy="134.4" r="3.5" fill="#7fb4f7"/><circle cx="488.1" cy="100.2" r="3.5" fill="#96f6de"/><circle cx="535.1" cy="104.8" r="3.5" fill="#7fb4f7"/><circle cx="545.5" cy="144.0" r="3.5" fill="#7fb4f7"/><circle cx="330.9" cy="302.9" r="3.5" fill="#7fb4f7"/><circle cx="525.8" cy="97.5" r="3.5" fill="#96f6de"/><circle cx="275.3" cy="152.9" r="3.5" fill="#7fb4f7"/><circle cx="348.3" cy="291.1" r="3.5" fill="#96f6de"/><circle cx="104.6" cy="99.4" r="3.5" fill="#7fb4f7"/><circle cx="279.5" cy="134.6" r="3.5" fill="#96f6de"/><circle cx="498.0" cy="256.8" r="3.5" fill="#7fb4f7"/><circle cx="236.6" cy="151.7" r="3.5" fill="#7fb4f7"/><circle cx="257.5" cy="173.5" r="3.5" fill="#7fb4f7"/><circle cx="455.4" cy="143.2" r="3.5" fill="#7fb4f7"/><circle cx="790.5" cy="283.1" r="3.5" fill="#7fb4f7"/><circle cx="291.9" cy="155.3" r="3.5" fill="#96f6de"/><circle cx="285.0" cy="161.2" r="3.5" fill="#7fb4f7"/><circle cx="276.0" cy="169.3" r="3.5" fill="#7fb4f7"/><circle cx="737.7" cy="247.8" r="3.5" fill="#7fb4f7"/><circle cx="491.1" cy="97.8" r="3.5" fill="#7fb4f7"/><circle cx="236.1" cy="102.6" r="3.5" fill="#7fb4f7"/><circle cx="286.9" cy="121.3" r="3.5" fill="#96f6de"/><circle cx="633.1" cy="193.5" r="3.5" fill="#96f6de"/><circle cx="371.7" cy="283.1" r="3.5" fill="#7fb4f7"/><circle cx="489.8" cy="235.6" r="3.5" fill="#7fb4f7"/><circle cx="490.8" cy="125.2" r="3.5" fill="#96f6de"/><circle cx="542.8" cy="151.8" r="3.5" fill="#7fb4f7"/><circle cx="511.9" cy="122.0" r="3.5" fill="#7fb4f7"/><circle cx="257.4" cy="142.4" r="3.5" fill="#7fb4f7"/><circle cx="588.1" cy="146.2" r="3.5" fill="#7fb4f7"/><circle cx="354.5" cy="258.6" r="3.5" fill="#96f6de"/><circle cx="223.9" cy="128.9" r="3.5" fill="#7fb4f7"/><circle cx="449.1" cy="76.8" r="3.5" fill="#96f6de"/><circle cx="250.3" cy="168.3" r="3.5" fill="#7fb4f7"/><circle cx="509.7" cy="215.6" r="3.5" fill="#7fb4f7"/><circle cx="598.4" cy="282.7" r="3.5" fill="#7fb4f7"/><circle cx="535.3" cy="154.8" r="3.5" fill="#7fb4f7"/><circle cx="450.8" cy="208.1" r="3.5" fill="#7fb4f7"/><circle cx="257.2" cy="104.6" r="3.5" fill="#7fb4f7"/><circle cx="252.6" cy="138.9" r="3.5" fill="#7fb4f7"/><circle cx="297.0" cy="228.3" r="3.5" fill="#7fb4f7"/><circle cx="186.3" cy="125.5" r="3.5" fill="#96f6de"/><circle cx="582.8" cy="121.4" r="3.5" fill="#7fb4f7"/><circle cx="566.2" cy="154.6" r="3.5" fill="#7fb4f7"/><circle cx="431.0" cy="206.8" r="3.5" fill="#96f6de"/><circle cx="222.6" cy="144.2" r="3.5" fill="#96f6de"/><circle cx="348.1" cy="267.9" r="3.5" fill="#7fb4f7"/><circle cx="554.2" cy="103.2" r="3.5" fill="#7fb4f7"/><circle cx="474.0" cy="206.4" r="3.5" fill="#7fb4f7"/><circle cx="623.9" cy="99.3" r="3.5" fill="#7fb4f7"/><circle cx="396.0" cy="83.8" r="3.5" fill="#96f6de"/><circle cx="213.9" cy="100.3" r="3.5" fill="#7fb4f7"/><circle cx="269.1" cy="149.0" r="3.5" fill="#7fb4f7"/><circle cx="518.3" cy="132.7" r="3.5" fill="#7fb4f7"/><circle cx="624.4" cy="158.5" r="3.5" fill="#96f6de"/><circle cx="226.4" cy="168.5" r="3.5" fill="#7fb4f7"/><circle cx="355.6" cy="291.0" r="3.5" fill="#7fb4f7"/><circle cx="304.1" cy="318.7" r="3.5" fill="#7fb4f7"/><circle cx="339.9" cy="260.0" r="3.5" fill="#7fb4f7"/><circle cx="198.0" cy="147.9" r="3.5" fill="#7fb4f7"/><circle cx="530.8" cy="131.2" r="3.5" fill="#7fb4f7"/><circle cx="485.4" cy="92.3" r="3.5" fill="#96f6de"/><circle cx="242.2" cy="188.5" r="3.5" fill="#7fb4f7"/><circle cx="290.6" cy="146.4" r="3.5" fill="#7fb4f7"/><circle cx="531.9" cy="144.2" r="3.5" fill="#7fb4f7"/><circle cx="489.7" cy="153.1" r="3.5" fill="#7fb4f7"/><circle cx="350.7" cy="290.9" r="3.5" fill="#7fb4f7"/><circle cx="379.8" cy="258.7" r="3.5" fill="#7fb4f7"/><circle cx="154.0" cy="85.8" r="3.5" fill="#96f6de"/><circle cx="533.6" cy="129.3" r="3.5" fill="#7fb4f7"/><circle cx="490.6" cy="227.2" r="3.5" fill="#96f6de"/><circle cx="326.4" cy="245.3" r="3.5" fill="#7fb4f7"/><circle cx="178.9" cy="114.2" r="3.5" fill="#96f6de"/><circle cx="456.7" cy="172.1" r="3.5" fill="#7fb4f7"/><circle cx="529.9" cy="158.9" r="3.5" fill="#7fb4f7"/><circle cx="708.6" cy="176.9" r="3.5" fill="#7fb4f7"/><circle cx="330.1" cy="310.8" r="3.5" fill="#96f6de"/><circle cx="781.8" cy="314.9" r="3.5" fill="#7fb4f7"/><circle cx="800.4" cy="333.2" r="3.5" fill="#96f6de"/><circle cx="526.5" cy="146.3" r="3.5" fill="#7fb4f7"/><circle cx="236.8" cy="158.6" r="3.5" fill="#7fb4f7"/><circle cx="604.4" cy="175.7" r="3.5" fill="#96f6de"/><circle cx="565.6" cy="139.2" r="3.5" fill="#96f6de"/><circle cx="776.5" cy="161.5" r="3.5" fill="#96f6de"/><circle cx="291.1" cy="122.3" r="3.5" fill="#96f6de"/><circle cx="230.3" cy="171.1" r="3.5" fill="#96f6de"/><circle cx="486.4" cy="121.9" r="3.5" fill="#7fb4f7"/><circle cx="306.4" cy="138.6" r="3.5" fill="#7fb4f7"/><circle cx="579.5" cy="111.5" r="3.5" fill="#7fb4f7"/><circle cx="506.2" cy="143.9" r="3.5" fill="#7fb4f7"/><circle cx="451.0" cy="153.8" r="3.5" fill="#96f6de"/><circle cx="553.7" cy="129.7" r="3.5" fill="#7fb4f7"/><circle cx="307.8" cy="314.9" r="3.5" fill="#7fb4f7"/><circle cx="594.4" cy="106.5" r="3.5" fill="#96f6de"/><circle cx="239.0" cy="147.5" r="3.5" fill="#96f6de"/><circle cx="536.7" cy="121.4" r="3.5" fill="#7fb4f7"/><circle cx="604.5" cy="145.0" r="3.5" fill="#7fb4f7"/><circle cx="481.5" cy="192.3" r="3.5" fill="#96f6de"/><circle cx="531.4" cy="78.4" r="3.5" fill="#7fb4f7"/><circle cx="197.5" cy="129.9" r="3.5" fill="#96f6de"/><circle cx="553.6" cy="181.6" r="3.5" fill="#96f6de"/><circle cx="544.2" cy="135.8" r="3.5" fill="#96f6de"/><circle cx="531.9" cy="121.4" r="3.5" fill="#96f6de"/><circle cx="191.4" cy="151.1" r="3.5" fill="#7fb4f7"/><circle cx="188.8" cy="122.0" r="3.5" fill="#96f6de"/><circle cx="217.5" cy="158.8" r="3.5" fill="#7fb4f7"/><circle cx="281.1" cy="92.3" r="3.5" fill="#96f6de"/><circle cx="236.3" cy="175.0" r="3.5" fill="#7fb4f7"/><circle cx="270.6" cy="158.4" r="3.5" fill="#7fb4f7"/><circle cx="573.6" cy="180.3" r="3.5" fill="#96f6de"/><circle cx="250.9" cy="106.4" r="3.5" fill="#7fb4f7"/><circle cx="565.1" cy="142.8" r="3.5" fill="#7fb4f7"/><circle cx="806.5" cy="289.0" r="3.5" fill="#7fb4f7"/><circle cx="537.8" cy="150.1" r="3.5" fill="#96f6de"/><circle cx="338.7" cy="131.5" r="3.5" fill="#7fb4f7"/><circle cx="546.3" cy="127.3" r="3.5" fill="#7fb4f7"/><circle cx="358.8" cy="283.8" r="3.5" fill="#7fb4f7"/><circle cx="367.7" cy="286.5" r="3.5" fill="#7fb4f7"/><circle cx="145.7" cy="78.7" r="3.5" fill="#96f6de"/><circle cx="336.0" cy="295.4" r="3.5" fill="#7fb4f7"/><circle cx="275.1" cy="139.2" r="3.5" fill="#7fb4f7"/><circle cx="375.3" cy="251.9" r="3.5" fill="#7fb4f7"/><circle cx="343.3" cy="278.2" r="3.5" fill="#7fb4f7"/><circle cx="720.3" cy="87.1" r="3.5" fill="#96f6de"/><circle cx="668.0" cy="184.8" r="3.5" fill="#7fb4f7"/><circle cx="219.5" cy="169.1" r="3.5" fill="#7fb4f7"/><circle cx="222.5" cy="131.1" r="3.5" fill="#96f6de"/><circle cx="763.2" cy="167.6" r="3.5" fill="#7fb4f7"/><circle cx="498.7" cy="96.2" r="3.5" fill="#7fb4f7"/><circle cx="531.6" cy="295.9" r="3.5" fill="#7fb4f7"/><circle cx="218.4" cy="105.7" r="3.5" fill="#96f6de"/><circle cx="314.9" cy="261.0" r="3.5" fill="#7fb4f7"/><circle cx="359.3" cy="269.6" r="3.5" fill="#7fb4f7"/><circle cx="332.4" cy="116.2" r="3.5" fill="#96f6de"/><circle cx="458.8" cy="142.7" r="3.5" fill="#7fb4f7"/><circle cx="330.1" cy="212.1" r="3.5" fill="#96f6de"/><circle cx="541.9" cy="130.7" r="3.5" fill="#96f6de"/><circle cx="596.2" cy="168.7" r="3.5" fill="#7fb4f7"/><circle cx="694.7" cy="222.2" r="3.5" fill="#96f6de"/><circle cx="260.7" cy="164.3" r="3.5" fill="#7fb4f7"/><circle cx="356.8" cy="247.8" r="3.5" fill="#96f6de"/><circle cx="271.6" cy="204.1" r="3.5" fill="#7fb4f7"/><circle cx="574.5" cy="109.8" r="3.5" fill="#96f6de"/><circle cx="298.6" cy="124.5" r="3.5" fill="#96f6de"/><circle cx="781.8" cy="283.1" r="3.5" fill="#7fb4f7"/><circle cx="100.7" cy="91.0" r="3.5" fill="#96f6de"/><circle cx="541.4" cy="128.0" r="3.5" fill="#7fb4f7"/><circle cx="496.1" cy="146.0" r="3.5" fill="#7fb4f7"/><circle cx="134.7" cy="78.5" r="3.5" fill="#96f6de"/><circle cx="389.6" cy="259.0" r="3.5" fill="#7fb4f7"/><circle cx="208.0" cy="160.8" r="3.5" fill="#7fb4f7"/><circle cx="186.3" cy="135.0" r="3.5" fill="#7fb4f7"/><circle cx="358.0" cy="251.8" r="3.5" fill="#7fb4f7"/><circle cx="508.8" cy="151.5" r="3.5" fill="#7fb4f7"/><circle cx="341.7" cy="128.1" r="3.5" fill="#7fb4f7"/><circle cx="226.4" cy="152.6" r="3.5" fill="#7fb4f7"/><circle cx="305.9" cy="339.4" r="3.5" fill="#96f6de"/><circle cx="354.8" cy="252.9" r="3.5" fill="#7fb4f7"/><circle cx="278.8" cy="124.1" r="3.5" fill="#96f6de"/><circle cx="376.0" cy="247.1" r="3.5" fill="#7fb4f7"/><circle cx="536.5" cy="152.0" r="3.5" fill="#96f6de"/><circle cx="104.6" cy="93.6" r="3.5" fill="#96f6de"/><circle cx="602.0" cy="153.6" r="3.5" fill="#96f6de"/><circle cx="258.0" cy="134.1" r="3.5" fill="#96f6de"/><circle cx="315.1" cy="323.7" r="3.5" fill="#7fb4f7"/><circle cx="856.5" cy="334.2" r="3.5" fill="#7fb4f7"/><circle cx="486.0" cy="103.5" r="3.5" fill="#7fb4f7"/><circle cx="279.1" cy="124.6" r="3.5" fill="#7fb4f7"/><circle cx="482.1" cy="142.5" r="3.5" fill="#96f6de"/><circle cx="238.5" cy="109.0" r="3.5" fill="#96f6de"/><circle cx="734.5" cy="226.7" r="3.5" fill="#7fb4f7"/><circle cx="203.8" cy="133.0" r="3.5" fill="#96f6de"/><circle cx="567.5" cy="144.9" r="3.5" fill="#96f6de"/><circle cx="488.2" cy="135.0" r="3.5" fill="#96f6de"/><circle cx="114.3" cy="103.3" r="3.5" fill="#96f6de"/><circle cx="253.2" cy="152.7" r="3.5" fill="#7fb4f7"/><circle cx="641.9" cy="218.5" r="3.5" fill="#96f6de"/><circle cx="550.1" cy="128.6" r="3.5" fill="#96f6de"/><circle cx="475.3" cy="125.7" r="3.5" fill="#7fb4f7"/><circle cx="265.9" cy="198.4" r="3.5" fill="#7fb4f7"/><circle cx="786.9" cy="308.9" r="3.5" fill="#7fb4f7"/><circle cx="210.8" cy="105.2" r="3.5" fill="#96f6de"/><circle cx="739.0" cy="155.3" r="3.5" fill="#7fb4f7"/><circle cx="516.9" cy="118.7" r="3.5" fill="#7fb4f7"/><circle cx="333.3" cy="319.4" r="3.5" fill="#7fb4f7"/><circle cx="551.6" cy="239.9" r="3.5" fill="#7fb4f7"/><circle cx="239.6" cy="159.4" r="3.5" fill="#96f6de"/><circle cx="504.8" cy="117.0" r="3.5" fill="#7fb4f7"/><circle cx="249.6" cy="152.0" r="3.5" fill="#96f6de"/><circle cx="276.2" cy="146.4" r="3.5" fill="#7fb4f7"/><circle cx="492.0" cy="93.4" r="3.5" fill="#96f6de"/><circle cx="333.5" cy="121.8" r="3.5" fill="#96f6de"/><circle cx="216.1" cy="156.2" r="3.5" fill="#96f6de"/><circle cx="790.0" cy="131.1" r="3.5" fill="#96f6de"/><circle cx="236.2" cy="172.4" r="3.5" fill="#96f6de"/><circle cx="553.1" cy="148.2" r="3.5" fill="#7fb4f7"/><circle cx="266.3" cy="122.4" r="3.5" fill="#96f6de"/><circle cx="201.9" cy="139.6" r="3.5" fill="#96f6de"/><circle cx="723.3" cy="183.6" r="3.5" fill="#7fb4f7"/><circle cx="374.1" cy="243.8" r="3.5" fill="#7fb4f7"/><circle cx="136.9" cy="94.9" r="3.5" fill="#96f6de"/><circle cx="326.4" cy="276.0" r="3.5" fill="#7fb4f7"/><circle cx="322.0" cy="333.6" r="3.5" fill="#7fb4f7"/><circle cx="288.3" cy="184.7" r="3.5" fill="#7fb4f7"/><circle cx="467.0" cy="144.7" r="3.5" fill="#96f6de"/><circle cx="454.9" cy="162.3" r="3.5" fill="#7fb4f7"/><circle cx="600.2" cy="122.3" r="3.5" fill="#96f6de"/><circle cx="553.6" cy="137.1" r="3.5" fill="#7fb4f7"/><circle cx="537.7" cy="131.3" r="3.5" fill="#7fb4f7"/><circle cx="616.0" cy="165.7" r="3.5" fill="#7fb4f7"/><circle cx="475.6" cy="161.8" r="3.5" fill="#7fb4f7"/><circle cx="533.4" cy="133.6" r="3.5" fill="#7fb4f7"/><circle cx="377.2" cy="264.2" r="3.5" fill="#7fb4f7"/><circle cx="286.0" cy="131.6" r="3.5" fill="#96f6de"/><circle cx="536.3" cy="93.3" r="3.5" fill="#7fb4f7"/><circle cx="228.3" cy="163.5" r="3.5" fill="#96f6de"/><circle cx="264.7" cy="147.2" r="3.5" fill="#7fb4f7"/><circle cx="607.5" cy="112.6" r="3.5" fill="#7fb4f7"/><circle cx="237.1" cy="139.5" r="3.5" fill="#7fb4f7"/><circle cx="247.6" cy="144.0" r="3.5" fill="#7fb4f7"/><circle cx="256.4" cy="151.0" r="3.5" fill="#7fb4f7"/><circle cx="490.8" cy="145.8" r="3.5" fill="#7fb4f7"/><circle cx="497.5" cy="101.5" r="3.5" fill="#96f6de"/><circle cx="120.1" cy="102.0" r="3.5" fill="#96f6de"/><circle cx="211.3" cy="163.8" r="3.5" fill="#7fb4f7"/><circle cx="522.8" cy="124.9" r="3.5" fill="#96f6de"/><circle cx="522.1" cy="150.4" r="3.5" fill="#7fb4f7"/><circle cx="99.7" cy="102.0" r="3.5" fill="#7fb4f7"/><circle cx="190.4" cy="114.1" r="3.5" fill="#96f6de"/><circle cx="319.2" cy="305.4" r="3.5" fill="#7fb4f7"/><circle cx="205.7" cy="139.5" r="3.5" fill="#96f6de"/><circle cx="526.1" cy="312.8" r="3.5" fill="#7fb4f7"/><circle cx="449.3" cy="139.9" r="3.5" fill="#96f6de"/><circle cx="708.6" cy="250.3" r="3.5" fill="#7fb4f7"/><circle cx="296.2" cy="141.3" r="3.5" fill="#96f6de"/><circle cx="541.9" cy="147.4" r="3.5" fill="#7fb4f7"/><circle cx="459.3" cy="117.9" r="3.5" fill="#7fb4f7"/><circle cx="332.0" cy="352.3" r="3.5" fill="#96f6de"/><circle cx="607.0" cy="161.0" r="3.5" fill="#96f6de"/><circle cx="295.8" cy="148.4" r="3.5" fill="#7fb4f7"/><circle cx="309.5" cy="192.2" r="3.5" fill="#7fb4f7"/><circle cx="252.6" cy="164.2" r="3.5" fill="#7fb4f7"/><circle cx="344.8" cy="311.1" r="3.5" fill="#96f6de"/><circle cx="452.4" cy="174.1" r="3.5" fill="#7fb4f7"/><circle cx="290.2" cy="139.8" r="3.5" fill="#96f6de"/><circle cx="107.8" cy="103.9" r="3.5" fill="#96f6de"/><circle cx="759.3" cy="166.5" r="3.5" fill="#96f6de"/><circle cx="341.0" cy="297.1" r="3.5" fill="#7fb4f7"/><circle cx="757.0" cy="292.6" r="3.5" fill="#7fb4f7"/><circle cx="212.9" cy="160.9" r="3.5" fill="#7fb4f7"/><circle cx="502.6" cy="101.1" r="3.5" fill="#7fb4f7"/><circle cx="665.0" cy="137.4" r="3.5" fill="#7fb4f7"/><circle cx="153.7" cy="80.7" r="3.5" fill="#96f6de"/><circle cx="571.3" cy="150.7" r="3.5" fill="#7fb4f7"/><circle cx="382.1" cy="250.2" r="3.5" fill="#7fb4f7"/><circle cx="633.1" cy="125.2" r="3.5" fill="#96f6de"/><circle cx="474.2" cy="398.8" r="3.5" fill="#96f6de"/><circle cx="463.7" cy="111.2" r="3.5" fill="#7fb4f7"/><circle cx="461.9" cy="121.0" r="3.5" fill="#96f6de"/><circle cx="374.0" cy="268.8" r="3.5" fill="#7fb4f7"/><circle cx="376.5" cy="258.2" r="3.5" fill="#7fb4f7"/><circle cx="506.5" cy="101.7" r="3.5" fill="#96f6de"/><circle cx="269.2" cy="110.0" r="3.5" fill="#7fb4f7"/><circle cx="382.6" cy="244.5" r="3.5" fill="#7fb4f7"/><circle cx="117.3" cy="190.9" r="3.5" fill="#7fb4f7"/><circle cx="325.5" cy="298.9" r="3.5" fill="#7fb4f7"/><circle cx="350.7" cy="81.3" r="3.5" fill="#96f6de"/><circle cx="271.6" cy="111.0" r="3.5" fill="#7fb4f7"/><circle cx="233.5" cy="170.3" r="3.5" fill="#7fb4f7"/><circle cx="351.7" cy="262.1" r="3.5" fill="#7fb4f7"/><circle cx="245.5" cy="192.9" r="3.5" fill="#96f6de"/><circle cx="742.2" cy="178.7" r="3.5" fill="#7fb4f7"/><circle cx="184.0" cy="89.7" r="3.5" fill="#96f6de"/><circle cx="505.5" cy="90.8" r="3.5" fill="#96f6de"/><circle cx="213.3" cy="103.1" r="3.5" fill="#96f6de"/><circle cx="734.0" cy="180.6" r="3.5" fill="#7fb4f7"/><circle cx="575.2" cy="279.2" r="3.5" fill="#7fb4f7"/><circle cx="456.6" cy="221.4" r="3.5" fill="#7fb4f7"/><circle cx="532.9" cy="152.6" r="3.5" fill="#7fb4f7"/><circle cx="341.6" cy="299.5" r="3.5" fill="#7fb4f7"/><circle cx="760.2" cy="163.5" r="3.5" fill="#96f6de"/><circle cx="730.3" cy="146.1" r="3.5" fill="#7fb4f7"/><circle cx="466.2" cy="172.3" r="3.5" fill="#7fb4f7"/><circle cx="484.4" cy="125.6" r="3.5" fill="#7fb4f7"/><circle cx="378.9" cy="274.4" r="3.5" fill="#7fb4f7"/><circle cx="469.1" cy="170.7" r="3.5" fill="#7fb4f7"/><circle cx="549.6" cy="143.1" r="3.5" fill="#7fb4f7"/><circle cx="237.7" cy="144.9" r="3.5" fill="#96f6de"/><circle cx="604.5" cy="169.9" r="3.5" fill="#7fb4f7"/><circle cx="273.4" cy="189.7" r="3.5" fill="#96f6de"/><circle cx="475.7" cy="143.1" r="3.5" fill="#96f6de"/><circle cx="225.2" cy="145.1" r="3.5" fill="#7fb4f7"/><circle cx="784.8" cy="155.5" r="3.5" fill="#7fb4f7"/><circle cx="267.0" cy="132.8" r="3.5" fill="#7fb4f7"/><circle cx="202.2" cy="109.6" r="3.5" fill="#96f6de"/><circle cx="543.3" cy="159.0" r="3.5" fill="#7fb4f7"/><circle cx="245.0" cy="139.4" r="3.5" fill="#96f6de"/><circle cx="375.2" cy="274.2" r="3.5" fill="#7fb4f7"/><circle cx="349.3" cy="129.9" r="3.5" fill="#7fb4f7"/><circle cx="573.8" cy="142.1" r="3.5" fill="#96f6de"/><circle cx="229.9" cy="111.4" r="3.5" fill="#7fb4f7"/><circle cx="495.5" cy="247.3" r="3.5" fill="#7fb4f7"/><circle cx="459.9" cy="224.7" r="3.5" fill="#96f6de"/><circle cx="111.7" cy="109.1" r="3.5" fill="#96f6de"/><circle cx="357.4" cy="293.2" r="3.5" fill="#7fb4f7"/><circle cx="698.6" cy="229.7" r="3.5" fill="#7fb4f7"/><circle cx="709.1" cy="168.5" r="3.5" fill="#7fb4f7"/><circle cx="294.6" cy="101.3" r="3.5" fill="#96f6de"/><circle cx="551.0" cy="136.6" r="3.5" fill="#96f6de"/><circle cx="160.2" cy="101.3" r="3.5" fill="#96f6de"/><circle cx="315.0" cy="194.7" r="3.5" fill="#96f6de"/><circle cx="786.3" cy="157.4" r="3.5" fill="#7fb4f7"/><circle cx="574.5" cy="197.3" r="3.5" fill="#7fb4f7"/><circle cx="340.9" cy="304.1" r="3.5" fill="#7fb4f7"/><circle cx="266.5" cy="165.6" r="3.5" fill="#7fb4f7"/><circle cx="228.6" cy="116.6" r="3.5" fill="#96f6de"/><circle cx="531.7" cy="101.7" r="3.5" fill="#96f6de"/><circle cx="566.5" cy="177.1" r="3.5" fill="#7fb4f7"/><circle cx="127.2" cy="103.3" r="3.5" fill="#96f6de"/><circle cx="702.9" cy="166.0" r="3.5" fill="#7fb4f7"/><circle cx="297.3" cy="138.7" r="3.5" fill="#96f6de"/><circle cx="791.3" cy="141.1" r="3.5" fill="#96f6de"/><circle cx="628.2" cy="141.1" r="3.5" fill="#96f6de"/><circle cx="377.3" cy="277.1" r="3.5" fill="#7fb4f7"/><circle cx="272.8" cy="154.6" r="3.5" fill="#7fb4f7"/><circle cx="368.0" cy="268.7" r="3.5" fill="#7fb4f7"/><circle cx="272.2" cy="138.1" r="3.5" fill="#96f6de"/><circle cx="770.6" cy="280.9" r="3.5" fill="#7fb4f7"/><circle cx="217.3" cy="118.1" r="3.5" fill="#96f6de"/><circle cx="501.9" cy="92.0" r="3.5" fill="#96f6de"/><circle cx="217.3" cy="167.3" r="3.5" fill="#7fb4f7"/><circle cx="804.1" cy="311.9" r="3.5" fill="#7fb4f7"/><circle cx="234.6" cy="155.7" r="3.5" fill="#96f6de"/><circle cx="171.1" cy="101.3" r="3.5" fill="#7fb4f7"/><circle cx="264.0" cy="165.7" r="3.5" fill="#7fb4f7"/><circle cx="555.2" cy="145.9" r="3.5" fill="#7fb4f7"/><circle cx="218.5" cy="138.6" r="3.5" fill="#96f6de"/><circle cx="810.2" cy="313.9" r="3.5" fill="#7fb4f7"/><circle cx="254.6" cy="68.0" r="3.5" fill="#96f6de"/><circle cx="328.9" cy="308.0" r="3.5" fill="#7fb4f7"/><circle cx="249.8" cy="155.9" r="3.5" fill="#96f6de"/><circle cx="534.8" cy="152.0" r="3.5" fill="#96f6de"/><circle cx="613.2" cy="147.3" r="3.5" fill="#7fb4f7"/><circle cx="369.9" cy="287.9" r="3.5" fill="#7fb4f7"/><circle cx="339.4" cy="115.0" r="3.5" fill="#96f6de"/><circle cx="335.8" cy="292.2" r="3.5" fill="#7fb4f7"/><circle cx="357.4" cy="244.3" r="3.5" fill="#7fb4f7"/><circle cx="626.9" cy="158.7" r="3.5" fill="#7fb4f7"/><circle cx="238.9" cy="154.8" r="3.5" fill="#7fb4f7"/><circle cx="539.5" cy="80.7" r="3.5" fill="#7fb4f7"/><circle cx="648.1" cy="220.2" r="3.5" fill="#7fb4f7"/><circle cx="340.8" cy="319.0" r="3.5" fill="#96f6de"/><circle cx="273.4" cy="160.3" r="3.5" fill="#7fb4f7"/><circle cx="554.9" cy="157.7" r="3.5" fill="#7fb4f7"/><circle cx="283.1" cy="132.7" r="3.5" fill="#96f6de"/><circle cx="258.1" cy="162.1" r="3.5" fill="#7fb4f7"/><circle cx="346.9" cy="86.3" r="3.5" fill="#96f6de"/><circle cx="504.9" cy="79.3" r="3.5" fill="#7fb4f7"/><circle cx="318.5" cy="302.5" r="3.5" fill="#7fb4f7"/><circle cx="128.5" cy="78.7" r="3.5" fill="#96f6de"/><circle cx="267.2" cy="152.9" r="3.5" fill="#7fb4f7"/><circle cx="506.5" cy="121.7" r="3.5" fill="#7fb4f7"/><circle cx="340.7" cy="275.8" r="3.5" fill="#7fb4f7"/><circle cx="378.5" cy="243.2" r="3.5" fill="#96f6de"/><circle cx="460.8" cy="131.2" r="3.5" fill="#7fb4f7"/><circle cx="438.1" cy="172.6" r="3.5" fill="#7fb4f7"/><circle cx="255.0" cy="163.6" r="3.5" fill="#96f6de"/><circle cx="275.5" cy="131.9" r="3.5" fill="#7fb4f7"/><circle cx="704.6" cy="202.3" r="3.5" fill="#7fb4f7"/><circle cx="538.1" cy="175.2" r="3.5" fill="#7fb4f7"/><circle cx="540.3" cy="122.2" r="3.5" fill="#7fb4f7"/><circle cx="650.6" cy="176.1" r="3.5" fill="#7fb4f7"/><circle cx="736.6" cy="177.6" r="3.5" fill="#96f6de"/><circle cx="344.5" cy="296.3" r="3.5" fill="#7fb4f7"/><circle cx="763.5" cy="307.8" r="3.5" fill="#7fb4f7"/><circle cx="479.4" cy="123.3" r="3.5" fill="#7fb4f7"/><circle cx="344.9" cy="301.4" r="3.5" fill="#7fb4f7"/><circle cx="697.4" cy="109.7" r="3.5" fill="#7fb4f7"/><circle cx="243.6" cy="152.9" r="3.5" fill="#96f6de"/><circle cx="383.6" cy="89.3" r="3.5" fill="#96f6de"/><circle cx="635.6" cy="141.1" r="3.5" fill="#96f6de"/><circle cx="217.0" cy="112.2" r="3.5" fill="#96f6de"/><circle cx="731.5" cy="220.9" r="3.5" fill="#96f6de"/><circle cx="417.9" cy="92.5" r="3.5" fill="#96f6de"/><circle cx="275.0" cy="56.9" r="3.5" fill="#96f6de"/><circle cx="471.7" cy="166.4" r="3.5" fill="#7fb4f7"/><circle cx="776.3" cy="154.8" r="3.5" fill="#96f6de"/><circle cx="549.4" cy="114.5" r="3.5" fill="#7fb4f7"/><circle cx="217.2" cy="162.3" r="3.5" fill="#96f6de"/><circle cx="314.9" cy="314.2" r="3.5" fill="#7fb4f7"/><circle cx="222.5" cy="109.4" r="3.5" fill="#96f6de"/><circle cx="350.9" cy="271.3" r="3.5" fill="#7fb4f7"/><circle cx="132.4" cy="98.1" r="3.5" fill="#96f6de"/><circle cx="361.7" cy="270.8" r="3.5" fill="#96f6de"/><circle cx="524.7" cy="120.9" r="3.5" fill="#7fb4f7"/><circle cx="267.9" cy="112.9" r="3.5" fill="#96f6de"/><circle cx="241.7" cy="138.4" r="3.5" fill="#96f6de"/><circle cx="533.1" cy="139.0" r="3.5" fill="#7fb4f7"/><circle cx="186.4" cy="132.4" r="3.5" fill="#96f6de"/><circle cx="239.8" cy="142.4" r="3.5" fill="#7fb4f7"/><circle cx="511.2" cy="287.2" r="3.5" fill="#96f6de"/><circle cx="318.4" cy="122.2" r="3.5" fill="#96f6de"/><circle cx="346.1" cy="126.6" r="3.5" fill="#96f6de"/><circle cx="379.7" cy="252.2" r="3.5" fill="#7fb4f7"/><circle cx="246.0" cy="122.2" r="3.5" fill="#96f6de"/><circle cx="267.8" cy="146.3" r="3.5" fill="#7fb4f7"/><circle cx="590.7" cy="153.9" r="3.5" fill="#96f6de"/><circle cx="308.0" cy="124.9" r="3.5" fill="#96f6de"/><circle cx="321.3" cy="132.1" r="3.5" fill="#7fb4f7"/><circle cx="338.8" cy="242.8" r="3.5" fill="#7fb4f7"/><circle cx="513.8" cy="146.2" r="3.5" fill="#7fb4f7"/><circle cx="323.2" cy="302.0" r="3.5" fill="#7fb4f7"/><circle cx="514.0" cy="87.0" r="3.5" fill="#96f6de"/><circle cx="226.2" cy="101.4" r="3.5" fill="#7fb4f7"/><circle cx="726.5" cy="255.8" r="3.5" fill="#96f6de"/><circle cx="362.7" cy="243.1" r="3.5" fill="#7fb4f7"/><circle cx="232.3" cy="138.5" r="3.5" fill="#96f6de"/><circle cx="710.3" cy="119.9" r="3.5" fill="#96f6de"/><circle cx="194.5" cy="140.6" r="3.5" fill="#96f6de"/><circle cx="750.9" cy="220.2" r="3.5" fill="#7fb4f7"/><circle cx="215.0" cy="139.4" r="3.5" fill="#7fb4f7"/><circle cx="459.3" cy="166.6" r="3.5" fill="#7fb4f7"/><circle cx="274.3" cy="112.8" r="3.5" fill="#7fb4f7"/><circle cx="609.5" cy="159.9" r="3.5" fill="#96f6de"/><circle cx="523.1" cy="78.6" r="3.5" fill="#96f6de"/><circle cx="510.2" cy="137.2" r="3.5" fill="#7fb4f7"/><circle cx="465.0" cy="168.0" r="3.5" fill="#7fb4f7"/><circle cx="247.9" cy="158.5" r="3.5" fill="#96f6de"/><circle cx="227.4" cy="155.5" r="3.5" fill="#7fb4f7"/><circle cx="376.7" cy="249.6" r="3.5" fill="#7fb4f7"/><circle cx="511.8" cy="85.5" r="3.5" fill="#96f6de"/><circle cx="362.5" cy="253.2" r="3.5" fill="#7fb4f7"/><circle cx="280.5" cy="115.2" r="3.5" fill="#96f6de"/><circle cx="190.1" cy="111.6" r="3.5" fill="#7fb4f7"/><circle cx="254.5" cy="142.6" r="3.5" fill="#7fb4f7"/><circle cx="285.8" cy="157.5" r="3.5" fill="#7fb4f7"/><circle cx="432.9" cy="90.8" r="3.5" fill="#96f6de"/><circle cx="785.9" cy="146.5" r="3.5" fill="#7fb4f7"/><circle cx="521.5" cy="98.4" r="3.5" fill="#7fb4f7"/><circle cx="258.5" cy="131.9" r="3.5" fill="#96f6de"/><circle cx="352.9" cy="287.7" r="3.5" fill="#7fb4f7"/><circle cx="572.8" cy="120.6" r="3.5" fill="#7fb4f7"/><circle cx="344.3" cy="265.8" r="3.5" fill="#7fb4f7"/><circle cx="475.6" cy="135.1" r="3.5" fill="#7fb4f7"/><circle cx="699.6" cy="180.3" r="3.5" fill="#96f6de"/><circle cx="281.5" cy="125.9" r="3.5" fill="#96f6de"/><circle cx="692.9" cy="191.8" r="3.5" fill="#7fb4f7"/><circle cx="318.2" cy="135.3" r="3.5" fill="#7fb4f7"/><circle cx="324.4" cy="124.8" r="3.5" fill="#7fb4f7"/><circle cx="352.2" cy="256.2" r="3.5" fill="#7fb4f7"/><circle cx="592.8" cy="120.6" r="3.5" fill="#7fb4f7"/><circle cx="262.3" cy="149.2" r="3.5" fill="#7fb4f7"/><circle cx="482.1" cy="149.7" r="3.5" fill="#96f6de"/><circle cx="251.0" cy="112.8" r="3.5" fill="#7fb4f7"/><circle cx="203.5" cy="163.9" r="3.5" fill="#96f6de"/><circle cx="188.6" cy="98.1" r="3.5" fill="#96f6de"/><circle cx="464.7" cy="127.5" r="3.5" fill="#7fb4f7"/><circle cx="268.1" cy="125.2" r="3.5" fill="#7fb4f7"/><circle cx="527.6" cy="129.3" r="3.5" fill="#96f6de"/><circle cx="366.6" cy="281.3" r="3.5" fill="#7fb4f7"/><circle cx="453.7" cy="168.6" r="3.5" fill="#7fb4f7"/><circle cx="209.9" cy="118.6" r="3.5" fill="#96f6de"/><circle cx="351.2" cy="277.2" r="3.5" fill="#7fb4f7"/><circle cx="427.9" cy="88.8" r="3.5" fill="#96f6de"/><circle cx="521.2" cy="281.4" r="3.5" fill="#7fb4f7"/><circle cx="467.8" cy="117.6" r="3.5" fill="#7fb4f7"/><circle cx="235.2" cy="60.6" r="3.5" fill="#96f6de"/><circle cx="549.4" cy="151.2" r="3.5" fill="#96f6de"/><circle cx="541.3" cy="202.3" r="3.5" fill="#7fb4f7"/><circle cx="261.9" cy="154.9" r="3.5" fill="#7fb4f7"/><circle cx="333.2" cy="123.7" r="3.5" fill="#96f6de"/><circle cx="520.9" cy="82.3" r="3.5" fill="#7fb4f7"/><circle cx="194.5" cy="137.4" r="3.5" fill="#7fb4f7"/><circle cx="333.8" cy="241.1" r="3.5" fill="#7fb4f7"/><circle cx="141.4" cy="86.5" r="3.5" fill="#96f6de"/><circle cx="350.7" cy="296.4" r="3.5" fill="#7fb4f7"/><circle cx="340.1" cy="271.4" r="3.5" fill="#7fb4f7"/><circle cx="522.3" cy="92.0" r="3.5" fill="#96f6de"/><circle cx="252.2" cy="159.4" r="3.5" fill="#7fb4f7"/><circle cx="509.1" cy="116.4" r="3.5" fill="#96f6de"/><circle cx="322.0" cy="129.6" r="3.5" fill="#96f6de"/><circle cx="535.8" cy="119.7" r="3.5" fill="#7fb4f7"/><circle cx="282.0" cy="122.3" r="3.5" fill="#96f6de"/><circle cx="251.6" cy="134.0" r="3.5" fill="#96f6de"/><circle cx="460.3" cy="109.5" r="3.5" fill="#7fb4f7"/><circle cx="526.5" cy="93.2" r="3.5" fill="#96f6de"/><circle cx="272.7" cy="142.2" r="3.5" fill="#96f6de"/><circle cx="546.8" cy="127.4" r="3.5" fill="#7fb4f7"/><circle cx="148.8" cy="95.5" r="3.5" fill="#7fb4f7"/><circle cx="276.5" cy="156.1" r="3.5" fill="#7fb4f7"/><circle cx="194.9" cy="105.3" r="3.5" fill="#96f6de"/><circle cx="754.9" cy="122.9" r="3.5" fill="#96f6de"/><circle cx="440.8" cy="174.9" r="3.5" fill="#7fb4f7"/><circle cx="308.8" cy="127.2" r="3.5" fill="#96f6de"/><circle cx="334.1" cy="310.0" r="3.5" fill="#7fb4f7"/><circle cx="339.5" cy="322.4" r="3.5" fill="#7fb4f7"/><circle cx="290.8" cy="243.6" r="3.5" fill="#7fb4f7"/><circle cx="513.4" cy="78.9" r="3.5" fill="#96f6de"/><circle cx="540.5" cy="156.1" r="3.5" fill="#96f6de"/><circle cx="780.4" cy="154.3" r="3.5" fill="#96f6de"/><circle cx="456.4" cy="114.5" r="3.5" fill="#96f6de"/><circle cx="293.1" cy="145.7" r="3.5" fill="#96f6de"/><circle cx="246.0" cy="116.1" r="3.5" fill="#96f6de"/><circle cx="295.1" cy="121.7" r="3.5" fill="#7fb4f7"/><circle cx="204.9" cy="94.2" r="3.5" fill="#7fb4f7"/><circle cx="499.9" cy="132.7" r="3.5" fill="#7fb4f7"/><circle cx="225.0" cy="137.8" r="3.5" fill="#7fb4f7"/><circle cx="581.7" cy="145.5" r="3.5" fill="#96f6de"/><circle cx="257.3" cy="170.2" r="3.5" fill="#7fb4f7"/><circle cx="262.4" cy="127.3" r="3.5" fill="#96f6de"/><circle cx="471.4" cy="143.1" r="3.5" fill="#96f6de"/><circle cx="343.4" cy="271.5" r="3.5" fill="#7fb4f7"/><circle cx="488.3" cy="91.9" r="3.5" fill="#96f6de"/><circle cx="224.9" cy="140.7" r="3.5" fill="#96f6de"/><circle cx="466.8" cy="135.8" r="3.5" fill="#7fb4f7"/><circle cx="231.3" cy="122.6" r="3.5" fill="#96f6de"/><circle cx="646.3" cy="188.6" r="3.5" fill="#7fb4f7"/><circle cx="261.8" cy="135.8" r="3.5" fill="#96f6de"/><circle cx="478.2" cy="139.3" r="3.5" fill="#7fb4f7"/><circle cx="222.9" cy="95.5" r="3.5" fill="#96f6de"/><circle cx="557.0" cy="270.5" r="3.5" fill="#7fb4f7"/><circle cx="184.9" cy="139.2" r="3.5" fill="#7fb4f7"/><circle cx="458.9" cy="107.2" r="3.5" fill="#96f6de"/><circle cx="452.9" cy="112.7" r="3.5" fill="#7fb4f7"/><circle cx="330.6" cy="200.9" r="3.5" fill="#96f6de"/><circle cx="348.4" cy="262.9" r="3.5" fill="#7fb4f7"/><circle cx="233.2" cy="125.0" r="3.5" fill="#7fb4f7"/><circle cx="321.0" cy="309.9" r="3.5" fill="#7fb4f7"/><circle cx="557.8" cy="242.3" r="3.5" fill="#96f6de"/><circle cx="344.3" cy="224.6" r="3.5" fill="#96f6de"/><circle cx="531.3" cy="156.1" r="3.5" fill="#7fb4f7"/><circle cx="535.4" cy="240.6" r="3.5" fill="#7fb4f7"/><circle cx="241.7" cy="98.7" r="3.5" fill="#96f6de"/><circle cx="303.8" cy="142.8" r="3.5" fill="#96f6de"/><circle cx="368.6" cy="259.4" r="3.5" fill="#96f6de"/><circle cx="259.6" cy="124.1" r="3.5" fill="#96f6de"/><circle cx="140.8" cy="92.3" r="3.5" fill="#96f6de"/><circle cx="659.8" cy="179.4" r="3.5" fill="#7fb4f7"/><circle cx="285.9" cy="151.4" r="3.5" fill="#7fb4f7"/><circle cx="191.9" cy="132.5" r="3.5" fill="#7fb4f7"/><circle cx="493.9" cy="121.0" r="3.5" fill="#7fb4f7"/><circle cx="271.8" cy="164.4" r="3.5" fill="#7fb4f7"/><circle cx="364.4" cy="290.7" r="3.5" fill="#7fb4f7"/><circle cx="535.7" cy="86.8" r="3.5" fill="#7fb4f7"/><circle cx="498.9" cy="117.7" r="3.5" fill="#96f6de"/><circle cx="505.5" cy="283.4" r="3.5" fill="#7fb4f7"/><circle cx="752.7" cy="163.5" r="3.5" fill="#96f6de"/><circle cx="175.7" cy="85.8" r="3.5" fill="#7fb4f7"/><circle cx="205.6" cy="122.8" r="3.5" fill="#96f6de"/><circle cx="156.3" cy="92.3" r="3.5" fill="#7fb4f7"/><circle cx="221.2" cy="149.5" r="3.5" fill="#7fb4f7"/><circle cx="235.3" cy="167.8" r="3.5" fill="#7fb4f7"/><circle cx="742.7" cy="166.0" r="3.5" fill="#7fb4f7"/><circle cx="461.8" cy="153.2" r="3.5" fill="#96f6de"/><circle cx="665.0" cy="80.6" r="3.5" fill="#96f6de"/><circle cx="111.1" cy="97.5" r="3.5" fill="#96f6de"/><circle cx="255.7" cy="158.8" r="3.5" fill="#7fb4f7"/><circle cx="773.9" cy="154.9" r="3.5" fill="#96f6de"/><circle cx="496.3" cy="126.0" r="3.5" fill="#7fb4f7"/><circle cx="293.3" cy="161.3" r="3.5" fill="#7fb4f7"/><circle cx="325.0" cy="84.5" r="3.5" fill="#96f6de"/><circle cx="503.6" cy="82.0" r="3.5" fill="#96f6de"/><circle cx="243.8" cy="120.0" r="3.5" fill="#96f6de"/><circle cx="780.2" cy="151.1" r="3.5" fill="#7fb4f7"/><circle cx="473.5" cy="121.9" r="3.5" fill="#7fb4f7"/><circle cx="387.3" cy="246.0" r="3.5" fill="#7fb4f7"/><circle cx="684.9" cy="198.5" r="3.5" fill="#7fb4f7"/><circle cx="867.0" cy="276.4" r="3.5" fill="#7fb4f7"/><circle cx="216.5" cy="101.3" r="3.5" fill="#7fb4f7"/><circle cx="212.1" cy="110.0" r="3.5" fill="#96f6de"/><circle cx="454.8" cy="103.5" r="3.5" fill="#7fb4f7"/><circle cx="441.2" cy="143.9" r="3.5" fill="#7fb4f7"/><circle cx="186.1" cy="123.2" r="3.5" fill="#7fb4f7"/><circle cx="210.9" cy="91.6" r="3.5" fill="#96f6de"/><circle cx="281.8" cy="162.2" r="3.5" fill="#7fb4f7"/><circle cx="230.0" cy="149.2" r="3.5" fill="#96f6de"/><circle cx="493.9" cy="137.0" r="3.5" fill="#96f6de"/><circle cx="185.9" cy="128.2" r="3.5" fill="#96f6de"/><circle cx="243.0" cy="78.1" r="3.5" fill="#96f6de"/><circle cx="240.8" cy="164.6" r="3.5" fill="#7fb4f7"/><circle cx="509.0" cy="140.8" r="3.5" fill="#7fb4f7"/><circle cx="239.4" cy="122.7" r="3.5" fill="#96f6de"/><circle cx="607.8" cy="166.8" r="3.5" fill="#7fb4f7"/><circle cx="259.3" cy="139.8" r="3.5" fill="#96f6de"/><circle cx="223.1" cy="152.5" r="3.5" fill="#96f6de"/><circle cx="576.2" cy="132.2" r="3.5" fill="#7fb4f7"/><circle cx="237.9" cy="112.3" r="3.5" fill="#96f6de"/><circle cx="260.1" cy="144.8" r="3.5" fill="#7fb4f7"/><circle cx="282.2" cy="157.6" r="3.5" fill="#7fb4f7"/><circle cx="551.0" cy="140.1" r="3.5" fill="#7fb4f7"/><circle cx="339.4" cy="222.1" r="3.5" fill="#96f6de"/><circle cx="303.0" cy="148.9" r="3.5" fill="#7fb4f7"/><circle cx="144.7" cy="98.7" r="3.5" fill="#96f6de"/><circle cx="640.6" cy="100.0" r="3.5" fill="#7fb4f7"/><circle cx="528.6" cy="101.6" r="3.5" fill="#7fb4f7"/><circle cx="557.3" cy="246.1" r="3.5" fill="#7fb4f7"/><circle cx="428.4" cy="172.6" r="3.5" fill="#96f6de"/><circle cx="255.2" cy="109.7" r="3.5" fill="#96f6de"/><circle cx="352.9" cy="268.9" r="3.5" fill="#7fb4f7"/><circle cx="725.3" cy="167.4" r="3.5" fill="#7fb4f7"/><circle cx="535.5" cy="166.8" r="3.5" fill="#7fb4f7"/><circle cx="200.0" cy="150.7" r="3.5" fill="#96f6de"/><circle cx="711.6" cy="186.1" r="3.5" fill="#7fb4f7"/><circle cx="228.8" cy="119.2" r="3.5" fill="#96f6de"/><circle cx="794.3" cy="206.0" r="3.5" fill="#96f6de"/><circle cx="486.4" cy="118.3" r="3.5" fill="#96f6de"/><circle cx="382.2" cy="274.3" r="3.5" fill="#7fb4f7"/><circle cx="788.6" cy="132.4" r="3.5" fill="#96f6de"/><circle cx="294.9" cy="151.9" r="3.5" fill="#7fb4f7"/><circle cx="281.9" cy="142.5" r="3.5" fill="#96f6de"/><circle cx="336.5" cy="299.9" r="3.5" fill="#7fb4f7"/><circle cx="299.5" cy="211.6" r="3.5" fill="#7fb4f7"/><circle cx="304.9" cy="106.5" r="3.5" fill="#96f6de"/><circle cx="768.7" cy="159.9" r="3.5" fill="#96f6de"/><circle cx="359.2" cy="247.2" r="3.5" fill="#7fb4f7"/><circle cx="221.7" cy="163.8" r="3.5" fill="#7fb4f7"/><circle cx="720.3" cy="144.8" r="3.5" fill="#96f6de"/><circle cx="489.0" cy="113.2" r="3.5" fill="#96f6de"/><circle cx="361.8" cy="290.5" r="3.5" fill="#7fb4f7"/><circle cx="775.8" cy="267.5" r="3.5" fill="#96f6de"/><circle cx="329.4" cy="197.2" r="3.5" fill="#96f6de"/><circle cx="362.3" cy="288.2" r="3.5" fill="#96f6de"/><circle cx="257.2" cy="98.7" r="3.5" fill="#96f6de"/><circle cx="803.1" cy="308.9" r="3.5" fill="#7fb4f7"/><circle cx="479.1" cy="116.8" r="3.5" fill="#7fb4f7"/><circle cx="247.5" cy="175.1" r="3.5" fill="#96f6de"/><circle cx="369.3" cy="283.9" r="3.5" fill="#7fb4f7"/><circle cx="623.0" cy="150.7" r="3.5" fill="#96f6de"/><circle cx="370.7" cy="242.2" r="3.5" fill="#7fb4f7"/><circle cx="446.4" cy="108.3" r="3.5" fill="#7fb4f7"/><circle cx="248.0" cy="170.1" r="3.5" fill="#96f6de"/><circle cx="549.5" cy="160.4" r="3.5" fill="#7fb4f7"/><circle cx="791.9" cy="326.7" r="3.5" fill="#7fb4f7"/><circle cx="464.9" cy="208.9" r="3.5" fill="#7fb4f7"/><circle cx="748.9" cy="233.4" r="3.5" fill="#7fb4f7"/><circle cx="796.4" cy="303.8" r="3.5" fill="#7fb4f7"/><circle cx="555.0" cy="160.7" r="3.5" fill="#96f6de"/><circle cx="237.9" cy="162.6" r="3.5" fill="#96f6de"/><circle cx="499.2" cy="123.3" r="3.5" fill="#96f6de"/><circle cx="723.5" cy="119.9" r="3.5" fill="#7fb4f7"/><circle cx="461.2" cy="105.1" r="3.5" fill="#7fb4f7"/><circle cx="232.5" cy="127.9" r="3.5" fill="#7fb4f7"/><circle cx="633.6" cy="98.3" r="3.5" fill="#7fb4f7"/><circle cx="199.9" cy="132.9" r="3.5" fill="#7fb4f7"/><circle cx="556.2" cy="165.5" r="3.5" fill="#7fb4f7"/><circle cx="505.0" cy="93.5" r="3.5" fill="#7fb4f7"/><circle cx="810.2" cy="296.3" r="3.5" fill="#7fb4f7"/><circle cx="529.0" cy="90.8" r="3.5" fill="#7fb4f7"/><circle cx="119.8" cy="192.7" r="3.5" fill="#7fb4f7"/><circle cx="504.1" cy="141.7" r="3.5" fill="#7fb4f7"/><circle cx="695.4" cy="227.2" r="3.5" fill="#96f6de"/><circle cx="569.5" cy="191.5" r="3.5" fill="#7fb4f7"/><circle cx="336.6" cy="305.5" r="3.5" fill="#7fb4f7"/><circle cx="191.1" cy="89.7" r="3.5" fill="#96f6de"/><circle cx="325.6" cy="129.7" r="3.5" fill="#96f6de"/><circle cx="353.8" cy="297.3" r="3.5" fill="#7fb4f7"/><circle cx="781.3" cy="151.1" r="3.5" fill="#7fb4f7"/><circle cx="265.9" cy="136.1" r="3.5" fill="#96f6de"/><circle cx="214.6" cy="119.8" r="3.5" fill="#96f6de"/><circle cx="286.5" cy="238.6" r="3.5" fill="#7fb4f7"/><circle cx="287.9" cy="147.5" r="3.5" fill="#7fb4f7"/><circle cx="447.2" cy="135.1" r="3.5" fill="#7fb4f7"/><circle cx="228.5" cy="184.2" r="3.5" fill="#7fb4f7"/><circle cx="563.7" cy="198.1" r="3.5" fill="#7fb4f7"/><circle cx="342.0" cy="313.8" r="3.5" fill="#7fb4f7"/><circle cx="776.3" cy="263.8" r="3.5" fill="#7fb4f7"/><circle cx="169.2" cy="111.0" r="3.5" fill="#96f6de"/><circle cx="346.8" cy="314.1" r="3.5" fill="#96f6de"/><circle cx="207.8" cy="151.4" r="3.5" fill="#96f6de"/><circle cx="277.1" cy="116.5" r="3.5" fill="#96f6de"/><circle cx="556.2" cy="187.5" r="3.5" fill="#7fb4f7"/><circle cx="526.6" cy="154.3" r="3.5" fill="#7fb4f7"/><circle cx="335.3" cy="317.6" r="3.5" fill="#7fb4f7"/><circle cx="319.1" cy="124.6" r="3.5" fill="#96f6de"/><circle cx="371.5" cy="248.5" r="3.5" fill="#7fb4f7"/><circle cx="331.3" cy="121.5" r="3.5" fill="#96f6de"/><circle cx="354.4" cy="80.1" r="3.5" fill="#96f6de"/><circle cx="320.7" cy="195.2" r="3.5" fill="#7fb4f7"/><circle cx="517.8" cy="102.9" r="3.5" fill="#7fb4f7"/><circle cx="549.6" cy="123.9" r="3.5" fill="#7fb4f7"/><circle cx="192.5" cy="119.1" r="3.5" fill="#96f6de"/><circle cx="283.5" cy="137.9" r="3.5" fill="#96f6de"/><circle cx="197.7" cy="116.5" r="3.5" fill="#96f6de"/><circle cx="334.2" cy="300.1" r="3.5" fill="#7fb4f7"/><circle cx="417.9" cy="86.8" r="3.5" fill="#96f6de"/><circle cx="452.0" cy="156.1" r="3.5" fill="#7fb4f7"/><circle cx="244.2" cy="132.5" r="3.5" fill="#96f6de"/><circle cx="199.9" cy="161.7" r="3.5" fill="#7fb4f7"/><circle cx="526.5" cy="117.9" r="3.5" fill="#7fb4f7"/><circle cx="375.4" cy="241.5" r="3.5" fill="#96f6de"/><circle cx="543.1" cy="80.7" r="3.5" fill="#96f6de"/><circle cx="338.2" cy="321.0" r="3.5" fill="#96f6de"/><circle cx="273.9" cy="127.8" r="3.5" fill="#7fb4f7"/><circle cx="228.2" cy="146.4" r="3.5" fill="#96f6de"/><circle cx="506.5" cy="129.9" r="3.5" fill="#7fb4f7"/></g></g><rect x="62.90" y="34.30" width="810.65" height="404.90" fill="none" stroke="#585858" stroke-width="2.6"/><path d="M62.90 34.30v-11.0M62.90 439.20v11.0M79.79 34.30v-4.8M79.79 439.20v4.8M96.68 34.30v-4.8M96.68 439.20v4.8M113.57 34.30v-4.8M113.57 439.20v4.8M130.45 34.30v-4.8M130.45 439.20v4.8M147.34 34.30v-4.8M147.34 439.20v4.8M164.23 34.30v-11.0M164.23 439.20v11.0M181.12 34.30v-4.8M181.12 439.20v4.8M198.01 34.30v-4.8M198.01 439.20v4.8M214.90 34.30v-4.8M214.90 439.20v4.8M231.79 34.30v-4.8M231.79 439.20v4.8M248.67 34.30v-4.8M248.67 439.20v4.8M265.56 34.30v-11.0M265.56 439.20v11.0M282.45 34.30v-4.8M282.45 439.20v4.8M299.34 34.30v-4.8M299.34 439.20v4.8M316.23 34.30v-4.8M316.23 439.20v4.8M333.12 34.30v-4.8M333.12 439.20v4.8M350.01 34.30v-4.8M350.01 439.20v4.8M366.89 34.30v-11.0M366.89 439.20v11.0M383.78 34.30v-4.8M383.78 439.20v4.8M400.67 34.30v-4.8M400.67 439.20v4.8M417.56 34.30v-4.8M417.56 439.20v4.8M434.45 34.30v-4.8M434.45 439.20v4.8M451.34 34.30v-4.8M451.34 439.20v4.8M468.22 34.30v-11.0M468.22 439.20v11.0M485.11 34.30v-4.8M485.11 439.20v4.8M502.00 34.30v-4.8M502.00 439.20v4.8M518.89 34.30v-4.8M518.89 439.20v4.8M535.78 34.30v-4.8M535.78 439.20v4.8M552.67 34.30v-4.8M552.67 439.20v4.8M569.56 34.30v-11.0M569.56 439.20v11.0M586.44 34.30v-4.8M586.44 439.20v4.8M603.33 34.30v-4.8M603.33 439.20v4.8M620.22 34.30v-4.8M620.22 439.20v4.8M637.11 34.30v-4.8M637.11 439.20v4.8M654.00 34.30v-4.8M654.00 439.20v4.8M670.89 34.30v-11.0M670.89 439.20v11.0M687.78 34.30v-4.8M687.78 439.20v4.8M704.66 34.30v-4.8M704.66 439.20v4.8M721.55 34.30v-4.8M721.55 439.20v4.8M738.44 34.30v-4.8M738.44 439.20v4.8M755.33 34.30v-4.8M755.33 439.20v4.8M772.22 34.30v-11.0M772.22 439.20v11.0M789.11 34.30v-4.8M789.11 439.20v4.8M806.00 34.30v-4.8M806.00 439.20v4.8M822.88 34.30v-4.8M822.88 439.20v4.8M839.77 34.30v-4.8M839.77 439.20v4.8M856.66 34.30v-4.8M856.66 439.20v4.8M873.55 34.30v-11.0M873.55 439.20v11.0M62.90 439.20h-11.0M873.55 439.20h11.0M62.90 422.33h-4.8M873.55 422.33h4.8M62.90 405.46h-4.8M873.55 405.46h4.8M62.90 388.59h-4.8M873.55 388.59h4.8M62.90 371.72h-4.8M873.55 371.72h4.8M62.90 354.85h-4.8M873.55 354.85h4.8M62.90 337.98h-11.0M873.55 337.98h11.0M62.90 321.10h-4.8M873.55 321.10h4.8M62.90 304.23h-4.8M873.55 304.23h4.8M62.90 287.36h-4.8M873.55 287.36h4.8M62.90 270.49h-4.8M873.55 270.49h4.8M62.90 253.62h-4.8M873.55 253.62h4.8M62.90 236.75h-11.0M873.55 236.75h11.0M62.90 219.88h-4.8M873.55 219.88h4.8M62.90 203.01h-4.8M873.55 203.01h4.8M62.90 186.14h-4.8M873.55 186.14h4.8M62.90 169.27h-4.8M873.55 169.27h4.8M62.90 152.40h-4.8M873.55 152.40h4.8M62.90 135.53h-11.0M873.55 135.53h11.0M62.90 118.65h-4.8M873.55 118.65h4.8M62.90 101.78h-4.8M873.55 101.78h4.8M62.90 84.91h-4.8M873.55 84.91h4.8M62.90 68.04h-4.8M873.55 68.04h4.8M62.90 51.17h-4.8M873.55 51.17h4.8M62.90 34.30h-11.0M873.55 34.30h11.0" stroke="#1a1a1a" stroke-width="1.2" fill="none"/><g font-size="21.8" fill="#000" stroke="#000" stroke-width="0.3"><text x="62.9" y="20.0" text-anchor="middle" textLength="44.7" lengthAdjust="spacingAndGlyphs">180°</text><text x="62.9" y="468.3" text-anchor="middle" textLength="44.7" lengthAdjust="spacingAndGlyphs">180°</text><text x="164.2" y="20.0" text-anchor="middle" textLength="62.9" lengthAdjust="spacingAndGlyphs">135°W</text><text x="164.2" y="468.3" text-anchor="middle" textLength="62.9" lengthAdjust="spacingAndGlyphs">135°W</text><text x="265.6" y="20.0" text-anchor="middle" textLength="51.7" lengthAdjust="spacingAndGlyphs">90°W</text><text x="265.6" y="468.3" text-anchor="middle" textLength="51.7" lengthAdjust="spacingAndGlyphs">90°W</text><text x="366.9" y="20.0" text-anchor="middle" textLength="51.7" lengthAdjust="spacingAndGlyphs">45°W</text><text x="366.9" y="468.3" text-anchor="middle" textLength="51.7" lengthAdjust="spacingAndGlyphs">45°W</text><text x="468.2" y="20.0" text-anchor="middle" textLength="22.4" lengthAdjust="spacingAndGlyphs">0°</text><text x="468.2" y="468.3" text-anchor="middle" textLength="22.4" lengthAdjust="spacingAndGlyphs">0°</text><text x="569.6" y="20.0" text-anchor="middle" textLength="45.0" lengthAdjust="spacingAndGlyphs">45°E</text><text x="569.6" y="468.3" text-anchor="middle" textLength="45.0" lengthAdjust="spacingAndGlyphs">45°E</text><text x="670.9" y="20.0" text-anchor="middle" textLength="45.0" lengthAdjust="spacingAndGlyphs">90°E</text><text x="670.9" y="468.3" text-anchor="middle" textLength="45.0" lengthAdjust="spacingAndGlyphs">90°E</text><text x="772.2" y="20.0" text-anchor="middle" textLength="56.1" lengthAdjust="spacingAndGlyphs">135°E</text><text x="772.2" y="468.3" text-anchor="middle" textLength="56.1" lengthAdjust="spacingAndGlyphs">135°E</text><text x="873.5" y="20.0" text-anchor="middle" textLength="44.7" lengthAdjust="spacingAndGlyphs">180°</text><text x="873.5" y="468.3" text-anchor="middle" textLength="44.7" lengthAdjust="spacingAndGlyphs">180°</text><text x="50.1" y="41.9" text-anchor="end" textLength="48.8" lengthAdjust="spacingAndGlyphs">90°N</text><text x="887.1" y="41.9" textLength="48.8" lengthAdjust="spacingAndGlyphs">90°N</text><text x="50.1" y="143.1" text-anchor="end" textLength="48.8" lengthAdjust="spacingAndGlyphs">45°N</text><text x="887.1" y="143.1" textLength="48.8" lengthAdjust="spacingAndGlyphs">45°N</text><text x="50.1" y="244.3" text-anchor="end" textLength="22.4" lengthAdjust="spacingAndGlyphs">0°</text><text x="887.1" y="244.3" textLength="22.4" lengthAdjust="spacingAndGlyphs">0°</text><text x="50.1" y="345.6" text-anchor="end" textLength="45.0" lengthAdjust="spacingAndGlyphs">45°S</text><text x="887.1" y="345.6" textLength="45.0" lengthAdjust="spacingAndGlyphs">45°S</text><text x="50.1" y="446.8" text-anchor="end" textLength="45.0" lengthAdjust="spacingAndGlyphs">90°S</text><text x="887.1" y="446.8" textLength="45.0" lengthAdjust="spacingAndGlyphs">90°S</text></g><g clip-path="url(#clip1)"><use href="#land" transform="matrix(2.2531 0 0 -2.2503 1428.10 235.88)"/><path d="M1123.94 33.4V438.4M1225.32 33.4V438.4M1326.71 33.4V438.4M1428.10 33.4V438.4M1529.49 33.4V438.4M1630.88 33.4V438.4M1732.26 33.4V438.4M1022.5 337.14H1833.7M1022.5 235.88H1833.7M1022.5 134.61H1833.7" stroke="#c0c0c0" stroke-width="1.3" fill="none"/><g stroke="#0a0a0a" stroke-width="1.4"><circle cx="1223.9" cy="161.5" r="3.5" fill="#7fb4f7"/><circle cx="1234.4" cy="207.5" r="3.5" fill="#7fb4f7"/><circle cx="1512.5" cy="134.3" r="3.5" fill="#7fb4f7"/><circle cx="1661.6" cy="232.5" r="3.5" fill="#96f6de"/><circle cx="1691.5" cy="142.8" r="3.5" fill="#7fb4f7"/><circle cx="1441.7" cy="146.4" r="3.5" fill="#96f6de"/><circle cx="1507.7" cy="168.5" r="3.5" fill="#7fb4f7"/><circle cx="1686.6" cy="225.0" r="3.5" fill="#96f6de"/><circle cx="1571.9" cy="141.6" r="3.5" fill="#7fb4f7"/><circle cx="1651.2" cy="215.1" r="3.5" fill="#7fb4f7"/><circle cx="1261.4" cy="125.6" r="3.5" fill="#f0b832"/><circle cx="1268.0" cy="328.7" r="3.5" fill="#7fb4f7"/><circle cx="1320.2" cy="274.7" r="3.5" fill="#96f6de"/><circle cx="1425.8" cy="150.7" r="3.5" fill="#7fb4f7"/><circle cx="1128.3" cy="95.9" r="3.5" fill="#f0b832"/><circle cx="1204.5" cy="162.6" r="3.5" fill="#96f6de"/><circle cx="1545.2" cy="129.7" r="3.5" fill="#96f6de"/><circle cx="1247.4" cy="121.9" r="3.5" fill="#f0b832"/><circle cx="1405.2" cy="117.1" r="3.5" fill="#96f6de"/><circle cx="1458.6" cy="126.8" r="3.5" fill="#96f6de"/><circle cx="1152.2" cy="123.3" r="3.5" fill="#7fb4f7"/><circle cx="1415.8" cy="110.3" r="3.5" fill="#96f6de"/><circle cx="1457.7" cy="142.2" r="3.5" fill="#7fb4f7"/><circle cx="1666.1" cy="187.7" r="3.5" fill="#7fb4f7"/><circle cx="1149.1" cy="126.8" r="3.5" fill="#96f6de"/><circle cx="1301.2" cy="286.7" r="3.5" fill="#7fb4f7"/><circle cx="1146.4" cy="102.6" r="3.5" fill="#7fb4f7"/><circle cx="1091.4" cy="101.7" r="3.5" fill="#96f6de"/><circle cx="1290.9" cy="323.7" r="3.5" fill="#7fb4f7"/><circle cx="1576.9" cy="148.2" r="3.5" fill="#7fb4f7"/><circle cx="1249.0" cy="160.0" r="3.5" fill="#96f6de"/><circle cx="1149.9" cy="98.1" r="3.5" fill="#f0b832"/><circle cx="1488.5" cy="78.5" r="3.5" fill="#96f6de"/><circle cx="1720.4" cy="96.1" r="3.5" fill="#f0b832"/><circle cx="1183.8" cy="134.2" r="3.5" fill="#96f6de"/><circle cx="1434.1" cy="137.9" r="3.5" fill="#7fb4f7"/><circle cx="1634.2" cy="177.0" r="3.5" fill="#7fb4f7"/><circle cx="1249.3" cy="149.6" r="3.5" fill="#7fb4f7"/><circle cx="1437.8" cy="147.0" r="3.5" fill="#7fb4f7"/><circle cx="1478.3" cy="143.0" r="3.5" fill="#7fb4f7"/><circle cx="1390.2" cy="162.6" r="3.5" fill="#7fb4f7"/><circle cx="1298.5" cy="127.5" r="3.5" fill="#f0b832"/><circle cx="1524.5" cy="190.4" r="3.5" fill="#7fb4f7"/><circle cx="1219.4" cy="202.0" r="3.5" fill="#96f6de"/><circle cx="1297.5" cy="272.6" r="3.5" fill="#7fb4f7"/><circle cx="1300.5" cy="293.1" r="3.5" fill="#7fb4f7"/><circle cx="1271.8" cy="61.6" r="3.5" fill="#96f6de"/><circle cx="1309.0" cy="309.9" r="3.5" fill="#7fb4f7"/><circle cx="1154.7" cy="149.8" r="3.5" fill="#7fb4f7"/><circle cx="1432.0" cy="127.2" r="3.5" fill="#96f6de"/><circle cx="1305.6" cy="286.9" r="3.5" fill="#7fb4f7"/><circle cx="1150.7" cy="105.5" r="3.5" fill="#7fb4f7"/><circle cx="1406.0" cy="111.1" r="3.5" fill="#7fb4f7"/><circle cx="1758.7" cy="279.0" r="3.5" fill="#96f6de"/><circle cx="1491.8" cy="141.7" r="3.5" fill="#96f6de"/><circle cx="1276.7" cy="255.2" r="3.5" fill="#7fb4f7"/><circle cx="1496.6" cy="135.7" r="3.5" fill="#7fb4f7"/><circle cx="1521.3" cy="163.3" r="3.5" fill="#7fb4f7"/><circle cx="1314.2" cy="85.4" r="3.5" fill="#96f6de"/><circle cx="1725.7" cy="137.7" r="3.5" fill="#96f6de"/><circle cx="1245.2" cy="128.4" r="3.5" fill="#f0b832"/><circle cx="1312.3" cy="292.5" r="3.5" fill="#7fb4f7"/><circle cx="1475.7" cy="141.4" r="3.5" fill="#7fb4f7"/><circle cx="1273.8" cy="92.0" r="3.5" fill="#96f6de"/><circle cx="1277.4" cy="123.5" r="3.5" fill="#f0b832"/><circle cx="1531.6" cy="158.1" r="3.5" fill="#7fb4f7"/><circle cx="1534.2" cy="170.4" r="3.5" fill="#96f6de"/><circle cx="1201.4" cy="168.2" r="3.5" fill="#7fb4f7"/><circle cx="1263.1" cy="324.1" r="3.5" fill="#7fb4f7"/><circle cx="1173.0" cy="143.0" r="3.5" fill="#7fb4f7"/><circle cx="1221.5" cy="113.8" r="3.5" fill="#7fb4f7"/><circle cx="1163.4" cy="148.7" r="3.5" fill="#7fb4f7"/><circle cx="1184.7" cy="122.1" r="3.5" fill="#f0b832"/><circle cx="1238.1" cy="213.7" r="3.5" fill="#7fb4f7"/><circle cx="1181.4" cy="138.6" r="3.5" fill="#96f6de"/><circle cx="1298.8" cy="120.8" r="3.5" fill="#f0b832"/><circle cx="1418.8" cy="122.6" r="3.5" fill="#7fb4f7"/><circle cx="1161.3" cy="154.7" r="3.5" fill="#7fb4f7"/><circle cx="1055.9" cy="97.2" r="3.5" fill="#96f6de"/><circle cx="1225.7" cy="188.3" r="3.5" fill="#7fb4f7"/><circle cx="1425.7" cy="156.5" r="3.5" fill="#7fb4f7"/><circle cx="1428.4" cy="127.8" r="3.5" fill="#7fb4f7"/><circle cx="1828.1" cy="89.9" r="3.5" fill="#7fb4f7"/><circle cx="1304.4" cy="282.7" r="3.5" fill="#7fb4f7"/><circle cx="1454.6" cy="100.6" r="3.5" fill="#96f6de"/><circle cx="1299.8" cy="124.0" r="3.5" fill="#96f6de"/><circle cx="1185.3" cy="85.5" r="3.5" fill="#f0b832"/><circle cx="1286.7" cy="119.8" r="3.5" fill="#f0b832"/><circle cx="1269.2" cy="287.6" r="3.5" fill="#7fb4f7"/><circle cx="1489.2" cy="97.0" r="3.5" fill="#7fb4f7"/><circle cx="1337.7" cy="254.1" r="3.5" fill="#7fb4f7"/><circle cx="1484.6" cy="101.0" r="3.5" fill="#96f6de"/><circle cx="1504.1" cy="124.7" r="3.5" fill="#96f6de"/><circle cx="1154.2" cy="144.4" r="3.5" fill="#7fb4f7"/><circle cx="1444.7" cy="113.9" r="3.5" fill="#96f6de"/><circle cx="1274.7" cy="272.6" r="3.5" fill="#96f6de"/><circle cx="1180.6" cy="159.6" r="3.5" fill="#7fb4f7"/><circle cx="1165.4" cy="111.8" r="3.5" fill="#f0b832"/><circle cx="1176.4" cy="135.3" r="3.5" fill="#96f6de"/><circle cx="1287.2" cy="123.5" r="3.5" fill="#f0b832"/><circle cx="1177.5" cy="87.5" r="3.5" fill="#f0b832"/><circle cx="1403.7" cy="120.4" r="3.5" fill="#7fb4f7"/><circle cx="1435.6" cy="220.5" r="3.5" fill="#96f6de"/><circle cx="1486.6" cy="74.5" r="3.5" fill="#7fb4f7"/><circle cx="1260.4" cy="128.3" r="3.5" fill="#96f6de"/><circle cx="1224.6" cy="143.5" r="3.5" fill="#96f6de"/><circle cx="1410.9" cy="158.9" r="3.5" fill="#7fb4f7"/><circle cx="1532.9" cy="271.4" r="3.5" fill="#7fb4f7"/><circle cx="1323.3" cy="262.3" r="3.5" fill="#7fb4f7"/><circle cx="1737.0" cy="316.1" r="3.5" fill="#96f6de"/><circle cx="1199.3" cy="124.6" r="3.5" fill="#f0b832"/><circle cx="1315.7" cy="261.9" r="3.5" fill="#7fb4f7"/><circle cx="1216.9" cy="145.3" r="3.5" fill="#96f6de"/><circle cx="1537.7" cy="156.3" r="3.5" fill="#7fb4f7"/><circle cx="1206.5" cy="152.9" r="3.5" fill="#7fb4f7"/><circle cx="1530.3" cy="154.3" r="3.5" fill="#96f6de"/><circle cx="1503.8" cy="172.3" r="3.5" fill="#7fb4f7"/><circle cx="1178.8" cy="114.2" r="3.5" fill="#f0b832"/><circle cx="1244.0" cy="154.2" r="3.5" fill="#96f6de"/><circle cx="1154.6" cy="124.4" r="3.5" fill="#96f6de"/><circle cx="1478.9" cy="76.1" r="3.5" fill="#96f6de"/><circle cx="1499.3" cy="168.5" r="3.5" fill="#7fb4f7"/><circle cx="1681.6" cy="150.2" r="3.5" fill="#7fb4f7"/><circle cx="1194.5" cy="161.0" r="3.5" fill="#7fb4f7"/><circle cx="1255.8" cy="133.5" r="3.5" fill="#7fb4f7"/><circle cx="1345.8" cy="258.4" r="3.5" fill="#7fb4f7"/><circle cx="1211.4" cy="124.2" r="3.5" fill="#f0b832"/><circle cx="1197.5" cy="110.7" r="3.5" fill="#f0b832"/><circle cx="1182.5" cy="100.9" r="3.5" fill="#f0b832"/><circle cx="1338.8" cy="260.6" r="3.5" fill="#96f6de"/><circle cx="1196.4" cy="104.5" r="3.5" fill="#f0b832"/><circle cx="1225.4" cy="167.8" r="3.5" fill="#7fb4f7"/><circle cx="1424.1" cy="143.1" r="3.5" fill="#96f6de"/><circle cx="1152.2" cy="114.0" r="3.5" fill="#f0b832"/><circle cx="1290.4" cy="128.1" r="3.5" fill="#7fb4f7"/><circle cx="1328.5" cy="271.1" r="3.5" fill="#7fb4f7"/><circle cx="1477.9" cy="83.5" r="3.5" fill="#96f6de"/><circle cx="1266.6" cy="121.6" r="3.5" fill="#f0b832"/><circle cx="1224.4" cy="203.3" r="3.5" fill="#96f6de"/><circle cx="1452.1" cy="152.8" r="3.5" fill="#7fb4f7"/><circle cx="1207.4" cy="132.0" r="3.5" fill="#7fb4f7"/><circle cx="1177.2" cy="129.9" r="3.5" fill="#f0b832"/><circle cx="1178.4" cy="121.3" r="3.5" fill="#96f6de"/><circle cx="1211.2" cy="128.3" r="3.5" fill="#96f6de"/><circle cx="1136.0" cy="93.3" r="3.5" fill="#f0b832"/><circle cx="1292.9" cy="117.2" r="3.5" fill="#7fb4f7"/><circle cx="1175.0" cy="147.1" r="3.5" fill="#7fb4f7"/><circle cx="1218.8" cy="111.9" r="3.5" fill="#7fb4f7"/><circle cx="1633.7" cy="114.8" r="3.5" fill="#f0b832"/><circle cx="1221.3" cy="161.1" r="3.5" fill="#7fb4f7"/><circle cx="1456.0" cy="139.3" r="3.5" fill="#7fb4f7"/><circle cx="1287.8" cy="50.0" r="3.5" fill="#96f6de"/><circle cx="1489.6" cy="165.2" r="3.5" fill="#96f6de"/><circle cx="1478.6" cy="312.0" r="3.5" fill="#7fb4f7"/><circle cx="1511.9" cy="145.9" r="3.5" fill="#96f6de"/><circle cx="1542.7" cy="97.3" r="3.5" fill="#96f6de"/><circle cx="1311.1" cy="224.2" r="3.5" fill="#7fb4f7"/><circle cx="1243.9" cy="122.1" r="3.5" fill="#f0b832"/><circle cx="1169.0" cy="107.3" r="3.5" fill="#f0b832"/><circle cx="1417.5" cy="149.1" r="3.5" fill="#96f6de"/><circle cx="1423.9" cy="116.7" r="3.5" fill="#96f6de"/><circle cx="1329.9" cy="256.2" r="3.5" fill="#96f6de"/><circle cx="1482.9" cy="154.0" r="3.5" fill="#7fb4f7"/><circle cx="1236.9" cy="71.3" r="3.5" fill="#96f6de"/><circle cx="1431.4" cy="222.1" r="3.5" fill="#7fb4f7"/><circle cx="1152.8" cy="103.0" r="3.5" fill="#f0b832"/><circle cx="1166.4" cy="118.9" r="3.5" fill="#941410"/><circle cx="1414.3" cy="153.0" r="3.5" fill="#96f6de"/><circle cx="1445.4" cy="166.7" r="3.5" fill="#96f6de"/><circle cx="1617.3" cy="116.5" r="3.5" fill="#f0b832"/><circle cx="1179.1" cy="170.1" r="3.5" fill="#7fb4f7"/><circle cx="1747.9" cy="318.2" r="3.5" fill="#96f6de"/><circle cx="1682.8" cy="172.7" r="3.5" fill="#7fb4f7"/><circle cx="1294.2" cy="206.2" r="3.5" fill="#7fb4f7"/><circle cx="1306.2" cy="280.1" r="3.5" fill="#7fb4f7"/><circle cx="1276.4" cy="338.5" r="3.5" fill="#96f6de"/><circle cx="1177.5" cy="108.2" r="3.5" fill="#7fb4f7"/><circle cx="1722.7" cy="262.9" r="3.5" fill="#7fb4f7"/><circle cx="1321.2" cy="283.7" r="3.5" fill="#7fb4f7"/><circle cx="1467.9" cy="286.3" r="3.5" fill="#7fb4f7"/><circle cx="1168.9" cy="112.1" r="3.5" fill="#f0b832"/><circle cx="1520.0" cy="90.6" r="3.5" fill="#96f6de"/><circle cx="1480.8" cy="143.2" r="3.5" fill="#7fb4f7"/><circle cx="1324.2" cy="255.4" r="3.5" fill="#7fb4f7"/><circle cx="1156.0" cy="96.5" r="3.5" fill="#96f6de"/><circle cx="1743.2" cy="139.0" r="3.5" fill="#96f6de"/><circle cx="1767.0" cy="100.8" r="3.5" fill="#f0b832"/><circle cx="1729.6" cy="308.0" r="3.5" fill="#7fb4f7"/><circle cx="1453.1" cy="85.4" r="3.5" fill="#7fb4f7"/><circle cx="1304.2" cy="126.5" r="3.5" fill="#7fb4f7"/><circle cx="1268.7" cy="296.3" r="3.5" fill="#7fb4f7"/><circle cx="1591.9" cy="183.9" r="3.5" fill="#96f6de"/><circle cx="1463.6" cy="96.1" r="3.5" fill="#96f6de"/><circle cx="1472.0" cy="103.8" r="3.5" fill="#96f6de"/><circle cx="1517.5" cy="143.1" r="3.5" fill="#7fb4f7"/><circle cx="1284.1" cy="132.0" r="3.5" fill="#f0b832"/><circle cx="1270.4" cy="120.3" r="3.5" fill="#f0b832"/><circle cx="1243.1" cy="183.8" r="3.5" fill="#96f6de"/><circle cx="1475.4" cy="80.6" r="3.5" fill="#96f6de"/><circle cx="1284.1" cy="114.6" r="3.5" fill="#7fb4f7"/><circle cx="1278.0" cy="116.6" r="3.5" fill="#f0b832"/><circle cx="1168.9" cy="131.9" r="3.5" fill="#96f6de"/><circle cx="1711.5" cy="137.2" r="3.5" fill="#96f6de"/><circle cx="1226.8" cy="156.5" r="3.5" fill="#7fb4f7"/><circle cx="1434.5" cy="151.0" r="3.5" fill="#7fb4f7"/><circle cx="1313.3" cy="274.3" r="3.5" fill="#96f6de"/><circle cx="1407.6" cy="125.0" r="3.5" fill="#96f6de"/><circle cx="1487.8" cy="301.3" r="3.5" fill="#7fb4f7"/><circle cx="1184.6" cy="104.0" r="3.5" fill="#7fb4f7"/><circle cx="1409.8" cy="134.6" r="3.5" fill="#7fb4f7"/><circle cx="1170.9" cy="138.0" r="3.5" fill="#7fb4f7"/><circle cx="1727.7" cy="155.1" r="3.5" fill="#7fb4f7"/><circle cx="1710.2" cy="179.5" r="3.5" fill="#7fb4f7"/><circle cx="1532.9" cy="165.9" r="3.5" fill="#7fb4f7"/><circle cx="1186.1" cy="109.1" r="3.5" fill="#f0b832"/><circle cx="1312.9" cy="279.3" r="3.5" fill="#7fb4f7"/><circle cx="1772.3" cy="308.0" r="3.5" fill="#7fb4f7"/><circle cx="1191.1" cy="69.4" r="3.5" fill="#96f6de"/><circle cx="1741.8" cy="293.8" r="3.5" fill="#7fb4f7"/><circle cx="1748.3" cy="301.9" r="3.5" fill="#7fb4f7"/><circle cx="1668.4" cy="127.7" r="3.5" fill="#f0b832"/><circle cx="1248.6" cy="141.7" r="3.5" fill="#7fb4f7"/><circle cx="1223.3" cy="123.7" r="3.5" fill="#f0b832"/><circle cx="1238.7" cy="163.6" r="3.5" fill="#7fb4f7"/><circle cx="1230.4" cy="151.1" r="3.5" fill="#7fb4f7"/><circle cx="1538.7" cy="176.2" r="3.5" fill="#7fb4f7"/><circle cx="1725.5" cy="162.8" r="3.5" fill="#7fb4f7"/><circle cx="1448.6" cy="159.5" r="3.5" fill="#7fb4f7"/><circle cx="1331.5" cy="268.0" r="3.5" fill="#7fb4f7"/><circle cx="1484.2" cy="142.8" r="3.5" fill="#7fb4f7"/><circle cx="1317.0" cy="297.5" r="3.5" fill="#7fb4f7"/><circle cx="1308.3" cy="282.7" r="3.5" fill="#7fb4f7"/><circle cx="1418.7" cy="161.3" r="3.5" fill="#7fb4f7"/><circle cx="1410.0" cy="120.0" r="3.5" fill="#96f6de"/><circle cx="1468.1" cy="110.2" r="3.5" fill="#7fb4f7"/><circle cx="1462.9" cy="245.2" r="3.5" fill="#96f6de"/><circle cx="1746.4" cy="148.9" r="3.5" fill="#96f6de"/><circle cx="1191.3" cy="167.0" r="3.5" fill="#7fb4f7"/><circle cx="1279.1" cy="128.9" r="3.5" fill="#96f6de"/><circle cx="1490.7" cy="92.2" r="3.5" fill="#7fb4f7"/><circle cx="1452.7" cy="128.9" r="3.5" fill="#96f6de"/><circle cx="1499.1" cy="56.0" r="3.5" fill="#96f6de"/><circle cx="1413.9" cy="126.4" r="3.5" fill="#96f6de"/><circle cx="1522.3" cy="155.9" r="3.5" fill="#7fb4f7"/><circle cx="1593.1" cy="112.3" r="3.5" fill="#f0b832"/><circle cx="1226.6" cy="114.0" r="3.5" fill="#f0b832"/><circle cx="1315.2" cy="249.4" r="3.5" fill="#7fb4f7"/><circle cx="1706.5" cy="141.9" r="3.5" fill="#96f6de"/><circle cx="1479.1" cy="118.6" r="3.5" fill="#96f6de"/><circle cx="1503.8" cy="157.5" r="3.5" fill="#7fb4f7"/><circle cx="1512.8" cy="109.7" r="3.5" fill="#96f6de"/><circle cx="1230.7" cy="144.0" r="3.5" fill="#7fb4f7"/><circle cx="1438.7" cy="152.7" r="3.5" fill="#7fb4f7"/><circle cx="1212.1" cy="145.1" r="3.5" fill="#7fb4f7"/><circle cx="1521.0" cy="141.3" r="3.5" fill="#96f6de"/><circle cx="1486.4" cy="153.0" r="3.5" fill="#7fb4f7"/><circle cx="1294.3" cy="133.7" r="3.5" fill="#7fb4f7"/><circle cx="1545.7" cy="110.6" r="3.5" fill="#f0b832"/><circle cx="1184.5" cy="115.4" r="3.5" fill="#f0b832"/><circle cx="1286.8" cy="116.6" r="3.5" fill="#7fb4f7"/><circle cx="1224.1" cy="156.6" r="3.5" fill="#7fb4f7"/><circle cx="1342.5" cy="282.4" r="3.5" fill="#96f6de"/><circle cx="1438.3" cy="155.1" r="3.5" fill="#7fb4f7"/><circle cx="1478.5" cy="125.0" r="3.5" fill="#96f6de"/><circle cx="1469.9" cy="142.4" r="3.5" fill="#7fb4f7"/><circle cx="1468.4" cy="80.7" r="3.5" fill="#96f6de"/><circle cx="1434.8" cy="167.2" r="3.5" fill="#7fb4f7"/><circle cx="1676.1" cy="179.0" r="3.5" fill="#96f6de"/><circle cx="1501.5" cy="293.8" r="3.5" fill="#7fb4f7"/><circle cx="1243.5" cy="118.5" r="3.5" fill="#f0b832"/><circle cx="1690.3" cy="255.4" r="3.5" fill="#7fb4f7"/><circle cx="1431.0" cy="137.8" r="3.5" fill="#7fb4f7"/><circle cx="1141.8" cy="112.0" r="3.5" fill="#7fb4f7"/><circle cx="1471.7" cy="96.3" r="3.5" fill="#96f6de"/><circle cx="1144.6" cy="105.4" r="3.5" fill="#7fb4f7"/><circle cx="1115.7" cy="97.8" r="3.5" fill="#96f6de"/><circle cx="1191.6" cy="113.3" r="3.5" fill="#f0b832"/><circle cx="1530.0" cy="144.7" r="3.5" fill="#7fb4f7"/><circle cx="1405.5" cy="159.6" r="3.5" fill="#96f6de"/><circle cx="1520.4" cy="145.7" r="3.5" fill="#7fb4f7"/><circle cx="1188.5" cy="104.9" r="3.5" fill="#f0b832"/><circle cx="1463.3" cy="137.6" r="3.5" fill="#96f6de"/><circle cx="1396.8" cy="204.6" r="3.5" fill="#96f6de"/><circle cx="1292.6" cy="320.0" r="3.5" fill="#7fb4f7"/><circle cx="1314.2" cy="282.9" r="3.5" fill="#96f6de"/><circle cx="1516.2" cy="118.9" r="3.5" fill="#96f6de"/><circle cx="1591.9" cy="143.9" r="3.5" fill="#7fb4f7"/><circle cx="1532.8" cy="140.5" r="3.5" fill="#96f6de"/><circle cx="1497.3" cy="99.1" r="3.5" fill="#7fb4f7"/><circle cx="1533.9" cy="291.8" r="3.5" fill="#7fb4f7"/><circle cx="1345.9" cy="252.9" r="3.5" fill="#7fb4f7"/><circle cx="1482.9" cy="128.7" r="3.5" fill="#96f6de"/><circle cx="1341.8" cy="255.5" r="3.5" fill="#96f6de"/><circle cx="1164.4" cy="154.8" r="3.5" fill="#7fb4f7"/><circle cx="1486.8" cy="106.8" r="3.5" fill="#7fb4f7"/><circle cx="1317.2" cy="255.5" r="3.5" fill="#7fb4f7"/><circle cx="1747.9" cy="142.9" r="3.5" fill="#7fb4f7"/><circle cx="1246.5" cy="164.8" r="3.5" fill="#7fb4f7"/><circle cx="1659.1" cy="197.6" r="3.5" fill="#96f6de"/><circle cx="1425.2" cy="119.1" r="3.5" fill="#96f6de"/><circle cx="1219.1" cy="104.7" r="3.5" fill="#7fb4f7"/><circle cx="1337.0" cy="280.9" r="3.5" fill="#96f6de"/><circle cx="1251.8" cy="187.6" r="3.5" fill="#96f6de"/><circle cx="1763.1" cy="281.6" r="3.5" fill="#7fb4f7"/><circle cx="1157.6" cy="134.8" r="3.5" fill="#96f6de"/><circle cx="1233.4" cy="134.0" r="3.5" fill="#96f6de"/><circle cx="1246.6" cy="117.5" r="3.5" fill="#f0b832"/><circle cx="1182.4" cy="112.1" r="3.5" fill="#96f6de"/><circle cx="1258.6" cy="131.0" r="3.5" fill="#f0b832"/><circle cx="1308.0" cy="298.8" r="3.5" fill="#7fb4f7"/><circle cx="1457.7" cy="92.2" r="3.5" fill="#7fb4f7"/><circle cx="1755.0" cy="318.2" r="3.5" fill="#7fb4f7"/><circle cx="1712.5" cy="132.7" r="3.5" fill="#f0b832"/><circle cx="1332.8" cy="252.0" r="3.5" fill="#96f6de"/><circle cx="1208.4" cy="124.5" r="3.5" fill="#f0b832"/><circle cx="1258.6" cy="153.6" r="3.5" fill="#7fb4f7"/><circle cx="1113.4" cy="102.3" r="3.5" fill="#96f6de"/><circle cx="1251.8" cy="236.5" r="3.5" fill="#7fb4f7"/><circle cx="1729.6" cy="289.1" r="3.5" fill="#7fb4f7"/><circle cx="1434.9" cy="145.8" r="3.5" fill="#96f6de"/><circle cx="1317.0" cy="294.8" r="3.5" fill="#7fb4f7"/><circle cx="1495.3" cy="94.6" r="3.5" fill="#96f6de"/><circle cx="1621.8" cy="190.2" r="3.5" fill="#7fb4f7"/><circle cx="1270.7" cy="245.0" r="3.5" fill="#7fb4f7"/><circle cx="1429.4" cy="158.5" r="3.5" fill="#7fb4f7"/><circle cx="1313.1" cy="263.7" r="3.5" fill="#96f6de"/><circle cx="1499.3" cy="131.5" r="3.5" fill="#7fb4f7"/><circle cx="1280.9" cy="87.5" r="3.5" fill="#96f6de"/><circle cx="1203.9" cy="158.4" r="3.5" fill="#7fb4f7"/><circle cx="1701.2" cy="304.4" r="3.5" fill="#7fb4f7"/><circle cx="1485.9" cy="124.2" r="3.5" fill="#96f6de"/><circle cx="1339.2" cy="271.3" r="3.5" fill="#7fb4f7"/><circle cx="1427.3" cy="223.8" r="3.5" fill="#7fb4f7"/><circle cx="1543.6" cy="137.1" r="3.5" fill="#7fb4f7"/><circle cx="1275.5" cy="135.1" r="3.5" fill="#96f6de"/><circle cx="1444.9" cy="136.3" r="3.5" fill="#7fb4f7"/><circle cx="1464.1" cy="149.5" r="3.5" fill="#7fb4f7"/><circle cx="1500.2" cy="135.0" r="3.5" fill="#7fb4f7"/><circle cx="1053.3" cy="114.4" r="3.5" fill="#7fb4f7"/><circle cx="1601.8" cy="138.9" r="3.5" fill="#96f6de"/><circle cx="1260.1" cy="148.3" r="3.5" fill="#7fb4f7"/><circle cx="1416.5" cy="217.2" r="3.5" fill="#7fb4f7"/><circle cx="1282.7" cy="320.5" r="3.5" fill="#7fb4f7"/><circle cx="1208.2" cy="111.3" r="3.5" fill="#f0b832"/><circle cx="1477.2" cy="138.4" r="3.5" fill="#7fb4f7"/><circle cx="1477.4" cy="94.7" r="3.5" fill="#7fb4f7"/><circle cx="1435.2" cy="164.0" r="3.5" fill="#96f6de"/><circle cx="1268.7" cy="303.3" r="3.5" fill="#7fb4f7"/><circle cx="1553.3" cy="282.6" r="3.5" fill="#7fb4f7"/><circle cx="1173.6" cy="163.1" r="3.5" fill="#96f6de"/><circle cx="1302.9" cy="246.0" r="3.5" fill="#7fb4f7"/><circle cx="1292.3" cy="125.5" r="3.5" fill="#7fb4f7"/><circle cx="1499.4" cy="146.3" r="3.5" fill="#7fb4f7"/><circle cx="1425.5" cy="113.0" r="3.5" fill="#96f6de"/><circle cx="1504.1" cy="120.3" r="3.5" fill="#7fb4f7"/><circle cx="1502.8" cy="145.9" r="3.5" fill="#7fb4f7"/><circle cx="1392.8" cy="172.3" r="3.5" fill="#96f6de"/><circle cx="1462.3" cy="134.2" r="3.5" fill="#96f6de"/><circle cx="1408.9" cy="156.7" r="3.5" fill="#7fb4f7"/><circle cx="1493.8" cy="156.3" r="3.5" fill="#96f6de"/><circle cx="1259.3" cy="222.4" r="3.5" fill="#7fb4f7"/><circle cx="1614.3" cy="112.3" r="3.5" fill="#f0b832"/><circle cx="1214.1" cy="166.2" r="3.5" fill="#7fb4f7"/><circle cx="1075.9" cy="88.8" r="3.5" fill="#7fb4f7"/><circle cx="1228.8" cy="135.5" r="3.5" fill="#96f6de"/><circle cx="1442.9" cy="165.6" r="3.5" fill="#7fb4f7"/><circle cx="1445.3" cy="150.4" r="3.5" fill="#7fb4f7"/><circle cx="1205.9" cy="128.1" r="3.5" fill="#f0b832"/><circle cx="1319.8" cy="238.5" r="3.5" fill="#7fb4f7"/><circle cx="1478.9" cy="134.1" r="3.5" fill="#7fb4f7"/><circle cx="1711.5" cy="160.3" r="3.5" fill="#7fb4f7"/><circle cx="1259.6" cy="123.7" r="3.5" fill="#f0b832"/><circle cx="1514.5" cy="140.9" r="3.5" fill="#96f6de"/><circle cx="1198.0" cy="164.1" r="3.5" fill="#7fb4f7"/><circle cx="1410.4" cy="168.1" r="3.5" fill="#7fb4f7"/><circle cx="1322.2" cy="245.8" r="3.5" fill="#7fb4f7"/><circle cx="1732.7" cy="127.0" r="3.5" fill="#f0b832"/><circle cx="1689.0" cy="307.0" r="3.5" fill="#7fb4f7"/><circle cx="1178.5" cy="100.2" r="3.5" fill="#f0b832"/><circle cx="1137.9" cy="100.4" r="3.5" fill="#f0b832"/><circle cx="1677.1" cy="232.5" r="3.5" fill="#7fb4f7"/><circle cx="1701.5" cy="148.2" r="3.5" fill="#7fb4f7"/><circle cx="1228.0" cy="168.5" r="3.5" fill="#7fb4f7"/><circle cx="1205.5" cy="178.3" r="3.5" fill="#7fb4f7"/><circle cx="1479.0" cy="150.2" r="3.5" fill="#7fb4f7"/><circle cx="1167.0" cy="102.4" r="3.5" fill="#f0b832"/><circle cx="1188.6" cy="131.6" r="3.5" fill="#96f6de"/><circle cx="1497.0" cy="143.5" r="3.5" fill="#7fb4f7"/><circle cx="1219.0" cy="150.9" r="3.5" fill="#7fb4f7"/><circle cx="1411.4" cy="109.0" r="3.5" fill="#96f6de"/><circle cx="1197.7" cy="131.3" r="3.5" fill="#96f6de"/><circle cx="1682.8" cy="228.8" r="3.5" fill="#7fb4f7"/><circle cx="1217.9" cy="81.0" r="3.5" fill="#f0b832"/><circle cx="1409.8" cy="173.1" r="3.5" fill="#7fb4f7"/><circle cx="1551.0" cy="180.7" r="3.5" fill="#7fb4f7"/><circle cx="1599.3" cy="147.2" r="3.5" fill="#7fb4f7"/><circle cx="1151.8" cy="128.6" r="3.5" fill="#96f6de"/><circle cx="1268.1" cy="143.5" r="3.5" fill="#96f6de"/><circle cx="1443.1" cy="161.2" r="3.5" fill="#96f6de"/><circle cx="1423.4" cy="154.8" r="3.5" fill="#96f6de"/><circle cx="1280.4" cy="285.1" r="3.5" fill="#96f6de"/><circle cx="1661.1" cy="223.8" r="3.5" fill="#7fb4f7"/><circle cx="1699.8" cy="201.4" r="3.5" fill="#7fb4f7"/><circle cx="1205.2" cy="167.3" r="3.5" fill="#96f6de"/><circle cx="1169.3" cy="147.9" r="3.5" fill="#7fb4f7"/><circle cx="1231.8" cy="168.1" r="3.5" fill="#7fb4f7"/><circle cx="1197.5" cy="89.0" r="3.5" fill="#f0b832"/><circle cx="1431.0" cy="171.7" r="3.5" fill="#7fb4f7"/><circle cx="1450.3" cy="119.0" r="3.5" fill="#96f6de"/><circle cx="1494.3" cy="90.0" r="3.5" fill="#96f6de"/><circle cx="1426.2" cy="130.4" r="3.5" fill="#7fb4f7"/><circle cx="1503.2" cy="139.7" r="3.5" fill="#7fb4f7"/><circle cx="1278.3" cy="310.5" r="3.5" fill="#7fb4f7"/><circle cx="1171.5" cy="167.4" r="3.5" fill="#7fb4f7"/><circle cx="1492.1" cy="158.3" r="3.5" fill="#7fb4f7"/><circle cx="1332.3" cy="271.2" r="3.5" fill="#7fb4f7"/><circle cx="1754.0" cy="321.2" r="3.5" fill="#96f6de"/><circle cx="1265.3" cy="131.7" r="3.5" fill="#f0b832"/><circle cx="1455.1" cy="89.1" r="3.5" fill="#96f6de"/><circle cx="1404.8" cy="167.4" r="3.5" fill="#7fb4f7"/><circle cx="1226.6" cy="114.4" r="3.5" fill="#f0b832"/><circle cx="1621.8" cy="111.8" r="3.5" fill="#f0b832"/><circle cx="1417.0" cy="127.6" r="3.5" fill="#7fb4f7"/><circle cx="1685.3" cy="94.8" r="3.5" fill="#f0b832"/><circle cx="1265.5" cy="217.5" r="3.5" fill="#96f6de"/><circle cx="1342.4" cy="269.9" r="3.5" fill="#96f6de"/><circle cx="1299.9" cy="264.0" r="3.5" fill="#7fb4f7"/><circle cx="1690.3" cy="183.4" r="3.5" fill="#7fb4f7"/><circle cx="1165.5" cy="144.7" r="3.5" fill="#7fb4f7"/><circle cx="1369.1" cy="405.8" r="3.5" fill="#96f6de"/><circle cx="1100.7" cy="99.4" r="3.5" fill="#7fb4f7"/><circle cx="1186.4" cy="157.5" r="3.5" fill="#7fb4f7"/><circle cx="1468.8" cy="146.8" r="3.5" fill="#7fb4f7"/><circle cx="1671.1" cy="198.9" r="3.5" fill="#7fb4f7"/><circle cx="1203.5" cy="146.7" r="3.5" fill="#7fb4f7"/><circle cx="1492.8" cy="135.0" r="3.5" fill="#7fb4f7"/><circle cx="1465.8" cy="110.3" r="3.5" fill="#96f6de"/><circle cx="1179.8" cy="108.5" r="3.5" fill="#f0b832"/><circle cx="1493.9" cy="82.4" r="3.5" fill="#96f6de"/><circle cx="1158.6" cy="70.9" r="3.5" fill="#f0b832"/><circle cx="1494.6" cy="123.2" r="3.5" fill="#96f6de"/><circle cx="1243.0" cy="134.1" r="3.5" fill="#7fb4f7"/><circle cx="1243.4" cy="145.2" r="3.5" fill="#96f6de"/><circle cx="1500.2" cy="139.8" r="3.5" fill="#96f6de"/><circle cx="1214.3" cy="173.5" r="3.5" fill="#7fb4f7"/><circle cx="1202.8" cy="141.4" r="3.5" fill="#7fb4f7"/><circle cx="1575.5" cy="151.0" r="3.5" fill="#96f6de"/><circle cx="1497.6" cy="76.7" r="3.5" fill="#96f6de"/><circle cx="1408.4" cy="145.4" r="3.5" fill="#96f6de"/><circle cx="1323.0" cy="279.8" r="3.5" fill="#7fb4f7"/><circle cx="1473.7" cy="108.2" r="3.5" fill="#96f6de"/><circle cx="1495.2" cy="147.5" r="3.5" fill="#7fb4f7"/><circle cx="1456.8" cy="84.0" r="3.5" fill="#7fb4f7"/><circle cx="1327.2" cy="254.5" r="3.5" fill="#7fb4f7"/><circle cx="1268.9" cy="355.2" r="3.5" fill="#96f6de"/><circle cx="1470.4" cy="312.0" r="3.5" fill="#7fb4f7"/><circle cx="1716.5" cy="157.6" r="3.5" fill="#7fb4f7"/><circle cx="1146.1" cy="118.6" r="3.5" fill="#7fb4f7"/><circle cx="1447.9" cy="94.6" r="3.5" fill="#7fb4f7"/><circle cx="1454.4" cy="116.4" r="3.5" fill="#7fb4f7"/><circle cx="1211.8" cy="176.4" r="3.5" fill="#7fb4f7"/><circle cx="1267.1" cy="127.1" r="3.5" fill="#f0b832"/><circle cx="1196.1" cy="125.0" r="3.5" fill="#f0b832"/><circle cx="1082.4" cy="86.8" r="3.5" fill="#96f6de"/><circle cx="1204.4" cy="104.7" r="3.5" fill="#f0b832"/><circle cx="1045.6" cy="106.9" r="3.5" fill="#96f6de"/><circle cx="1439.7" cy="181.4" r="3.5" fill="#96f6de"/><circle cx="1497.3" cy="157.9" r="3.5" fill="#7fb4f7"/><circle cx="1322.6" cy="294.1" r="3.5" fill="#7fb4f7"/><circle cx="1313.5" cy="270.7" r="3.5" fill="#7fb4f7"/><circle cx="1488.1" cy="113.8" r="3.5" fill="#96f6de"/><circle cx="1407.9" cy="172.8" r="3.5" fill="#96f6de"/><circle cx="1495.5" cy="138.6" r="3.5" fill="#96f6de"/><circle cx="1182.6" cy="167.7" r="3.5" fill="#96f6de"/><circle cx="1161.5" cy="124.4" r="3.5" fill="#7fb4f7"/><circle cx="1289.9" cy="261.9" r="3.5" fill="#7fb4f7"/><circle cx="1134.1" cy="97.8" r="3.5" fill="#f0b832"/><circle cx="1201.3" cy="118.5" r="3.5" fill="#f0b832"/><circle cx="1248.6" cy="133.9" r="3.5" fill="#96f6de"/><circle cx="1502.8" cy="241.5" r="3.5" fill="#7fb4f7"/><circle cx="1197.8" cy="168.2" r="3.5" fill="#7fb4f7"/><circle cx="1192.9" cy="144.3" r="3.5" fill="#7fb4f7"/><circle cx="1135.4" cy="104.9" r="3.5" fill="#f0b832"/><circle cx="1343.1" cy="265.2" r="3.5" fill="#7fb4f7"/><circle cx="1251.1" cy="134.9" r="3.5" fill="#96f6de"/><circle cx="1293.6" cy="128.6" r="3.5" fill="#f0b832"/><circle cx="1152.6" cy="154.5" r="3.5" fill="#7fb4f7"/><circle cx="1520.9" cy="142.0" r="3.5" fill="#96f6de"/><circle cx="1656.6" cy="207.6" r="3.5" fill="#7fb4f7"/><circle cx="1193.6" cy="141.6" r="3.5" fill="#7fb4f7"/><circle cx="1327.7" cy="246.4" r="3.5" fill="#7fb4f7"/><circle cx="1427.2" cy="139.1" r="3.5" fill="#7fb4f7"/><circle cx="1519.5" cy="187.3" r="3.5" fill="#7fb4f7"/><circle cx="1282.8" cy="295.9" r="3.5" fill="#96f6de"/><circle cx="1424.8" cy="123.8" r="3.5" fill="#96f6de"/><circle cx="1459.7" cy="155.7" r="3.5" fill="#7fb4f7"/><circle cx="1521.3" cy="151.7" r="3.5" fill="#7fb4f7"/><circle cx="1435.1" cy="169.0" r="3.5" fill="#7fb4f7"/><circle cx="1331.4" cy="289.4" r="3.5" fill="#7fb4f7"/><circle cx="1405.5" cy="142.0" r="3.5" fill="#7fb4f7"/><circle cx="1305.7" cy="274.9" r="3.5" fill="#7fb4f7"/><circle cx="1484.9" cy="131.7" r="3.5" fill="#7fb4f7"/><circle cx="1055.2" cy="91.4" r="3.5" fill="#f0b832"/><circle cx="1430.2" cy="144.8" r="3.5" fill="#7fb4f7"/><circle cx="1185.1" cy="170.4" r="3.5" fill="#7fb4f7"/><circle cx="1421.4" cy="140.0" r="3.5" fill="#96f6de"/><circle cx="1334.3" cy="285.3" r="3.5" fill="#96f6de"/><circle cx="1716.5" cy="271.1" r="3.5" fill="#96f6de"/><circle cx="1507.9" cy="138.7" r="3.5" fill="#7fb4f7"/><circle cx="1240.5" cy="153.0" r="3.5" fill="#7fb4f7"/><circle cx="1560.0" cy="158.8" r="3.5" fill="#96f6de"/><circle cx="1450.4" cy="127.3" r="3.5" fill="#96f6de"/><circle cx="1435.8" cy="113.1" r="3.5" fill="#96f6de"/><circle cx="1492.8" cy="306.7" r="3.5" fill="#7fb4f7"/><circle cx="1723.9" cy="160.1" r="3.5" fill="#7fb4f7"/><circle cx="1318.6" cy="271.1" r="3.5" fill="#96f6de"/><circle cx="1293.8" cy="312.7" r="3.5" fill="#7fb4f7"/><circle cx="1309.2" cy="75.4" r="3.5" fill="#96f6de"/><circle cx="1061.1" cy="83.6" r="3.5" fill="#7fb4f7"/><circle cx="1470.7" cy="67.9" r="3.5" fill="#96f6de"/><circle cx="1264.0" cy="135.1" r="3.5" fill="#96f6de"/><circle cx="1241.2" cy="128.3" r="3.5" fill="#f0b832"/><circle cx="1191.8" cy="134.9" r="3.5" fill="#96f6de"/><circle cx="1754.8" cy="139.0" r="3.5" fill="#7fb4f7"/><circle cx="1416.3" cy="130.0" r="3.5" fill="#7fb4f7"/><circle cx="1739.8" cy="156.9" r="3.5" fill="#7fb4f7"/><circle cx="1527.8" cy="130.5" r="3.5" fill="#7fb4f7"/><circle cx="1511.5" cy="244.0" r="3.5" fill="#7fb4f7"/><circle cx="1452.2" cy="106.5" r="3.5" fill="#96f6de"/><circle cx="1484.7" cy="82.0" r="3.5" fill="#96f6de"/><circle cx="1189.1" cy="136.4" r="3.5" fill="#7fb4f7"/><circle cx="1309.7" cy="279.0" r="3.5" fill="#7fb4f7"/><circle cx="1521.3" cy="173.0" r="3.5" fill="#7fb4f7"/><circle cx="1161.6" cy="105.7" r="3.5" fill="#f0b832"/><circle cx="1485.2" cy="103.8" r="3.5" fill="#96f6de"/><circle cx="1296.6" cy="312.8" r="3.5" fill="#7fb4f7"/><circle cx="1238.4" cy="137.4" r="3.5" fill="#f0b832"/><circle cx="1254.6" cy="137.1" r="3.5" fill="#96f6de"/><circle cx="1191.8" cy="106.8" r="3.5" fill="#f0b832"/><circle cx="1413.5" cy="159.4" r="3.5" fill="#7fb4f7"/><circle cx="1486.1" cy="295.0" r="3.5" fill="#7fb4f7"/><circle cx="1338.0" cy="285.5" r="3.5" fill="#96f6de"/><circle cx="1482.3" cy="111.6" r="3.5" fill="#7fb4f7"/><circle cx="1444.6" cy="142.9" r="3.5" fill="#7fb4f7"/><circle cx="1463.5" cy="111.5" r="3.5" fill="#96f6de"/><circle cx="1159.8" cy="121.9" r="3.5" fill="#7fb4f7"/><circle cx="1757.1" cy="295.4" r="3.5" fill="#7fb4f7"/><circle cx="1217.9" cy="120.7" r="3.5" fill="#f0b832"/><circle cx="1286.8" cy="327.8" r="3.5" fill="#7fb4f7"/><circle cx="1738.8" cy="302.9" r="3.5" fill="#7fb4f7"/><circle cx="1343.3" cy="252.6" r="3.5" fill="#7fb4f7"/><circle cx="1565.7" cy="152.8" r="3.5" fill="#7fb4f7"/><circle cx="1346.0" cy="248.0" r="3.5" fill="#96f6de"/><circle cx="1442.9" cy="155.6" r="3.5" fill="#7fb4f7"/><circle cx="1601.8" cy="171.5" r="3.5" fill="#7fb4f7"/><circle cx="1742.6" cy="156.4" r="3.5" fill="#7fb4f7"/><circle cx="1241.4" cy="149.7" r="3.5" fill="#7fb4f7"/><circle cx="1745.3" cy="137.5" r="3.5" fill="#96f6de"/><circle cx="1156.6" cy="121.1" r="3.5" fill="#96f6de"/><circle cx="1699.4" cy="168.9" r="3.5" fill="#7fb4f7"/><circle cx="1329.2" cy="264.2" r="3.5" fill="#7fb4f7"/><circle cx="1523.6" cy="149.7" r="3.5" fill="#7fb4f7"/><circle cx="1281.5" cy="123.6" r="3.5" fill="#7fb4f7"/><circle cx="1246.8" cy="177.6" r="3.5" fill="#7fb4f7"/><circle cx="1212.6" cy="117.3" r="3.5" fill="#f0b832"/><circle cx="1155.5" cy="101.2" r="3.5" fill="#7fb4f7"/><circle cx="1172.7" cy="134.1" r="3.5" fill="#7fb4f7"/><circle cx="1075.7" cy="75.2" r="3.5" fill="#f0b832"/><circle cx="1742.1" cy="157.3" r="3.5" fill="#7fb4f7"/><circle cx="1493.8" cy="96.8" r="3.5" fill="#96f6de"/><circle cx="1185.3" cy="163.5" r="3.5" fill="#7fb4f7"/><circle cx="1160.8" cy="102.6" r="3.5" fill="#f0b832"/><circle cx="1164.4" cy="160.1" r="3.5" fill="#96f6de"/><circle cx="1236.5" cy="140.6" r="3.5" fill="#7fb4f7"/><circle cx="1584.4" cy="142.7" r="3.5" fill="#96f6de"/><circle cx="1425.4" cy="99.8" r="3.5" fill="#7fb4f7"/><circle cx="1466.9" cy="137.2" r="3.5" fill="#7fb4f7"/><circle cx="1178.7" cy="171.3" r="3.5" fill="#7fb4f7"/><circle cx="1153.9" cy="113.5" r="3.5" fill="#96f6de"/><circle cx="1472.5" cy="89.9" r="3.5" fill="#96f6de"/><circle cx="1469.1" cy="78.2" r="3.5" fill="#96f6de"/><circle cx="1390.9" cy="200.1" r="3.5" fill="#96f6de"/><circle cx="1743.0" cy="149.4" r="3.5" fill="#96f6de"/><circle cx="1200.3" cy="130.8" r="3.5" fill="#f0b832"/><circle cx="1636.7" cy="109.0" r="3.5" fill="#f0b832"/><circle cx="1161.4" cy="109.4" r="3.5" fill="#f0b832"/><circle cx="1195.0" cy="183.8" r="3.5" fill="#7fb4f7"/><circle cx="1427.4" cy="164.9" r="3.5" fill="#96f6de"/><circle cx="1418.1" cy="210.5" r="3.5" fill="#7fb4f7"/><circle cx="1464.1" cy="278.8" r="3.5" fill="#7fb4f7"/><circle cx="1477.7" cy="146.7" r="3.5" fill="#7fb4f7"/><circle cx="1141.0" cy="101.1" r="3.5" fill="#f0b832"/><circle cx="1561.0" cy="115.5" r="3.5" fill="#f0b832"/><circle cx="1169.3" cy="153.0" r="3.5" fill="#7fb4f7"/><circle cx="1298.0" cy="308.3" r="3.5" fill="#7fb4f7"/><circle cx="1153.2" cy="79.7" r="3.5" fill="#f0b832"/><circle cx="1287.2" cy="324.1" r="3.5" fill="#7fb4f7"/><circle cx="1249.1" cy="155.3" r="3.5" fill="#7fb4f7"/><circle cx="1301.8" cy="120.3" r="3.5" fill="#f0b832"/><circle cx="1253.1" cy="72.0" r="3.5" fill="#96f6de"/><circle cx="1223.3" cy="110.9" r="3.5" fill="#f0b832"/><circle cx="1596.8" cy="164.6" r="3.5" fill="#7fb4f7"/><circle cx="1167.8" cy="99.1" r="3.5" fill="#f0b832"/><circle cx="1448.0" cy="175.6" r="3.5" fill="#7fb4f7"/><circle cx="1085.6" cy="92.4" r="3.5" fill="#f0b832"/><circle cx="1315.8" cy="273.2" r="3.5" fill="#96f6de"/><circle cx="1485.2" cy="140.0" r="3.5" fill="#96f6de"/><circle cx="1691.5" cy="153.9" r="3.5" fill="#7fb4f7"/><circle cx="1474.6" cy="149.1" r="3.5" fill="#96f6de"/><circle cx="1241.9" cy="175.1" r="3.5" fill="#96f6de"/><circle cx="1311.0" cy="253.1" r="3.5" fill="#7fb4f7"/><circle cx="1439.9" cy="167.4" r="3.5" fill="#96f6de"/><circle cx="1518.3" cy="158.1" r="3.5" fill="#96f6de"/><circle cx="1785.2" cy="116.0" r="3.5" fill="#f0b832"/><circle cx="1226.4" cy="126.8" r="3.5" fill="#f0b832"/><circle cx="1504.0" cy="271.9" r="3.5" fill="#7fb4f7"/><circle cx="1181.4" cy="105.6" r="3.5" fill="#7fb4f7"/><circle cx="1180.2" cy="135.2" r="3.5" fill="#7fb4f7"/><circle cx="1223.3" cy="138.6" r="3.5" fill="#96f6de"/><circle cx="1148.0" cy="144.9" r="3.5" fill="#7fb4f7"/><circle cx="1316.0" cy="287.4" r="3.5" fill="#7fb4f7"/><circle cx="1163.3" cy="76.5" r="3.5" fill="#f0b832"/><circle cx="1279.2" cy="275.1" r="3.5" fill="#7fb4f7"/><circle cx="1758.1" cy="313.7" r="3.5" fill="#7fb4f7"/><circle cx="1730.9" cy="219.3" r="3.5" fill="#96f6de"/><circle cx="1510.6" cy="153.7" r="3.5" fill="#96f6de"/><circle cx="1499.0" cy="290.8" r="3.5" fill="#7fb4f7"/><circle cx="1203.1" cy="125.3" r="3.5" fill="#f0b832"/><circle cx="1518.7" cy="180.1" r="3.5" fill="#7fb4f7"/><circle cx="1543.2" cy="162.7" r="3.5" fill="#96f6de"/><circle cx="1427.8" cy="108.6" r="3.5" fill="#96f6de"/><circle cx="1213.3" cy="108.6" r="3.5" fill="#f0b832"/><circle cx="1262.1" cy="114.6" r="3.5" fill="#96f6de"/><circle cx="1443.2" cy="102.7" r="3.5" fill="#96f6de"/><circle cx="1187.6" cy="127.6" r="3.5" fill="#f0b832"/><circle cx="1254.8" cy="263.1" r="3.5" fill="#7fb4f7"/><circle cx="1685.3" cy="157.6" r="3.5" fill="#96f6de"/><circle cx="1576.0" cy="134.6" r="3.5" fill="#96f6de"/><circle cx="1254.7" cy="125.7" r="3.5" fill="#f0b832"/><circle cx="1313.4" cy="300.9" r="3.5" fill="#7fb4f7"/><circle cx="1214.0" cy="114.3" r="3.5" fill="#7fb4f7"/><circle cx="1158.0" cy="138.3" r="3.5" fill="#96f6de"/><circle cx="1326.1" cy="260.2" r="3.5" fill="#7fb4f7"/><circle cx="1192.0" cy="110.9" r="3.5" fill="#f0b832"/><circle cx="1318.8" cy="289.9" r="3.5" fill="#7fb4f7"/><circle cx="1182.1" cy="117.3" r="3.5" fill="#f0b832"/><circle cx="1280.5" cy="314.9" r="3.5" fill="#7fb4f7"/><circle cx="1500.7" cy="137.3" r="3.5" fill="#7fb4f7"/><circle cx="1706.5" cy="273.6" r="3.5" fill="#7fb4f7"/><circle cx="1320.8" cy="255.4" r="3.5" fill="#96f6de"/><circle cx="1268.0" cy="81.7" r="3.5" fill="#96f6de"/><circle cx="1215.0" cy="131.7" r="3.5" fill="#96f6de"/><circle cx="1157.8" cy="154.9" r="3.5" fill="#7fb4f7"/><circle cx="1229.4" cy="127.7" r="3.5" fill="#f0b832"/><circle cx="1692.8" cy="163.9" r="3.5" fill="#7fb4f7"/><circle cx="1550.3" cy="164.0" r="3.5" fill="#7fb4f7"/><circle cx="1317.7" cy="258.6" r="3.5" fill="#7fb4f7"/><circle cx="1554.4" cy="112.2" r="3.5" fill="#f0b832"/><circle cx="1285.2" cy="295.4" r="3.5" fill="#7fb4f7"/><circle cx="1562.7" cy="140.5" r="3.5" fill="#96f6de"/><circle cx="1417.9" cy="135.5" r="3.5" fill="#7fb4f7"/><circle cx="1324.4" cy="284.3" r="3.5" fill="#96f6de"/><circle cx="1160.6" cy="77.1" r="3.5" fill="#f0b832"/><circle cx="1351.5" cy="253.1" r="3.5" fill="#96f6de"/><circle cx="1516.5" cy="250.2" r="3.5" fill="#96f6de"/><circle cx="1412.6" cy="131.8" r="3.5" fill="#7fb4f7"/><circle cx="1662.9" cy="212.6" r="3.5" fill="#96f6de"/><circle cx="1233.8" cy="122.2" r="3.5" fill="#f0b832"/><circle cx="1222.4" cy="117.5" r="3.5" fill="#f0b832"/><circle cx="1092.7" cy="91.4" r="3.5" fill="#7fb4f7"/><circle cx="1208.5" cy="164.3" r="3.5" fill="#7fb4f7"/><circle cx="1284.4" cy="307.2" r="3.5" fill="#7fb4f7"/><circle cx="1215.7" cy="117.0" r="3.5" fill="#f0b832"/><circle cx="1413.2" cy="120.0" r="3.5" fill="#96f6de"/><circle cx="1157.2" cy="108.0" r="3.5" fill="#96f6de"/><circle cx="1121.8" cy="84.9" r="3.5" fill="#96f6de"/><circle cx="1165.4" cy="105.5" r="3.5" fill="#f0b832"/><circle cx="1493.9" cy="115.4" r="3.5" fill="#96f6de"/><circle cx="1447.8" cy="147.1" r="3.5" fill="#7fb4f7"/><circle cx="1746.4" cy="137.7" r="3.5" fill="#96f6de"/><circle cx="1260.5" cy="254.4" r="3.5" fill="#7fb4f7"/><circle cx="1178.3" cy="141.4" r="3.5" fill="#96f6de"/><circle cx="1609.3" cy="206.4" r="3.5" fill="#7fb4f7"/><circle cx="1190.4" cy="141.5" r="3.5" fill="#96f6de"/><circle cx="1171.3" cy="125.7" r="3.5" fill="#96f6de"/><circle cx="1232.1" cy="130.4" r="3.5" fill="#f0b832"/><circle cx="1462.9" cy="121.4" r="3.5" fill="#96f6de"/><circle cx="1466.2" cy="145.9" r="3.5" fill="#7fb4f7"/><circle cx="1596.8" cy="206.4" r="3.5" fill="#7fb4f7"/><circle cx="1257.2" cy="119.0" r="3.5" fill="#f0b832"/><circle cx="1233.7" cy="147.0" r="3.5" fill="#7fb4f7"/><circle cx="1716.4" cy="305.0" r="3.5" fill="#7fb4f7"/><circle cx="1219.3" cy="118.3" r="3.5" fill="#7fb4f7"/><circle cx="1559.4" cy="183.1" r="3.5" fill="#7fb4f7"/><circle cx="1733.9" cy="160.1" r="3.5" fill="#7fb4f7"/><circle cx="1238.0" cy="150.7" r="3.5" fill="#7fb4f7"/><circle cx="1255.2" cy="128.4" r="3.5" fill="#7fb4f7"/><circle cx="1160.8" cy="142.0" r="3.5" fill="#7fb4f7"/><circle cx="1505.4" cy="96.9" r="3.5" fill="#96f6de"/><circle cx="1325.7" cy="243.3" r="3.5" fill="#7fb4f7"/><circle cx="1235.8" cy="118.4" r="3.5" fill="#f0b832"/><circle cx="1050.3" cy="88.1" r="3.5" fill="#7fb4f7"/><circle cx="1298.1" cy="266.6" r="3.5" fill="#7fb4f7"/><circle cx="1266.7" cy="266.4" r="3.5" fill="#7fb4f7"/><circle cx="1469.1" cy="295.0" r="3.5" fill="#7fb4f7"/><circle cx="1759.7" cy="328.7" r="3.5" fill="#96f6de"/><circle cx="1305.4" cy="241.0" r="3.5" fill="#96f6de"/><circle cx="1410.1" cy="111.9" r="3.5" fill="#96f6de"/><circle cx="1273.9" cy="137.9" r="3.5" fill="#96f6de"/><circle cx="1248.8" cy="250.9" r="3.5" fill="#7fb4f7"/><circle cx="1462.5" cy="143.8" r="3.5" fill="#7fb4f7"/><circle cx="1192.2" cy="116.6" r="3.5" fill="#7fb4f7"/><circle cx="1417.4" cy="146.7" r="3.5" fill="#7fb4f7"/><circle cx="1222.8" cy="121.1" r="3.5" fill="#f0b832"/><circle cx="1527.8" cy="149.1" r="3.5" fill="#7fb4f7"/><circle cx="1322.3" cy="259.4" r="3.5" fill="#7fb4f7"/><circle cx="1530.3" cy="196.9" r="3.5" fill="#96f6de"/><circle cx="1406.4" cy="167.8" r="3.5" fill="#96f6de"/><circle cx="1267.0" cy="134.5" r="3.5" fill="#96f6de"/><circle cx="1468.2" cy="132.2" r="3.5" fill="#96f6de"/><circle cx="1506.3" cy="132.6" r="3.5" fill="#7fb4f7"/><circle cx="1745.1" cy="142.7" r="3.5" fill="#96f6de"/><circle cx="1386.5" cy="90.9" r="3.5" fill="#7fb4f7"/><circle cx="1169.4" cy="142.1" r="3.5" fill="#7fb4f7"/><circle cx="1414.5" cy="116.7" r="3.5" fill="#96f6de"/><circle cx="1506.1" cy="146.2" r="3.5" fill="#7fb4f7"/><circle cx="1802.7" cy="285.3" r="3.5" fill="#7fb4f7"/><circle cx="1311.7" cy="91.6" r="3.5" fill="#96f6de"/><circle cx="1451.6" cy="114.9" r="3.5" fill="#96f6de"/><circle cx="1206.9" cy="104.5" r="3.5" fill="#f0b832"/><circle cx="1441.6" cy="128.8" r="3.5" fill="#96f6de"/><circle cx="1573.9" cy="156.3" r="3.5" fill="#7fb4f7"/><circle cx="1716.5" cy="176.5" r="3.5" fill="#7fb4f7"/><circle cx="1333.6" cy="259.4" r="3.5" fill="#96f6de"/><circle cx="1073.3" cy="84.9" r="3.5" fill="#7fb4f7"/><circle cx="1434.7" cy="131.5" r="3.5" fill="#96f6de"/><circle cx="1299.3" cy="278.8" r="3.5" fill="#7fb4f7"/><circle cx="1294.1" cy="303.5" r="3.5" fill="#7fb4f7"/><circle cx="1672.8" cy="157.6" r="3.5" fill="#7fb4f7"/><circle cx="1714.0" cy="151.4" r="3.5" fill="#7fb4f7"/><circle cx="1492.0" cy="108.3" r="3.5" fill="#7fb4f7"/><circle cx="1216.0" cy="138.1" r="3.5" fill="#96f6de"/><circle cx="1220.0" cy="169.9" r="3.5" fill="#7fb4f7"/><circle cx="1326.5" cy="274.9" r="3.5" fill="#96f6de"/><circle cx="1490.3" cy="82.0" r="3.5" fill="#96f6de"/><circle cx="1469.1" cy="291.3" r="3.5" fill="#96f6de"/><circle cx="1557.1" cy="151.1" r="3.5" fill="#7fb4f7"/><circle cx="1315.2" cy="277.9" r="3.5" fill="#96f6de"/><circle cx="1500.6" cy="178.8" r="3.5" fill="#7fb4f7"/><circle cx="1615.5" cy="179.0" r="3.5" fill="#96f6de"/><circle cx="1430.1" cy="117.3" r="3.5" fill="#96f6de"/><circle cx="1472.2" cy="128.3" r="3.5" fill="#7fb4f7"/><circle cx="1480.0" cy="93.4" r="3.5" fill="#96f6de"/><circle cx="1277.6" cy="112.0" r="3.5" fill="#7fb4f7"/><circle cx="1404.2" cy="145.6" r="3.5" fill="#7fb4f7"/><circle cx="1345.4" cy="261.1" r="3.5" fill="#7fb4f7"/><circle cx="1308.2" cy="286.1" r="3.5" fill="#7fb4f7"/><circle cx="1298.0" cy="125.2" r="3.5" fill="#f0b832"/><circle cx="1171.0" cy="150.8" r="3.5" fill="#7fb4f7"/><circle cx="1077.9" cy="93.9" r="3.5" fill="#7fb4f7"/><circle cx="1522.8" cy="137.1" r="3.5" fill="#96f6de"/><circle cx="1509.6" cy="163.3" r="3.5" fill="#96f6de"/><circle cx="1336.6" cy="267.1" r="3.5" fill="#7fb4f7"/><circle cx="1493.2" cy="58.0" r="3.5" fill="#7fb4f7"/><circle cx="1164.7" cy="114.2" r="3.5" fill="#f0b832"/><circle cx="1174.3" cy="111.9" r="3.5" fill="#f0b832"/><circle cx="1158.6" cy="64.2" r="3.5" fill="#f0b832"/><circle cx="1249.7" cy="125.6" r="3.5" fill="#96f6de"/><circle cx="1068.2" cy="86.2" r="3.5" fill="#f0b832"/><circle cx="1465.2" cy="104.5" r="3.5" fill="#96f6de"/><circle cx="1720.2" cy="171.5" r="3.5" fill="#7fb4f7"/><circle cx="1190.8" cy="154.2" r="3.5" fill="#96f6de"/><circle cx="1302.8" cy="290.3" r="3.5" fill="#7fb4f7"/><circle cx="1407.6" cy="104.7" r="3.5" fill="#96f6de"/><circle cx="1266.9" cy="310.4" r="3.5" fill="#7fb4f7"/><circle cx="1714.0" cy="156.5" r="3.5" fill="#96f6de"/><circle cx="1274.4" cy="77.1" r="3.5" fill="#f0b832"/><circle cx="1192.0" cy="188.8" r="3.5" fill="#7fb4f7"/><circle cx="1747.6" cy="264.2" r="3.5" fill="#7fb4f7"/><circle cx="1184.0" cy="101.7" r="3.5" fill="#f0b832"/><circle cx="1148.2" cy="137.9" r="3.5" fill="#96f6de"/><circle cx="1305.1" cy="260.6" r="3.5" fill="#7fb4f7"/><circle cx="1332.9" cy="255.2" r="3.5" fill="#7fb4f7"/><circle cx="1654.7" cy="203.9" r="3.5" fill="#7fb4f7"/><circle cx="1224.2" cy="130.2" r="3.5" fill="#f0b832"/><circle cx="1296.4" cy="123.4" r="3.5" fill="#f0b832"/><circle cx="1200.4" cy="150.8" r="3.5" fill="#7fb4f7"/><circle cx="1511.0" cy="275.9" r="3.5" fill="#7fb4f7"/><circle cx="1207.9" cy="138.8" r="3.5" fill="#96f6de"/><circle cx="1499.2" cy="185.6" r="3.5" fill="#7fb4f7"/><circle cx="1412.8" cy="166.5" r="3.5" fill="#7fb4f7"/><circle cx="1148.3" cy="148.4" r="3.5" fill="#7fb4f7"/><circle cx="1096.0" cy="88.8" r="3.5" fill="#f0b832"/><circle cx="1744.6" cy="141.8" r="3.5" fill="#7fb4f7"/><circle cx="1462.2" cy="208.0" r="3.5" fill="#7fb4f7"/><circle cx="1601.8" cy="205.1" r="3.5" fill="#7fb4f7"/><circle cx="1275.1" cy="346.5" r="3.5" fill="#7fb4f7"/><circle cx="1686.0" cy="300.3" r="3.5" fill="#7fb4f7"/><circle cx="1399.9" cy="204.7" r="3.5" fill="#96f6de"/><circle cx="1262.1" cy="97.8" r="3.5" fill="#96f6de"/><circle cx="1699.0" cy="183.9" r="3.5" fill="#7fb4f7"/><circle cx="1447.2" cy="155.1" r="3.5" fill="#7fb4f7"/><circle cx="1425.1" cy="159.7" r="3.5" fill="#7fb4f7"/><circle cx="1213.2" cy="120.2" r="3.5" fill="#f0b832"/><circle cx="1450.2" cy="103.5" r="3.5" fill="#96f6de"/><circle cx="1219.1" cy="158.3" r="3.5" fill="#7fb4f7"/><circle cx="1302.2" cy="267.7" r="3.5" fill="#96f6de"/><circle cx="1325.1" cy="270.3" r="3.5" fill="#96f6de"/><circle cx="1326.7" cy="98.3" r="3.5" fill="#96f6de"/><circle cx="1542.9" cy="152.4" r="3.5" fill="#96f6de"/><circle cx="1431.4" cy="131.7" r="3.5" fill="#96f6de"/><circle cx="1677.1" cy="190.9" r="3.5" fill="#7fb4f7"/><circle cx="1185.6" cy="112.3" r="3.5" fill="#96f6de"/><circle cx="1263.0" cy="244.5" r="3.5" fill="#96f6de"/><circle cx="1497.7" cy="121.4" r="3.5" fill="#7fb4f7"/><circle cx="1199.0" cy="134.0" r="3.5" fill="#f0b832"/><circle cx="1189.2" cy="152.0" r="3.5" fill="#7fb4f7"/><circle cx="1251.0" cy="129.9" r="3.5" fill="#f0b832"/><circle cx="1294.3" cy="131.5" r="3.5" fill="#7fb4f7"/><circle cx="1311.8" cy="257.6" r="3.5" fill="#7fb4f7"/><circle cx="1291.8" cy="119.0" r="3.5" fill="#f0b832"/><circle cx="1273.8" cy="64.2" r="3.5" fill="#96f6de"/><circle cx="1296.8" cy="352.0" r="3.5" fill="#7fb4f7"/><circle cx="1269.4" cy="130.6" r="3.5" fill="#7fb4f7"/><circle cx="1421.3" cy="127.0" r="3.5" fill="#96f6de"/><circle cx="1703.2" cy="276.1" r="3.5" fill="#7fb4f7"/><circle cx="1686.6" cy="163.9" r="3.5" fill="#7fb4f7"/><circle cx="1695.1" cy="281.6" r="3.5" fill="#7fb4f7"/><circle cx="1274.7" cy="286.2" r="3.5" fill="#7fb4f7"/><circle cx="1566.9" cy="150.2" r="3.5" fill="#7fb4f7"/><circle cx="1270.7" cy="141.1" r="3.5" fill="#96f6de"/><circle cx="1752.1" cy="145.1" r="3.5" fill="#96f6de"/><circle cx="1178.8" cy="124.7" r="3.5" fill="#f0b832"/><circle cx="1174.3" cy="131.9" r="3.5" fill="#7fb4f7"/><circle cx="1253.1" cy="105.6" r="3.5" fill="#7fb4f7"/><circle cx="1085.0" cy="106.9" r="3.5" fill="#7fb4f7"/><circle cx="1088.8" cy="86.2" r="3.5" fill="#f0b832"/><circle cx="1308.2" cy="273.3" r="3.5" fill="#7fb4f7"/><circle cx="1204.3" cy="170.7" r="3.5" fill="#7fb4f7"/><circle cx="1035.9" cy="118.2" r="3.5" fill="#96f6de"/><circle cx="1210.7" cy="120.3" r="3.5" fill="#f0b832"/><circle cx="1467.8" cy="124.7" r="3.5" fill="#96f6de"/><circle cx="1194.7" cy="115.2" r="3.5" fill="#f0b832"/><circle cx="1166.6" cy="163.8" r="3.5" fill="#7fb4f7"/><circle cx="1668.6" cy="211.8" r="3.5" fill="#7fb4f7"/><circle cx="1313.7" cy="246.7" r="3.5" fill="#7fb4f7"/><circle cx="1765.2" cy="320.6" r="3.5" fill="#7fb4f7"/><circle cx="1615.0" cy="195.9" r="3.5" fill="#96f6de"/><circle cx="1155.2" cy="111.3" r="3.5" fill="#f0b832"/><circle cx="1256.8" cy="189.3" r="3.5" fill="#7fb4f7"/><circle cx="1287.5" cy="314.7" r="3.5" fill="#7fb4f7"/><circle cx="1161.6" cy="158.0" r="3.5" fill="#7fb4f7"/><circle cx="1422.2" cy="146.8" r="3.5" fill="#7fb4f7"/><circle cx="1255.3" cy="154.1" r="3.5" fill="#7fb4f7"/><circle cx="1158.1" cy="124.5" r="3.5" fill="#96f6de"/><circle cx="1526.1" cy="108.9" r="3.5" fill="#7fb4f7"/><circle cx="1703.6" cy="284.7" r="3.5" fill="#96f6de"/><circle cx="1422.7" cy="133.6" r="3.5" fill="#96f6de"/><circle cx="1731.3" cy="300.9" r="3.5" fill="#7fb4f7"/><circle cx="1473.6" cy="101.2" r="3.5" fill="#96f6de"/><circle cx="1554.2" cy="175.6" r="3.5" fill="#7fb4f7"/><circle cx="1253.7" cy="115.3" r="3.5" fill="#7fb4f7"/><circle cx="1263.7" cy="120.3" r="3.5" fill="#96f6de"/><circle cx="1469.1" cy="100.4" r="3.5" fill="#96f6de"/><circle cx="1261.9" cy="330.3" r="3.5" fill="#7fb4f7"/><circle cx="1216.3" cy="73.9" r="3.5" fill="#f0b832"/><circle cx="1215.6" cy="124.8" r="3.5" fill="#7fb4f7"/><circle cx="1212.4" cy="90.7" r="3.5" fill="#7fb4f7"/><circle cx="1446.0" cy="131.2" r="3.5" fill="#7fb4f7"/><circle cx="1308.5" cy="293.0" r="3.5" fill="#7fb4f7"/><circle cx="1481.5" cy="115.2" r="3.5" fill="#96f6de"/><circle cx="1613.5" cy="123.2" r="3.5" fill="#f0b832"/><circle cx="1349.3" cy="247.8" r="3.5" fill="#7fb4f7"/><circle cx="1441.6" cy="120.0" r="3.5" fill="#96f6de"/><circle cx="1460.4" cy="104.4" r="3.5" fill="#96f6de"/><circle cx="1525.8" cy="168.5" r="3.5" fill="#7fb4f7"/><circle cx="1463.2" cy="125.2" r="3.5" fill="#96f6de"/><circle cx="1145.7" cy="115.9" r="3.5" fill="#96f6de"/><circle cx="1252.2" cy="142.1" r="3.5" fill="#7fb4f7"/><circle cx="1497.3" cy="124.5" r="3.5" fill="#96f6de"/><circle cx="1329.9" cy="253.0" r="3.5" fill="#96f6de"/><circle cx="1479.0" cy="105.7" r="3.5" fill="#96f6de"/><circle cx="1148.7" cy="140.7" r="3.5" fill="#96f6de"/><circle cx="1411.5" cy="145.1" r="3.5" fill="#7fb4f7"/><circle cx="1276.3" cy="118.9" r="3.5" fill="#96f6de"/><circle cx="1269.2" cy="253.4" r="3.5" fill="#7fb4f7"/><circle cx="1469.6" cy="225.5" r="3.5" fill="#96f6de"/><circle cx="1519.6" cy="149.1" r="3.5" fill="#96f6de"/><circle cx="1164.5" cy="101.7" r="3.5" fill="#f0b832"/><circle cx="1284.0" cy="118.7" r="3.5" fill="#7fb4f7"/><circle cx="1489.2" cy="120.2" r="3.5" fill="#7fb4f7"/><circle cx="1324.2" cy="273.6" r="3.5" fill="#7fb4f7"/><circle cx="1146.2" cy="111.0" r="3.5" fill="#f0b832"/><circle cx="1463.0" cy="149.1" r="3.5" fill="#7fb4f7"/><circle cx="1189.8" cy="102.3" r="3.5" fill="#7fb4f7"/><circle cx="1411.4" cy="95.8" r="3.5" fill="#96f6de"/><circle cx="1197.0" cy="190.1" r="3.5" fill="#7fb4f7"/><circle cx="1515.1" cy="154.5" r="3.5" fill="#96f6de"/><circle cx="1475.8" cy="133.7" r="3.5" fill="#7fb4f7"/><circle cx="1491.8" cy="114.3" r="3.5" fill="#96f6de"/><circle cx="1326.5" cy="291.5" r="3.5" fill="#7fb4f7"/><circle cx="1188.3" cy="123.7" r="3.5" fill="#f0b832"/><circle cx="1172.0" cy="146.9" r="3.5" fill="#7fb4f7"/><circle cx="1502.8" cy="155.0" r="3.5" fill="#7fb4f7"/><circle cx="1185.3" cy="118.3" r="3.5" fill="#f0b832"/><circle cx="1491.8" cy="103.3" r="3.5" fill="#7fb4f7"/><circle cx="1831.2" cy="276.5" r="3.5" fill="#96f6de"/><circle cx="1737.8" cy="310.0" r="3.5" fill="#7fb4f7"/><circle cx="1196.5" cy="118.3" r="3.5" fill="#96f6de"/><circle cx="1524.7" cy="147.0" r="3.5" fill="#96f6de"/><circle cx="1153.0" cy="101.6" r="3.5" fill="#f0b832"/><circle cx="1488.9" cy="139.9" r="3.5" fill="#96f6de"/><circle cx="1238.9" cy="129.9" r="3.5" fill="#f0b832"/><circle cx="1174.6" cy="126.4" r="3.5" fill="#f0b832"/><circle cx="1285.7" cy="310.1" r="3.5" fill="#7fb4f7"/><circle cx="1504.8" cy="155.2" r="3.5" fill="#7fb4f7"/><circle cx="1440.9" cy="100.3" r="3.5" fill="#96f6de"/><circle cx="1316.1" cy="301.7" r="3.5" fill="#7fb4f7"/><circle cx="1179.4" cy="154.8" r="3.5" fill="#7fb4f7"/><circle cx="1161.1" cy="127.2" r="3.5" fill="#7fb4f7"/><circle cx="1598.8" cy="176.0" r="3.5" fill="#96f6de"/><circle cx="1206.6" cy="103.6" r="3.5" fill="#f0b832"/><circle cx="1739.9" cy="156.7" r="3.5" fill="#7fb4f7"/><circle cx="1313.6" cy="236.0" r="3.5" fill="#7fb4f7"/><circle cx="1474.9" cy="112.8" r="3.5" fill="#7fb4f7"/><circle cx="1476.6" cy="128.3" r="3.5" fill="#96f6de"/><circle cx="1291.7" cy="229.9" r="3.5" fill="#7fb4f7"/><circle cx="1482.1" cy="139.8" r="3.5" fill="#96f6de"/><circle cx="1404.0" cy="137.6" r="3.5" fill="#7fb4f7"/><circle cx="1471.6" cy="82.4" r="3.5" fill="#7fb4f7"/><circle cx="1339.5" cy="263.6" r="3.5" fill="#7fb4f7"/><circle cx="1230.5" cy="109.4" r="3.5" fill="#f0b832"/><circle cx="1751.6" cy="138.8" r="3.5" fill="#96f6de"/><circle cx="1575.1" cy="107.2" r="3.5" fill="#f0b832"/><circle cx="1474.5" cy="117.3" r="3.5" fill="#96f6de"/><circle cx="1241.2" cy="166.2" r="3.5" fill="#7fb4f7"/><circle cx="1260.5" cy="140.5" r="3.5" fill="#96f6de"/><circle cx="1455.9" cy="95.2" r="3.5" fill="#96f6de"/><circle cx="1168.1" cy="127.7" r="3.5" fill="#96f6de"/><circle cx="1528.6" cy="125.5" r="3.5" fill="#96f6de"/><circle cx="1476.6" cy="300.0" r="3.5" fill="#7fb4f7"/><circle cx="1455.8" cy="104.1" r="3.5" fill="#96f6de"/><circle cx="1749.4" cy="149.0" r="3.5" fill="#7fb4f7"/><circle cx="1565.2" cy="108.1" r="3.5" fill="#f0b832"/><circle cx="1162.6" cy="118.0" r="3.5" fill="#96f6de"/><circle cx="1306.4" cy="270.1" r="3.5" fill="#7fb4f7"/><circle cx="1289.5" cy="295.9" r="3.5" fill="#7fb4f7"/><circle cx="1236.1" cy="126.5" r="3.5" fill="#f0b832"/><circle cx="1473.6" cy="93.6" r="3.5" fill="#96f6de"/><circle cx="1110.8" cy="90.1" r="3.5" fill="#f0b832"/><circle cx="1701.5" cy="180.2" r="3.5" fill="#7fb4f7"/><circle cx="1167.6" cy="123.6" r="3.5" fill="#7fb4f7"/><circle cx="1484.6" cy="107.1" r="3.5" fill="#96f6de"/><circle cx="1518.7" cy="106.4" r="3.5" fill="#7fb4f7"/><circle cx="1429.2" cy="152.7" r="3.5" fill="#7fb4f7"/><circle cx="1441.1" cy="113.2" r="3.5" fill="#7fb4f7"/><circle cx="1743.9" cy="298.9" r="3.5" fill="#7fb4f7"/><circle cx="1396.5" cy="88.4" r="3.5" fill="#7fb4f7"/><circle cx="1402.4" cy="108.6" r="3.5" fill="#96f6de"/><circle cx="1431.9" cy="113.5" r="3.5" fill="#7fb4f7"/><circle cx="1280.0" cy="118.9" r="3.5" fill="#f0b832"/><circle cx="1484.1" cy="300.0" r="3.5" fill="#7fb4f7"/><circle cx="1265.6" cy="348.5" r="3.5" fill="#96f6de"/><circle cx="1441.6" cy="97.1" r="3.5" fill="#96f6de"/><circle cx="1423.4" cy="163.0" r="3.5" fill="#96f6de"/><circle cx="1289.7" cy="133.5" r="3.5" fill="#96f6de"/><circle cx="1726.4" cy="268.7" r="3.5" fill="#7fb4f7"/><circle cx="1280.8" cy="299.6" r="3.5" fill="#7fb4f7"/><circle cx="1415.3" cy="134.9" r="3.5" fill="#7fb4f7"/><circle cx="1493.9" cy="74.7" r="3.5" fill="#96f6de"/><circle cx="1192.5" cy="132.2" r="3.5" fill="#96f6de"/><circle cx="1604.3" cy="213.8" r="3.5" fill="#7fb4f7"/><circle cx="1322.1" cy="266.5" r="3.5" fill="#7fb4f7"/><circle cx="1271.9" cy="131.9" r="3.5" fill="#f0b832"/><circle cx="1458.0" cy="112.7" r="3.5" fill="#96f6de"/><circle cx="1303.4" cy="124.6" r="3.5" fill="#f0b832"/><circle cx="1264.3" cy="224.9" r="3.5" fill="#96f6de"/><circle cx="1289.6" cy="317.9" r="3.5" fill="#7fb4f7"/><circle cx="1494.0" cy="289.3" r="3.5" fill="#7fb4f7"/><circle cx="1175.2" cy="107.0" r="3.5" fill="#f0b832"/><circle cx="1459.3" cy="137.6" r="3.5" fill="#7fb4f7"/><circle cx="1155.3" cy="157.4" r="3.5" fill="#7fb4f7"/><circle cx="1261.8" cy="225.3" r="3.5" fill="#7fb4f7"/><circle cx="1457.0" cy="106.4" r="3.5" fill="#96f6de"/><circle cx="1494.6" cy="142.5" r="3.5" fill="#7fb4f7"/><circle cx="1463.8" cy="55.5" r="3.5" fill="#7fb4f7"/><circle cx="1511.8" cy="153.2" r="3.5" fill="#7fb4f7"/><circle cx="1192.7" cy="103.7" r="3.5" fill="#f0b832"/><circle cx="1304.3" cy="256.9" r="3.5" fill="#7fb4f7"/><circle cx="1200.9" cy="111.7" r="3.5" fill="#f0b832"/><circle cx="1773.9" cy="298.9" r="3.5" fill="#7fb4f7"/><circle cx="1201.3" cy="145.0" r="3.5" fill="#7fb4f7"/><circle cx="1249.3" cy="215.0" r="3.5" fill="#7fb4f7"/><circle cx="1499.9" cy="76.7" r="3.5" fill="#96f6de"/><circle cx="1160.3" cy="114.2" r="3.5" fill="#96f6de"/><circle cx="1412.8" cy="164.6" r="3.5" fill="#7fb4f7"/><circle cx="1175.8" cy="167.6" r="3.5" fill="#7fb4f7"/><circle cx="1127.6" cy="82.3" r="3.5" fill="#96f6de"/><circle cx="1154.2" cy="120.8" r="3.5" fill="#7fb4f7"/><circle cx="1144.5" cy="114.1" r="3.5" fill="#f0b832"/><circle cx="1416.3" cy="121.3" r="3.5" fill="#7fb4f7"/><circle cx="1444.1" cy="98.7" r="3.5" fill="#96f6de"/><circle cx="1274.4" cy="104.9" r="3.5" fill="#96f6de"/><circle cx="1225.9" cy="108.1" r="3.5" fill="#f0b832"/><circle cx="1220.2" cy="107.3" r="3.5" fill="#f0b832"/><circle cx="1199.4" cy="127.4" r="3.5" fill="#f0b832"/><circle cx="1220.3" cy="167.0" r="3.5" fill="#7fb4f7"/><circle cx="1465.7" cy="107.2" r="3.5" fill="#96f6de"/><circle cx="1215.7" cy="105.3" r="3.5" fill="#f0b832"/><circle cx="1601.8" cy="118.3" r="3.5" fill="#f0b832"/><circle cx="1212.8" cy="147.7" r="3.5" fill="#7fb4f7"/><circle cx="1463.3" cy="60.0" r="3.5" fill="#7fb4f7"/><circle cx="1224.9" cy="141.1" r="3.5" fill="#7fb4f7"/><circle cx="1239.7" cy="117.4" r="3.5" fill="#f0b832"/><circle cx="1201.5" cy="114.5" r="3.5" fill="#f0b832"/><circle cx="1199.5" cy="174.8" r="3.5" fill="#7fb4f7"/><circle cx="1221.8" cy="53.0" r="3.5" fill="#f0b832"/><circle cx="1431.9" cy="155.4" r="3.5" fill="#7fb4f7"/><circle cx="1765.2" cy="302.3" r="3.5" fill="#7fb4f7"/><circle cx="1235.7" cy="112.0" r="3.5" fill="#f0b832"/><circle cx="1122.4" cy="95.2" r="3.5" fill="#f0b832"/><circle cx="1453.2" cy="111.7" r="3.5" fill="#96f6de"/><circle cx="1323.4" cy="249.4" r="3.5" fill="#7fb4f7"/><circle cx="1201.4" cy="102.3" r="3.5" fill="#f0b832"/><circle cx="1302.8" cy="317.3" r="3.5" fill="#7fb4f7"/><circle cx="1186.8" cy="160.4" r="3.5" fill="#7fb4f7"/><circle cx="1455.0" cy="58.0" r="3.5" fill="#f0b832"/><circle cx="1438.3" cy="160.7" r="3.5" fill="#96f6de"/><circle cx="1228.4" cy="116.9" r="3.5" fill="#f0b832"/><circle cx="1305.5" cy="76.7" r="3.5" fill="#96f6de"/><circle cx="1436.9" cy="128.8" r="3.5" fill="#96f6de"/><circle cx="1189.0" cy="157.0" r="3.5" fill="#7fb4f7"/><circle cx="1200.2" cy="191.3" r="3.5" fill="#7fb4f7"/><circle cx="1404.7" cy="152.9" r="3.5" fill="#7fb4f7"/><circle cx="1072.7" cy="186.8" r="3.5" fill="#7fb4f7"/><circle cx="1470.0" cy="92.8" r="3.5" fill="#96f6de"/><circle cx="1452.9" cy="141.0" r="3.5" fill="#96f6de"/><circle cx="1604.8" cy="196.9" r="3.5" fill="#96f6de"/><circle cx="1489.4" cy="147.0" r="3.5" fill="#7fb4f7"/><circle cx="1446.2" cy="139.7" r="3.5" fill="#7fb4f7"/><circle cx="1175.1" cy="151.5" r="3.5" fill="#7fb4f7"/><circle cx="1185.6" cy="80.4" r="3.5" fill="#96f6de"/><circle cx="1515.1" cy="149.7" r="3.5" fill="#7fb4f7"/><circle cx="1408.8" cy="163.0" r="3.5" fill="#7fb4f7"/><circle cx="1431.7" cy="148.5" r="3.5" fill="#7fb4f7"/><circle cx="1599.3" cy="211.3" r="3.5" fill="#7fb4f7"/><circle cx="1692.8" cy="148.9" r="3.5" fill="#7fb4f7"/><circle cx="1481.9" cy="85.9" r="3.5" fill="#96f6de"/><circle cx="1325.5" cy="263.7" r="3.5" fill="#7fb4f7"/><circle cx="1447.9" cy="164.2" r="3.5" fill="#7fb4f7"/><circle cx="1178.6" cy="127.3" r="3.5" fill="#f0b832"/><circle cx="1806.8" cy="275.5" r="3.5" fill="#96f6de"/><circle cx="1217.9" cy="166.1" r="3.5" fill="#7fb4f7"/><circle cx="1250.5" cy="80.4" r="3.5" fill="#96f6de"/><circle cx="1498.5" cy="302.0" r="3.5" fill="#7fb4f7"/><circle cx="1123.7" cy="102.3" r="3.5" fill="#f0b832"/><circle cx="1063.3" cy="111.4" r="3.5" fill="#96f6de"/><circle cx="1464.8" cy="83.6" r="3.5" fill="#7fb4f7"/><circle cx="1185.1" cy="125.3" r="3.5" fill="#f0b832"/><circle cx="1199.4" cy="177.3" r="3.5" fill="#7fb4f7"/><circle cx="1471.9" cy="113.1" r="3.5" fill="#96f6de"/><circle cx="1580.4" cy="143.3" r="3.5" fill="#96f6de"/><circle cx="1235.6" cy="161.4" r="3.5" fill="#7fb4f7"/><circle cx="1143.8" cy="84.3" r="3.5" fill="#f0b832"/><circle cx="1309.0" cy="302.6" r="3.5" fill="#7fb4f7"/><circle cx="1747.1" cy="132.4" r="3.5" fill="#f0b832"/><circle cx="1476.7" cy="89.7" r="3.5" fill="#96f6de"/><circle cx="1484.7" cy="89.8" r="3.5" fill="#96f6de"/><circle cx="1269.7" cy="276.4" r="3.5" fill="#7fb4f7"/><circle cx="1486.6" cy="290.8" r="3.5" fill="#7fb4f7"/><circle cx="1230.9" cy="123.4" r="3.5" fill="#f0b832"/><circle cx="1411.0" cy="116.6" r="3.5" fill="#96f6de"/><circle cx="1439.6" cy="133.7" r="3.5" fill="#7fb4f7"/><circle cx="1245.9" cy="137.6" r="3.5" fill="#7fb4f7"/><circle cx="1460.7" cy="86.1" r="3.5" fill="#96f6de"/><circle cx="1486.7" cy="85.1" r="3.5" fill="#7fb4f7"/><circle cx="1194.0" cy="157.6" r="3.5" fill="#7fb4f7"/><circle cx="1332.0" cy="277.9" r="3.5" fill="#7fb4f7"/><circle cx="1412.5" cy="139.2" r="3.5" fill="#96f6de"/><circle cx="1191.6" cy="160.0" r="3.5" fill="#7fb4f7"/><circle cx="1589.4" cy="120.8" r="3.5" fill="#f0b832"/><circle cx="1209.4" cy="114.9" r="3.5" fill="#f0b832"/><circle cx="1620.5" cy="172.7" r="3.5" fill="#7fb4f7"/><circle cx="1292.4" cy="305.7" r="3.5" fill="#7fb4f7"/><circle cx="1160.6" cy="147.0" r="3.5" fill="#96f6de"/><circle cx="1194.1" cy="120.9" r="3.5" fill="#f0b832"/><circle cx="1264.3" cy="125.2" r="3.5" fill="#f0b832"/><circle cx="1318.1" cy="277.0" r="3.5" fill="#7fb4f7"/><circle cx="1346.2" cy="255.5" r="3.5" fill="#96f6de"/><circle cx="1201.8" cy="107.0" r="3.5" fill="#f0b832"/><circle cx="1278.4" cy="293.7" r="3.5" fill="#96f6de"/><circle cx="1271.9" cy="125.5" r="3.5" fill="#7fb4f7"/><circle cx="1227.7" cy="137.9" r="3.5" fill="#7fb4f7"/><circle cx="1663.6" cy="118.5" r="3.5" fill="#f0b832"/><circle cx="1449.8" cy="88.5" r="3.5" fill="#96f6de"/><circle cx="1571.8" cy="116.4" r="3.5" fill="#f0b832"/><circle cx="1335.8" cy="270.3" r="3.5" fill="#96f6de"/><circle cx="1516.9" cy="139.9" r="3.5" fill="#7fb4f7"/><circle cx="1495.1" cy="134.3" r="3.5" fill="#7fb4f7"/><circle cx="1661.6" cy="153.4" r="3.5" fill="#96f6de"/><circle cx="1544.5" cy="179.5" r="3.5" fill="#96f6de"/><circle cx="1258.1" cy="143.6" r="3.5" fill="#96f6de"/><circle cx="1171.0" cy="157.6" r="3.5" fill="#7fb4f7"/><circle cx="1231.8" cy="113.8" r="3.5" fill="#f0b832"/><circle cx="1473.6" cy="149.0" r="3.5" fill="#7fb4f7"/><circle cx="1284.2" cy="255.2" r="3.5" fill="#96f6de"/><circle cx="1316.6" cy="267.2" r="3.5" fill="#7fb4f7"/><circle cx="1535.8" cy="144.0" r="3.5" fill="#96f6de"/><circle cx="1159.8" cy="144.2" r="3.5" fill="#7fb4f7"/><circle cx="1507.2" cy="234.0" r="3.5" fill="#96f6de"/><circle cx="1159.1" cy="111.8" r="3.5" fill="#f0b832"/><circle cx="1343.1" cy="246.2" r="3.5" fill="#96f6de"/><circle cx="1488.0" cy="134.0" r="3.5" fill="#7fb4f7"/><circle cx="1340.1" cy="246.0" r="3.5" fill="#96f6de"/><circle cx="1275.6" cy="357.0" r="3.5" fill="#96f6de"/><circle cx="1449.7" cy="180.6" r="3.5" fill="#7fb4f7"/><circle cx="1310.2" cy="305.3" r="3.5" fill="#96f6de"/><circle cx="1320.1" cy="262.1" r="3.5" fill="#96f6de"/><circle cx="1498.9" cy="116.2" r="3.5" fill="#7fb4f7"/><circle cx="1192.3" cy="150.5" r="3.5" fill="#7fb4f7"/><circle cx="1418.4" cy="137.9" r="3.5" fill="#7fb4f7"/><circle cx="1235.7" cy="135.6" r="3.5" fill="#7fb4f7"/><circle cx="1488.1" cy="143.1" r="3.5" fill="#96f6de"/><circle cx="1259.2" cy="133.5" r="3.5" fill="#96f6de"/><circle cx="1448.0" cy="99.2" r="3.5" fill="#7fb4f7"/><circle cx="1495.0" cy="103.8" r="3.5" fill="#7fb4f7"/><circle cx="1505.4" cy="143.1" r="3.5" fill="#96f6de"/><circle cx="1290.7" cy="302.0" r="3.5" fill="#7fb4f7"/><circle cx="1485.8" cy="96.6" r="3.5" fill="#96f6de"/><circle cx="1235.0" cy="152.0" r="3.5" fill="#96f6de"/><circle cx="1308.1" cy="290.3" r="3.5" fill="#96f6de"/><circle cx="1064.3" cy="98.5" r="3.5" fill="#96f6de"/><circle cx="1239.3" cy="133.7" r="3.5" fill="#7fb4f7"/><circle cx="1457.9" cy="255.9" r="3.5" fill="#7fb4f7"/><circle cx="1196.4" cy="150.8" r="3.5" fill="#96f6de"/><circle cx="1217.2" cy="172.6" r="3.5" fill="#7fb4f7"/><circle cx="1415.3" cy="142.3" r="3.5" fill="#96f6de"/><circle cx="1750.6" cy="282.2" r="3.5" fill="#7fb4f7"/><circle cx="1251.7" cy="154.4" r="3.5" fill="#96f6de"/><circle cx="1244.8" cy="160.3" r="3.5" fill="#7fb4f7"/><circle cx="1235.8" cy="168.4" r="3.5" fill="#7fb4f7"/><circle cx="1697.8" cy="247.0" r="3.5" fill="#7fb4f7"/><circle cx="1450.9" cy="96.9" r="3.5" fill="#7fb4f7"/><circle cx="1195.8" cy="101.7" r="3.5" fill="#f0b832"/><circle cx="1246.6" cy="120.4" r="3.5" fill="#f0b832"/><circle cx="1593.1" cy="192.7" r="3.5" fill="#96f6de"/><circle cx="1331.6" cy="282.3" r="3.5" fill="#7fb4f7"/><circle cx="1449.7" cy="234.7" r="3.5" fill="#7fb4f7"/><circle cx="1450.6" cy="124.3" r="3.5" fill="#7fb4f7"/><circle cx="1502.7" cy="150.9" r="3.5" fill="#7fb4f7"/><circle cx="1471.8" cy="121.1" r="3.5" fill="#7fb4f7"/><circle cx="1217.2" cy="141.5" r="3.5" fill="#96f6de"/><circle cx="1548.1" cy="145.3" r="3.5" fill="#7fb4f7"/><circle cx="1314.4" cy="257.7" r="3.5" fill="#7fb4f7"/><circle cx="1183.7" cy="127.9" r="3.5" fill="#f0b832"/><circle cx="1408.9" cy="75.9" r="3.5" fill="#96f6de"/><circle cx="1210.0" cy="167.3" r="3.5" fill="#7fb4f7"/><circle cx="1469.6" cy="214.7" r="3.5" fill="#7fb4f7"/><circle cx="1558.3" cy="281.8" r="3.5" fill="#7fb4f7"/><circle cx="1495.2" cy="153.9" r="3.5" fill="#7fb4f7"/><circle cx="1410.7" cy="207.2" r="3.5" fill="#7fb4f7"/><circle cx="1216.9" cy="103.6" r="3.5" fill="#f0b832"/><circle cx="1212.3" cy="137.9" r="3.5" fill="#96f6de"/><circle cx="1256.8" cy="227.4" r="3.5" fill="#7fb4f7"/><circle cx="1146.0" cy="124.5" r="3.5" fill="#96f6de"/><circle cx="1542.7" cy="120.5" r="3.5" fill="#f0b832"/><circle cx="1526.1" cy="153.7" r="3.5" fill="#7fb4f7"/><circle cx="1390.9" cy="205.9" r="3.5" fill="#96f6de"/><circle cx="1182.3" cy="143.2" r="3.5" fill="#7fb4f7"/><circle cx="1307.9" cy="267.0" r="3.5" fill="#7fb4f7"/><circle cx="1514.2" cy="102.3" r="3.5" fill="#96f6de"/><circle cx="1433.9" cy="205.5" r="3.5" fill="#7fb4f7"/><circle cx="1583.9" cy="98.3" r="3.5" fill="#96f6de"/><circle cx="1355.8" cy="82.9" r="3.5" fill="#96f6de"/><circle cx="1173.7" cy="99.3" r="3.5" fill="#f0b832"/><circle cx="1228.8" cy="148.0" r="3.5" fill="#7fb4f7"/><circle cx="1478.2" cy="131.8" r="3.5" fill="#7fb4f7"/><circle cx="1584.4" cy="157.6" r="3.5" fill="#7fb4f7"/><circle cx="1186.1" cy="167.6" r="3.5" fill="#96f6de"/><circle cx="1315.4" cy="290.1" r="3.5" fill="#7fb4f7"/><circle cx="1263.9" cy="317.8" r="3.5" fill="#7fb4f7"/><circle cx="1299.7" cy="259.2" r="3.5" fill="#7fb4f7"/><circle cx="1157.7" cy="147.0" r="3.5" fill="#7fb4f7"/><circle cx="1490.7" cy="130.3" r="3.5" fill="#96f6de"/><circle cx="1445.3" cy="91.3" r="3.5" fill="#96f6de"/><circle cx="1202.0" cy="187.6" r="3.5" fill="#7fb4f7"/><circle cx="1250.4" cy="145.5" r="3.5" fill="#96f6de"/><circle cx="1491.8" cy="143.3" r="3.5" fill="#7fb4f7"/><circle cx="1449.6" cy="152.2" r="3.5" fill="#7fb4f7"/><circle cx="1310.6" cy="290.1" r="3.5" fill="#7fb4f7"/><circle cx="1339.7" cy="257.8" r="3.5" fill="#7fb4f7"/><circle cx="1113.7" cy="84.9" r="3.5" fill="#96f6de"/><circle cx="1493.5" cy="128.4" r="3.5" fill="#7fb4f7"/><circle cx="1450.5" cy="226.3" r="3.5" fill="#96f6de"/><circle cx="1286.2" cy="244.5" r="3.5" fill="#7fb4f7"/><circle cx="1138.6" cy="113.3" r="3.5" fill="#7fb4f7"/><circle cx="1416.6" cy="171.2" r="3.5" fill="#7fb4f7"/><circle cx="1489.8" cy="157.9" r="3.5" fill="#7fb4f7"/><circle cx="1668.6" cy="176.0" r="3.5" fill="#7fb4f7"/><circle cx="1289.9" cy="310.0" r="3.5" fill="#96f6de"/><circle cx="1741.8" cy="314.1" r="3.5" fill="#7fb4f7"/><circle cx="1760.5" cy="332.4" r="3.5" fill="#96f6de"/><circle cx="1486.4" cy="145.4" r="3.5" fill="#7fb4f7"/><circle cx="1196.6" cy="157.6" r="3.5" fill="#7fb4f7"/><circle cx="1564.3" cy="174.8" r="3.5" fill="#7fb4f7"/><circle cx="1525.5" cy="138.3" r="3.5" fill="#7fb4f7"/><circle cx="1736.5" cy="160.6" r="3.5" fill="#96f6de"/><circle cx="1250.8" cy="121.4" r="3.5" fill="#f0b832"/><circle cx="1190.1" cy="170.2" r="3.5" fill="#7fb4f7"/><circle cx="1446.3" cy="121.0" r="3.5" fill="#96f6de"/><circle cx="1266.2" cy="137.7" r="3.5" fill="#96f6de"/><circle cx="1539.4" cy="110.6" r="3.5" fill="#f0b832"/><circle cx="1466.1" cy="143.0" r="3.5" fill="#7fb4f7"/><circle cx="1410.8" cy="152.9" r="3.5" fill="#96f6de"/><circle cx="1513.6" cy="128.8" r="3.5" fill="#96f6de"/><circle cx="1267.5" cy="314.0" r="3.5" fill="#7fb4f7"/><circle cx="1554.4" cy="105.6" r="3.5" fill="#f0b832"/><circle cx="1198.7" cy="146.6" r="3.5" fill="#96f6de"/><circle cx="1496.6" cy="120.5" r="3.5" fill="#96f6de"/><circle cx="1564.4" cy="144.1" r="3.5" fill="#7fb4f7"/><circle cx="1441.4" cy="191.4" r="3.5" fill="#96f6de"/><circle cx="1491.4" cy="77.5" r="3.5" fill="#96f6de"/><circle cx="1157.2" cy="129.0" r="3.5" fill="#96f6de"/><circle cx="1513.5" cy="180.7" r="3.5" fill="#7fb4f7"/><circle cx="1504.1" cy="134.9" r="3.5" fill="#7fb4f7"/><circle cx="1491.8" cy="120.4" r="3.5" fill="#96f6de"/><circle cx="1151.1" cy="150.2" r="3.5" fill="#7fb4f7"/><circle cx="1148.5" cy="121.1" r="3.5" fill="#7fb4f7"/><circle cx="1177.3" cy="157.9" r="3.5" fill="#7fb4f7"/><circle cx="1240.8" cy="91.4" r="3.5" fill="#96f6de"/><circle cx="1196.1" cy="174.1" r="3.5" fill="#96f6de"/><circle cx="1230.4" cy="157.5" r="3.5" fill="#7fb4f7"/><circle cx="1533.5" cy="179.5" r="3.5" fill="#7fb4f7"/><circle cx="1210.6" cy="105.5" r="3.5" fill="#f0b832"/><circle cx="1525.0" cy="141.9" r="3.5" fill="#7fb4f7"/><circle cx="1766.6" cy="288.1" r="3.5" fill="#7fb4f7"/><circle cx="1497.7" cy="149.1" r="3.5" fill="#7fb4f7"/><circle cx="1298.5" cy="130.5" r="3.5" fill="#7fb4f7"/><circle cx="1506.2" cy="126.3" r="3.5" fill="#96f6de"/><circle cx="1318.6" cy="283.0" r="3.5" fill="#7fb4f7"/><circle cx="1327.5" cy="285.6" r="3.5" fill="#7fb4f7"/><circle cx="1105.4" cy="77.8" r="3.5" fill="#f0b832"/><circle cx="1295.8" cy="294.6" r="3.5" fill="#7fb4f7"/><circle cx="1234.8" cy="138.3" r="3.5" fill="#7fb4f7"/><circle cx="1335.1" cy="251.0" r="3.5" fill="#96f6de"/><circle cx="1303.1" cy="277.3" r="3.5" fill="#7fb4f7"/><circle cx="1680.3" cy="86.1" r="3.5" fill="#f0b832"/><circle cx="1628.0" cy="183.9" r="3.5" fill="#7fb4f7"/><circle cx="1179.2" cy="168.2" r="3.5" fill="#7fb4f7"/><circle cx="1182.2" cy="130.2" r="3.5" fill="#f0b832"/><circle cx="1723.2" cy="166.7" r="3.5" fill="#96f6de"/><circle cx="1458.5" cy="95.3" r="3.5" fill="#96f6de"/><circle cx="1491.5" cy="295.0" r="3.5" fill="#7fb4f7"/><circle cx="1178.1" cy="104.7" r="3.5" fill="#f0b832"/><circle cx="1274.7" cy="260.2" r="3.5" fill="#7fb4f7"/><circle cx="1319.2" cy="268.7" r="3.5" fill="#7fb4f7"/><circle cx="1292.2" cy="115.3" r="3.5" fill="#7fb4f7"/><circle cx="1418.7" cy="141.8" r="3.5" fill="#7fb4f7"/><circle cx="1289.9" cy="211.2" r="3.5" fill="#96f6de"/><circle cx="1501.8" cy="129.8" r="3.5" fill="#96f6de"/><circle cx="1556.1" cy="167.8" r="3.5" fill="#7fb4f7"/><circle cx="1654.7" cy="221.3" r="3.5" fill="#7fb4f7"/><circle cx="1220.5" cy="163.4" r="3.5" fill="#7fb4f7"/><circle cx="1316.6" cy="246.9" r="3.5" fill="#96f6de"/><circle cx="1231.4" cy="203.3" r="3.5" fill="#7fb4f7"/><circle cx="1534.4" cy="108.9" r="3.5" fill="#f0b832"/><circle cx="1258.4" cy="123.6" r="3.5" fill="#f0b832"/><circle cx="1741.8" cy="282.2" r="3.5" fill="#96f6de"/><circle cx="1060.4" cy="90.1" r="3.5" fill="#96f6de"/><circle cx="1501.3" cy="127.1" r="3.5" fill="#7fb4f7"/><circle cx="1456.0" cy="145.1" r="3.5" fill="#7fb4f7"/><circle cx="1094.4" cy="77.5" r="3.5" fill="#f0b832"/><circle cx="1349.5" cy="258.1" r="3.5" fill="#96f6de"/><circle cx="1167.7" cy="159.9" r="3.5" fill="#7fb4f7"/><circle cx="1146.0" cy="134.1" r="3.5" fill="#7fb4f7"/><circle cx="1317.8" cy="250.9" r="3.5" fill="#96f6de"/><circle cx="1468.7" cy="150.6" r="3.5" fill="#7fb4f7"/><circle cx="1301.5" cy="127.2" r="3.5" fill="#96f6de"/><circle cx="1186.2" cy="151.7" r="3.5" fill="#7fb4f7"/><circle cx="1265.6" cy="338.5" r="3.5" fill="#7fb4f7"/><circle cx="1314.6" cy="252.0" r="3.5" fill="#7fb4f7"/><circle cx="1238.6" cy="123.2" r="3.5" fill="#f0b832"/><circle cx="1335.8" cy="246.2" r="3.5" fill="#7fb4f7"/><circle cx="1496.4" cy="151.1" r="3.5" fill="#7fb4f7"/><circle cx="1064.3" cy="92.7" r="3.5" fill="#f0b832"/><circle cx="1561.9" cy="152.6" r="3.5" fill="#7fb4f7"/><circle cx="1217.7" cy="133.2" r="3.5" fill="#7fb4f7"/><circle cx="1274.9" cy="322.8" r="3.5" fill="#7fb4f7"/><circle cx="1816.6" cy="333.4" r="3.5" fill="#7fb4f7"/><circle cx="1445.9" cy="102.6" r="3.5" fill="#96f6de"/><circle cx="1238.9" cy="123.7" r="3.5" fill="#f0b832"/><circle cx="1441.9" cy="141.6" r="3.5" fill="#96f6de"/><circle cx="1198.2" cy="108.1" r="3.5" fill="#f0b832"/><circle cx="1694.5" cy="225.8" r="3.5" fill="#7fb4f7"/><circle cx="1163.5" cy="132.1" r="3.5" fill="#7fb4f7"/><circle cx="1527.4" cy="144.0" r="3.5" fill="#7fb4f7"/><circle cx="1448.0" cy="134.1" r="3.5" fill="#7fb4f7"/><circle cx="1074.0" cy="102.3" r="3.5" fill="#7fb4f7"/><circle cx="1213.0" cy="151.8" r="3.5" fill="#7fb4f7"/><circle cx="1601.8" cy="217.6" r="3.5" fill="#7fb4f7"/><circle cx="1510.0" cy="127.6" r="3.5" fill="#96f6de"/><circle cx="1435.1" cy="124.8" r="3.5" fill="#96f6de"/><circle cx="1225.7" cy="197.5" r="3.5" fill="#7fb4f7"/><circle cx="1746.9" cy="308.0" r="3.5" fill="#7fb4f7"/><circle cx="1170.6" cy="104.3" r="3.5" fill="#f0b832"/><circle cx="1699.0" cy="154.4" r="3.5" fill="#7fb4f7"/><circle cx="1476.8" cy="117.8" r="3.5" fill="#96f6de"/><circle cx="1293.1" cy="318.6" r="3.5" fill="#7fb4f7"/><circle cx="1511.5" cy="239.0" r="3.5" fill="#7fb4f7"/><circle cx="1199.3" cy="158.5" r="3.5" fill="#7fb4f7"/><circle cx="1464.7" cy="116.0" r="3.5" fill="#7fb4f7"/><circle cx="1209.3" cy="151.1" r="3.5" fill="#7fb4f7"/><circle cx="1236.0" cy="145.5" r="3.5" fill="#7fb4f7"/><circle cx="1451.9" cy="92.5" r="3.5" fill="#7fb4f7"/><circle cx="1293.3" cy="120.9" r="3.5" fill="#f0b832"/><circle cx="1175.8" cy="155.3" r="3.5" fill="#7fb4f7"/><circle cx="1750.1" cy="130.2" r="3.5" fill="#f0b832"/><circle cx="1196.0" cy="171.5" r="3.5" fill="#7fb4f7"/><circle cx="1513.0" cy="147.3" r="3.5" fill="#7fb4f7"/><circle cx="1226.1" cy="121.5" r="3.5" fill="#f0b832"/><circle cx="1161.6" cy="138.7" r="3.5" fill="#7fb4f7"/><circle cx="1683.3" cy="182.7" r="3.5" fill="#7fb4f7"/><circle cx="1333.9" cy="243.0" r="3.5" fill="#96f6de"/><circle cx="1096.6" cy="93.9" r="3.5" fill="#96f6de"/><circle cx="1286.2" cy="275.1" r="3.5" fill="#7fb4f7"/><circle cx="1281.8" cy="332.8" r="3.5" fill="#96f6de"/><circle cx="1248.1" cy="183.8" r="3.5" fill="#96f6de"/><circle cx="1426.9" cy="143.8" r="3.5" fill="#7fb4f7"/><circle cx="1414.7" cy="161.4" r="3.5" fill="#7fb4f7"/><circle cx="1560.2" cy="121.4" r="3.5" fill="#f0b832"/><circle cx="1513.5" cy="136.2" r="3.5" fill="#96f6de"/><circle cx="1497.7" cy="130.4" r="3.5" fill="#7fb4f7"/><circle cx="1576.0" cy="164.8" r="3.5" fill="#7fb4f7"/><circle cx="1435.5" cy="160.9" r="3.5" fill="#7fb4f7"/><circle cx="1493.3" cy="132.7" r="3.5" fill="#96f6de"/><circle cx="1337.0" cy="263.4" r="3.5" fill="#96f6de"/><circle cx="1245.8" cy="130.7" r="3.5" fill="#f0b832"/><circle cx="1496.3" cy="92.3" r="3.5" fill="#96f6de"/><circle cx="1188.0" cy="162.6" r="3.5" fill="#7fb4f7"/><circle cx="1224.5" cy="146.3" r="3.5" fill="#7fb4f7"/><circle cx="1567.4" cy="111.7" r="3.5" fill="#f0b832"/><circle cx="1196.9" cy="138.5" r="3.5" fill="#7fb4f7"/><circle cx="1207.3" cy="143.1" r="3.5" fill="#96f6de"/><circle cx="1216.1" cy="150.1" r="3.5" fill="#96f6de"/><circle cx="1450.7" cy="144.9" r="3.5" fill="#7fb4f7"/><circle cx="1457.4" cy="100.6" r="3.5" fill="#7fb4f7"/><circle cx="1079.8" cy="101.0" r="3.5" fill="#f0b832"/><circle cx="1171.0" cy="162.9" r="3.5" fill="#96f6de"/><circle cx="1482.7" cy="124.0" r="3.5" fill="#96f6de"/><circle cx="1482.0" cy="149.5" r="3.5" fill="#7fb4f7"/><circle cx="1059.4" cy="101.0" r="3.5" fill="#96f6de"/><circle cx="1150.1" cy="113.2" r="3.5" fill="#96f6de"/><circle cx="1279.0" cy="304.6" r="3.5" fill="#7fb4f7"/><circle cx="1165.4" cy="138.6" r="3.5" fill="#7fb4f7"/><circle cx="1486.1" cy="312.0" r="3.5" fill="#7fb4f7"/><circle cx="1409.2" cy="138.9" r="3.5" fill="#7fb4f7"/><circle cx="1668.6" cy="249.5" r="3.5" fill="#7fb4f7"/><circle cx="1255.9" cy="140.4" r="3.5" fill="#7fb4f7"/><circle cx="1501.8" cy="146.5" r="3.5" fill="#7fb4f7"/><circle cx="1419.2" cy="117.0" r="3.5" fill="#96f6de"/><circle cx="1291.8" cy="351.5" r="3.5" fill="#96f6de"/><circle cx="1566.9" cy="160.1" r="3.5" fill="#7fb4f7"/><circle cx="1255.5" cy="147.5" r="3.5" fill="#7fb4f7"/><circle cx="1269.3" cy="191.3" r="3.5" fill="#96f6de"/><circle cx="1212.4" cy="163.3" r="3.5" fill="#7fb4f7"/><circle cx="1304.6" cy="310.2" r="3.5" fill="#96f6de"/><circle cx="1412.2" cy="173.3" r="3.5" fill="#7fb4f7"/><circle cx="1250.0" cy="138.8" r="3.5" fill="#7fb4f7"/><circle cx="1067.5" cy="103.0" r="3.5" fill="#96f6de"/><circle cx="1719.4" cy="165.6" r="3.5" fill="#96f6de"/><circle cx="1300.8" cy="296.3" r="3.5" fill="#7fb4f7"/><circle cx="1717.1" cy="291.8" r="3.5" fill="#7fb4f7"/><circle cx="1172.6" cy="160.0" r="3.5" fill="#7fb4f7"/><circle cx="1462.5" cy="100.2" r="3.5" fill="#96f6de"/><circle cx="1625.0" cy="136.5" r="3.5" fill="#96f6de"/><circle cx="1113.4" cy="79.7" r="3.5" fill="#f0b832"/><circle cx="1531.3" cy="149.8" r="3.5" fill="#7fb4f7"/><circle cx="1341.9" cy="249.4" r="3.5" fill="#7fb4f7"/><circle cx="1593.1" cy="124.2" r="3.5" fill="#f0b832"/><circle cx="1434.1" cy="398.0" r="3.5" fill="#f0b832"/><circle cx="1423.6" cy="110.3" r="3.5" fill="#96f6de"/><circle cx="1421.8" cy="120.1" r="3.5" fill="#96f6de"/><circle cx="1333.8" cy="267.9" r="3.5" fill="#7fb4f7"/><circle cx="1336.3" cy="257.3" r="3.5" fill="#7fb4f7"/><circle cx="1466.4" cy="100.8" r="3.5" fill="#7fb4f7"/><circle cx="1229.0" cy="109.1" r="3.5" fill="#f0b832"/><circle cx="1342.5" cy="243.6" r="3.5" fill="#96f6de"/><circle cx="1077.0" cy="190.0" r="3.5" fill="#7fb4f7"/><circle cx="1285.3" cy="298.1" r="3.5" fill="#7fb4f7"/><circle cx="1310.5" cy="80.4" r="3.5" fill="#7fb4f7"/><circle cx="1231.3" cy="110.1" r="3.5" fill="#f0b832"/><circle cx="1193.2" cy="169.4" r="3.5" fill="#7fb4f7"/><circle cx="1311.5" cy="261.2" r="3.5" fill="#96f6de"/><circle cx="1205.2" cy="192.0" r="3.5" fill="#96f6de"/><circle cx="1702.2" cy="177.8" r="3.5" fill="#7fb4f7"/><circle cx="1143.8" cy="88.8" r="3.5" fill="#f0b832"/><circle cx="1465.4" cy="89.9" r="3.5" fill="#96f6de"/><circle cx="1173.0" cy="102.2" r="3.5" fill="#f0b832"/><circle cx="1694.0" cy="179.7" r="3.5" fill="#96f6de"/><circle cx="1535.1" cy="278.3" r="3.5" fill="#7fb4f7"/><circle cx="1416.5" cy="220.5" r="3.5" fill="#7fb4f7"/><circle cx="1492.8" cy="151.7" r="3.5" fill="#7fb4f7"/><circle cx="1301.4" cy="298.6" r="3.5" fill="#7fb4f7"/><circle cx="1720.2" cy="162.6" r="3.5" fill="#7fb4f7"/><circle cx="1690.3" cy="145.2" r="3.5" fill="#7fb4f7"/><circle cx="1426.1" cy="171.4" r="3.5" fill="#7fb4f7"/><circle cx="1444.3" cy="124.7" r="3.5" fill="#96f6de"/><circle cx="1338.7" cy="273.5" r="3.5" fill="#7fb4f7"/><circle cx="1429.0" cy="169.8" r="3.5" fill="#7fb4f7"/><circle cx="1509.5" cy="142.2" r="3.5" fill="#96f6de"/><circle cx="1197.5" cy="144.0" r="3.5" fill="#7fb4f7"/><circle cx="1564.4" cy="169.0" r="3.5" fill="#7fb4f7"/><circle cx="1233.1" cy="188.8" r="3.5" fill="#96f6de"/><circle cx="1435.5" cy="142.1" r="3.5" fill="#7fb4f7"/><circle cx="1184.9" cy="144.2" r="3.5" fill="#7fb4f7"/><circle cx="1744.9" cy="154.6" r="3.5" fill="#7fb4f7"/><circle cx="1226.8" cy="131.9" r="3.5" fill="#f0b832"/><circle cx="1161.9" cy="108.7" r="3.5" fill="#7fb4f7"/><circle cx="1503.2" cy="158.1" r="3.5" fill="#7fb4f7"/><circle cx="1204.8" cy="138.5" r="3.5" fill="#7fb4f7"/><circle cx="1335.0" cy="273.3" r="3.5" fill="#96f6de"/><circle cx="1309.1" cy="129.0" r="3.5" fill="#f0b832"/><circle cx="1533.7" cy="141.2" r="3.5" fill="#96f6de"/><circle cx="1189.7" cy="110.5" r="3.5" fill="#96f6de"/><circle cx="1455.4" cy="246.5" r="3.5" fill="#7fb4f7"/><circle cx="1419.8" cy="223.8" r="3.5" fill="#96f6de"/><circle cx="1071.4" cy="108.2" r="3.5" fill="#7fb4f7"/><circle cx="1317.2" cy="292.4" r="3.5" fill="#7fb4f7"/><circle cx="1658.6" cy="228.8" r="3.5" fill="#7fb4f7"/><circle cx="1669.1" cy="167.6" r="3.5" fill="#96f6de"/><circle cx="1254.4" cy="100.4" r="3.5" fill="#96f6de"/><circle cx="1510.9" cy="135.7" r="3.5" fill="#96f6de"/><circle cx="1119.9" cy="100.4" r="3.5" fill="#f0b832"/><circle cx="1274.7" cy="193.8" r="3.5" fill="#96f6de"/><circle cx="1746.4" cy="156.5" r="3.5" fill="#7fb4f7"/><circle cx="1534.4" cy="196.4" r="3.5" fill="#96f6de"/><circle cx="1300.7" cy="303.2" r="3.5" fill="#7fb4f7"/><circle cx="1226.3" cy="164.7" r="3.5" fill="#7fb4f7"/><circle cx="1188.3" cy="115.7" r="3.5" fill="#7fb4f7"/><circle cx="1491.7" cy="100.7" r="3.5" fill="#96f6de"/><circle cx="1526.4" cy="176.2" r="3.5" fill="#7fb4f7"/><circle cx="1086.9" cy="102.3" r="3.5" fill="#96f6de"/><circle cx="1662.9" cy="165.1" r="3.5" fill="#7fb4f7"/><circle cx="1257.0" cy="137.8" r="3.5" fill="#7fb4f7"/><circle cx="1751.3" cy="140.2" r="3.5" fill="#96f6de"/><circle cx="1588.1" cy="140.2" r="3.5" fill="#7fb4f7"/><circle cx="1337.2" cy="276.2" r="3.5" fill="#96f6de"/><circle cx="1232.6" cy="153.7" r="3.5" fill="#7fb4f7"/><circle cx="1327.8" cy="267.8" r="3.5" fill="#7fb4f7"/><circle cx="1231.9" cy="137.2" r="3.5" fill="#7fb4f7"/><circle cx="1730.7" cy="280.0" r="3.5" fill="#96f6de"/><circle cx="1177.0" cy="117.2" r="3.5" fill="#f0b832"/><circle cx="1461.8" cy="91.1" r="3.5" fill="#7fb4f7"/><circle cx="1177.1" cy="166.4" r="3.5" fill="#7fb4f7"/><circle cx="1764.2" cy="311.1" r="3.5" fill="#7fb4f7"/><circle cx="1194.4" cy="154.8" r="3.5" fill="#96f6de"/><circle cx="1130.8" cy="100.4" r="3.5" fill="#f0b832"/><circle cx="1223.7" cy="164.8" r="3.5" fill="#7fb4f7"/><circle cx="1515.1" cy="145.0" r="3.5" fill="#7fb4f7"/><circle cx="1178.2" cy="137.7" r="3.5" fill="#96f6de"/><circle cx="1770.3" cy="313.1" r="3.5" fill="#7fb4f7"/><circle cx="1214.3" cy="67.1" r="3.5" fill="#96f6de"/><circle cx="1288.7" cy="307.2" r="3.5" fill="#7fb4f7"/><circle cx="1209.6" cy="155.0" r="3.5" fill="#7fb4f7"/><circle cx="1494.7" cy="151.1" r="3.5" fill="#7fb4f7"/><circle cx="1573.2" cy="146.4" r="3.5" fill="#7fb4f7"/><circle cx="1329.7" cy="287.0" r="3.5" fill="#96f6de"/><circle cx="1299.2" cy="114.1" r="3.5" fill="#f0b832"/><circle cx="1295.6" cy="291.3" r="3.5" fill="#7fb4f7"/><circle cx="1317.2" cy="243.5" r="3.5" fill="#7fb4f7"/><circle cx="1586.9" cy="157.8" r="3.5" fill="#96f6de"/><circle cx="1198.6" cy="153.9" r="3.5" fill="#7fb4f7"/><circle cx="1499.4" cy="79.8" r="3.5" fill="#96f6de"/><circle cx="1608.1" cy="219.3" r="3.5" fill="#7fb4f7"/><circle cx="1300.6" cy="318.1" r="3.5" fill="#96f6de"/><circle cx="1233.2" cy="159.4" r="3.5" fill="#7fb4f7"/><circle cx="1514.8" cy="156.8" r="3.5" fill="#7fb4f7"/><circle cx="1242.9" cy="131.8" r="3.5" fill="#96f6de"/><circle cx="1217.8" cy="161.2" r="3.5" fill="#7fb4f7"/><circle cx="1306.8" cy="85.4" r="3.5" fill="#96f6de"/><circle cx="1464.8" cy="78.4" r="3.5" fill="#7fb4f7"/><circle cx="1278.3" cy="301.6" r="3.5" fill="#7fb4f7"/><circle cx="1088.2" cy="77.8" r="3.5" fill="#96f6de"/><circle cx="1227.0" cy="151.9" r="3.5" fill="#7fb4f7"/><circle cx="1466.4" cy="120.8" r="3.5" fill="#96f6de"/><circle cx="1300.5" cy="274.9" r="3.5" fill="#7fb4f7"/><circle cx="1338.3" cy="242.3" r="3.5" fill="#96f6de"/><circle cx="1420.6" cy="130.3" r="3.5" fill="#96f6de"/><circle cx="1398.0" cy="171.7" r="3.5" fill="#7fb4f7"/><circle cx="1214.8" cy="162.7" r="3.5" fill="#7fb4f7"/><circle cx="1235.3" cy="131.0" r="3.5" fill="#f0b832"/><circle cx="1664.6" cy="201.4" r="3.5" fill="#7fb4f7"/><circle cx="1498.0" cy="174.3" r="3.5" fill="#7fb4f7"/><circle cx="1500.2" cy="121.3" r="3.5" fill="#96f6de"/><circle cx="1610.5" cy="175.2" r="3.5" fill="#96f6de"/><circle cx="1696.7" cy="176.7" r="3.5" fill="#7fb4f7"/><circle cx="1304.3" cy="295.4" r="3.5" fill="#7fb4f7"/><circle cx="1723.5" cy="307.0" r="3.5" fill="#7fb4f7"/><circle cx="1439.3" cy="122.4" r="3.5" fill="#96f6de"/><circle cx="1304.7" cy="300.5" r="3.5" fill="#7fb4f7"/><circle cx="1657.4" cy="108.8" r="3.5" fill="#f0b832"/><circle cx="1203.4" cy="152.0" r="3.5" fill="#7fb4f7"/><circle cx="1343.4" cy="88.4" r="3.5" fill="#96f6de"/><circle cx="1595.6" cy="140.2" r="3.5" fill="#7fb4f7"/><circle cx="1176.8" cy="111.3" r="3.5" fill="#f0b832"/><circle cx="1691.5" cy="220.1" r="3.5" fill="#7fb4f7"/><circle cx="1377.8" cy="91.6" r="3.5" fill="#7fb4f7"/><circle cx="1234.7" cy="56.0" r="3.5" fill="#f0b832"/><circle cx="1431.5" cy="165.5" r="3.5" fill="#7fb4f7"/><circle cx="1736.4" cy="153.9" r="3.5" fill="#7fb4f7"/><circle cx="1509.3" cy="113.6" r="3.5" fill="#7fb4f7"/><circle cx="1176.9" cy="161.4" r="3.5" fill="#7fb4f7"/><circle cx="1274.7" cy="313.4" r="3.5" fill="#7fb4f7"/><circle cx="1182.3" cy="108.5" r="3.5" fill="#f0b832"/><circle cx="1310.7" cy="270.4" r="3.5" fill="#7fb4f7"/><circle cx="1092.1" cy="97.2" r="3.5" fill="#f0b832"/><circle cx="1321.6" cy="270.0" r="3.5" fill="#96f6de"/><circle cx="1484.6" cy="120.0" r="3.5" fill="#96f6de"/><circle cx="1227.7" cy="112.0" r="3.5" fill="#f0b832"/><circle cx="1201.5" cy="137.5" r="3.5" fill="#96f6de"/><circle cx="1493.1" cy="138.1" r="3.5" fill="#7fb4f7"/><circle cx="1146.1" cy="131.5" r="3.5" fill="#96f6de"/><circle cx="1199.6" cy="141.5" r="3.5" fill="#7fb4f7"/><circle cx="1471.1" cy="286.3" r="3.5" fill="#96f6de"/><circle cx="1278.2" cy="121.3" r="3.5" fill="#f0b832"/><circle cx="1306.0" cy="125.7" r="3.5" fill="#7fb4f7"/><circle cx="1339.5" cy="251.3" r="3.5" fill="#7fb4f7"/><circle cx="1205.7" cy="121.3" r="3.5" fill="#f0b832"/><circle cx="1227.5" cy="145.4" r="3.5" fill="#7fb4f7"/><circle cx="1550.6" cy="153.0" r="3.5" fill="#96f6de"/><circle cx="1267.8" cy="124.0" r="3.5" fill="#f0b832"/><circle cx="1281.1" cy="131.2" r="3.5" fill="#f0b832"/><circle cx="1298.6" cy="242.0" r="3.5" fill="#7fb4f7"/><circle cx="1473.7" cy="145.3" r="3.5" fill="#7fb4f7"/><circle cx="1283.0" cy="301.2" r="3.5" fill="#7fb4f7"/><circle cx="1473.9" cy="86.1" r="3.5" fill="#7fb4f7"/><circle cx="1185.9" cy="100.4" r="3.5" fill="#f0b832"/><circle cx="1686.6" cy="254.9" r="3.5" fill="#7fb4f7"/><circle cx="1322.5" cy="242.3" r="3.5" fill="#7fb4f7"/><circle cx="1192.0" cy="137.6" r="3.5" fill="#7fb4f7"/><circle cx="1670.4" cy="119.0" r="3.5" fill="#f0b832"/><circle cx="1154.2" cy="139.7" r="3.5" fill="#f0b832"/><circle cx="1711.0" cy="219.3" r="3.5" fill="#7fb4f7"/><circle cx="1174.7" cy="138.5" r="3.5" fill="#7fb4f7"/><circle cx="1419.1" cy="165.7" r="3.5" fill="#7fb4f7"/><circle cx="1234.1" cy="111.9" r="3.5" fill="#f0b832"/><circle cx="1569.4" cy="159.0" r="3.5" fill="#96f6de"/><circle cx="1483.0" cy="77.7" r="3.5" fill="#7fb4f7"/><circle cx="1470.1" cy="136.2" r="3.5" fill="#7fb4f7"/><circle cx="1424.9" cy="167.1" r="3.5" fill="#7fb4f7"/><circle cx="1207.6" cy="157.6" r="3.5" fill="#7fb4f7"/><circle cx="1187.1" cy="154.6" r="3.5" fill="#96f6de"/><circle cx="1336.6" cy="248.7" r="3.5" fill="#96f6de"/><circle cx="1471.7" cy="84.6" r="3.5" fill="#7fb4f7"/><circle cx="1322.3" cy="252.4" r="3.5" fill="#7fb4f7"/><circle cx="1240.2" cy="114.3" r="3.5" fill="#f0b832"/><circle cx="1149.9" cy="110.7" r="3.5" fill="#96f6de"/><circle cx="1214.3" cy="141.7" r="3.5" fill="#96f6de"/><circle cx="1245.6" cy="156.6" r="3.5" fill="#7fb4f7"/><circle cx="1392.7" cy="89.9" r="3.5" fill="#7fb4f7"/><circle cx="1745.9" cy="145.6" r="3.5" fill="#96f6de"/><circle cx="1481.4" cy="97.5" r="3.5" fill="#96f6de"/><circle cx="1218.2" cy="131.0" r="3.5" fill="#96f6de"/><circle cx="1312.7" cy="286.8" r="3.5" fill="#96f6de"/><circle cx="1532.8" cy="119.7" r="3.5" fill="#f0b832"/><circle cx="1304.1" cy="264.9" r="3.5" fill="#7fb4f7"/><circle cx="1435.4" cy="134.2" r="3.5" fill="#96f6de"/><circle cx="1659.6" cy="179.5" r="3.5" fill="#7fb4f7"/><circle cx="1241.3" cy="125.0" r="3.5" fill="#f0b832"/><circle cx="1652.9" cy="190.9" r="3.5" fill="#7fb4f7"/><circle cx="1277.9" cy="134.4" r="3.5" fill="#96f6de"/><circle cx="1284.2" cy="123.9" r="3.5" fill="#f0b832"/><circle cx="1312.0" cy="255.3" r="3.5" fill="#96f6de"/><circle cx="1552.7" cy="119.7" r="3.5" fill="#7fb4f7"/><circle cx="1222.0" cy="148.3" r="3.5" fill="#7fb4f7"/><circle cx="1442.0" cy="148.7" r="3.5" fill="#7fb4f7"/><circle cx="1210.8" cy="111.9" r="3.5" fill="#f0b832"/><circle cx="1163.2" cy="163.0" r="3.5" fill="#7fb4f7"/><circle cx="1148.3" cy="97.2" r="3.5" fill="#f0b832"/><circle cx="1424.6" cy="126.6" r="3.5" fill="#96f6de"/><circle cx="1227.9" cy="124.3" r="3.5" fill="#f0b832"/><circle cx="1487.5" cy="128.3" r="3.5" fill="#96f6de"/><circle cx="1326.4" cy="280.5" r="3.5" fill="#7fb4f7"/><circle cx="1413.5" cy="167.7" r="3.5" fill="#7fb4f7"/><circle cx="1169.6" cy="117.7" r="3.5" fill="#f0b832"/><circle cx="1311.0" cy="276.3" r="3.5" fill="#7fb4f7"/><circle cx="1387.7" cy="87.9" r="3.5" fill="#7fb4f7"/><circle cx="1481.1" cy="280.6" r="3.5" fill="#7fb4f7"/><circle cx="1427.6" cy="116.7" r="3.5" fill="#96f6de"/><circle cx="1194.9" cy="59.7" r="3.5" fill="#f0b832"/><circle cx="1509.3" cy="150.3" r="3.5" fill="#7fb4f7"/><circle cx="1501.2" cy="201.4" r="3.5" fill="#7fb4f7"/><circle cx="1221.6" cy="154.0" r="3.5" fill="#7fb4f7"/><circle cx="1293.0" cy="122.7" r="3.5" fill="#f0b832"/><circle cx="1480.8" cy="81.3" r="3.5" fill="#7fb4f7"/><circle cx="1154.3" cy="136.5" r="3.5" fill="#96f6de"/><circle cx="1293.6" cy="240.2" r="3.5" fill="#7fb4f7"/><circle cx="1101.1" cy="85.5" r="3.5" fill="#f0b832"/><circle cx="1310.5" cy="295.6" r="3.5" fill="#7fb4f7"/><circle cx="1300.0" cy="270.6" r="3.5" fill="#7fb4f7"/><circle cx="1482.2" cy="91.1" r="3.5" fill="#96f6de"/><circle cx="1211.9" cy="158.5" r="3.5" fill="#96f6de"/><circle cx="1469.0" cy="115.5" r="3.5" fill="#7fb4f7"/><circle cx="1281.8" cy="128.7" r="3.5" fill="#f0b832"/><circle cx="1495.7" cy="118.8" r="3.5" fill="#96f6de"/><circle cx="1241.7" cy="121.3" r="3.5" fill="#96f6de"/><circle cx="1211.3" cy="133.1" r="3.5" fill="#7fb4f7"/><circle cx="1420.2" cy="108.6" r="3.5" fill="#7fb4f7"/><circle cx="1486.4" cy="92.3" r="3.5" fill="#96f6de"/><circle cx="1232.5" cy="141.3" r="3.5" fill="#7fb4f7"/><circle cx="1506.7" cy="126.5" r="3.5" fill="#7fb4f7"/><circle cx="1108.5" cy="94.6" r="3.5" fill="#7fb4f7"/><circle cx="1236.3" cy="155.2" r="3.5" fill="#96f6de"/><circle cx="1154.6" cy="104.4" r="3.5" fill="#f0b832"/><circle cx="1715.0" cy="122.0" r="3.5" fill="#f0b832"/><circle cx="1400.7" cy="174.0" r="3.5" fill="#7fb4f7"/><circle cx="1268.6" cy="126.2" r="3.5" fill="#f0b832"/><circle cx="1293.9" cy="309.1" r="3.5" fill="#7fb4f7"/><circle cx="1299.3" cy="321.6" r="3.5" fill="#7fb4f7"/><circle cx="1250.5" cy="242.7" r="3.5" fill="#7fb4f7"/><circle cx="1473.3" cy="77.9" r="3.5" fill="#7fb4f7"/><circle cx="1500.4" cy="155.2" r="3.5" fill="#7fb4f7"/><circle cx="1740.4" cy="153.4" r="3.5" fill="#7fb4f7"/><circle cx="1416.3" cy="113.6" r="3.5" fill="#7fb4f7"/><circle cx="1252.8" cy="144.8" r="3.5" fill="#96f6de"/><circle cx="1205.7" cy="115.2" r="3.5" fill="#f0b832"/><circle cx="1254.9" cy="120.8" r="3.5" fill="#f0b832"/><circle cx="1164.6" cy="93.3" r="3.5" fill="#f0b832"/><circle cx="1459.8" cy="131.8" r="3.5" fill="#7fb4f7"/><circle cx="1184.7" cy="136.9" r="3.5" fill="#96f6de"/><circle cx="1541.6" cy="144.6" r="3.5" fill="#7fb4f7"/><circle cx="1217.1" cy="169.3" r="3.5" fill="#7fb4f7"/><circle cx="1222.2" cy="126.4" r="3.5" fill="#7fb4f7"/><circle cx="1431.3" cy="142.2" r="3.5" fill="#7fb4f7"/><circle cx="1303.2" cy="270.6" r="3.5" fill="#7fb4f7"/><circle cx="1448.2" cy="91.0" r="3.5" fill="#96f6de"/><circle cx="1184.7" cy="139.8" r="3.5" fill="#f0b832"/><circle cx="1426.7" cy="134.9" r="3.5" fill="#7fb4f7"/><circle cx="1191.0" cy="121.7" r="3.5" fill="#f0b832"/><circle cx="1606.3" cy="187.7" r="3.5" fill="#96f6de"/><circle cx="1221.6" cy="134.9" r="3.5" fill="#7fb4f7"/><circle cx="1438.0" cy="138.4" r="3.5" fill="#96f6de"/><circle cx="1182.7" cy="94.6" r="3.5" fill="#f0b832"/><circle cx="1517.0" cy="269.6" r="3.5" fill="#7fb4f7"/><circle cx="1144.6" cy="138.3" r="3.5" fill="#7fb4f7"/><circle cx="1418.8" cy="106.3" r="3.5" fill="#96f6de"/><circle cx="1412.7" cy="111.8" r="3.5" fill="#96f6de"/><circle cx="1290.4" cy="200.0" r="3.5" fill="#7fb4f7"/><circle cx="1308.3" cy="262.1" r="3.5" fill="#7fb4f7"/><circle cx="1193.0" cy="124.1" r="3.5" fill="#f0b832"/><circle cx="1280.8" cy="309.0" r="3.5" fill="#7fb4f7"/><circle cx="1517.7" cy="241.5" r="3.5" fill="#96f6de"/><circle cx="1304.2" cy="223.7" r="3.5" fill="#96f6de"/><circle cx="1491.3" cy="155.2" r="3.5" fill="#7fb4f7"/><circle cx="1495.3" cy="239.7" r="3.5" fill="#7fb4f7"/><circle cx="1201.4" cy="97.8" r="3.5" fill="#f0b832"/><circle cx="1263.6" cy="141.9" r="3.5" fill="#7fb4f7"/><circle cx="1328.4" cy="258.5" r="3.5" fill="#96f6de"/><circle cx="1219.4" cy="123.1" r="3.5" fill="#f0b832"/><circle cx="1100.5" cy="91.4" r="3.5" fill="#96f6de"/><circle cx="1619.8" cy="178.5" r="3.5" fill="#7fb4f7"/><circle cx="1245.6" cy="150.5" r="3.5" fill="#7fb4f7"/><circle cx="1151.6" cy="131.6" r="3.5" fill="#96f6de"/><circle cx="1453.8" cy="120.1" r="3.5" fill="#96f6de"/><circle cx="1231.6" cy="163.5" r="3.5" fill="#7fb4f7"/><circle cx="1324.2" cy="289.8" r="3.5" fill="#96f6de"/><circle cx="1495.6" cy="85.9" r="3.5" fill="#96f6de"/><circle cx="1458.8" cy="116.7" r="3.5" fill="#96f6de"/><circle cx="1465.4" cy="282.6" r="3.5" fill="#7fb4f7"/><circle cx="1712.7" cy="162.6" r="3.5" fill="#96f6de"/><circle cx="1135.4" cy="84.9" r="3.5" fill="#96f6de"/><circle cx="1165.3" cy="121.8" r="3.5" fill="#f0b832"/><circle cx="1116.0" cy="91.4" r="3.5" fill="#f0b832"/><circle cx="1181.0" cy="148.6" r="3.5" fill="#7fb4f7"/><circle cx="1195.0" cy="166.9" r="3.5" fill="#7fb4f7"/><circle cx="1702.7" cy="165.1" r="3.5" fill="#7fb4f7"/><circle cx="1421.6" cy="152.3" r="3.5" fill="#7fb4f7"/><circle cx="1625.0" cy="79.6" r="3.5" fill="#96f6de"/><circle cx="1070.8" cy="96.5" r="3.5" fill="#f0b832"/><circle cx="1215.5" cy="157.9" r="3.5" fill="#7fb4f7"/><circle cx="1733.9" cy="154.0" r="3.5" fill="#7fb4f7"/><circle cx="1456.2" cy="125.1" r="3.5" fill="#96f6de"/><circle cx="1253.1" cy="160.4" r="3.5" fill="#7fb4f7"/><circle cx="1284.8" cy="83.6" r="3.5" fill="#f0b832"/><circle cx="1463.5" cy="81.0" r="3.5" fill="#96f6de"/><circle cx="1203.6" cy="119.1" r="3.5" fill="#f0b832"/><circle cx="1740.2" cy="150.2" r="3.5" fill="#7fb4f7"/><circle cx="1433.3" cy="121.0" r="3.5" fill="#96f6de"/><circle cx="1347.1" cy="245.1" r="3.5" fill="#7fb4f7"/><circle cx="1644.9" cy="197.6" r="3.5" fill="#7fb4f7"/><circle cx="1827.1" cy="275.5" r="3.5" fill="#7fb4f7"/><circle cx="1176.2" cy="100.4" r="3.5" fill="#f0b832"/><circle cx="1171.8" cy="109.0" r="3.5" fill="#f0b832"/><circle cx="1414.7" cy="102.6" r="3.5" fill="#96f6de"/><circle cx="1401.1" cy="143.0" r="3.5" fill="#7fb4f7"/><circle cx="1145.8" cy="122.3" r="3.5" fill="#96f6de"/><circle cx="1170.7" cy="90.7" r="3.5" fill="#96f6de"/><circle cx="1241.6" cy="161.3" r="3.5" fill="#7fb4f7"/><circle cx="1189.8" cy="148.3" r="3.5" fill="#7fb4f7"/><circle cx="1453.8" cy="136.1" r="3.5" fill="#7fb4f7"/><circle cx="1145.6" cy="127.3" r="3.5" fill="#f0b832"/><circle cx="1202.7" cy="77.1" r="3.5" fill="#f0b832"/><circle cx="1200.5" cy="163.7" r="3.5" fill="#96f6de"/><circle cx="1468.9" cy="139.9" r="3.5" fill="#7fb4f7"/><circle cx="1199.1" cy="121.8" r="3.5" fill="#7fb4f7"/><circle cx="1567.8" cy="165.9" r="3.5" fill="#7fb4f7"/><circle cx="1219.1" cy="138.9" r="3.5" fill="#f0b832"/><circle cx="1182.8" cy="151.6" r="3.5" fill="#7fb4f7"/><circle cx="1536.1" cy="131.3" r="3.5" fill="#7fb4f7"/><circle cx="1197.6" cy="111.4" r="3.5" fill="#f0b832"/><circle cx="1219.8" cy="143.9" r="3.5" fill="#96f6de"/><circle cx="1242.0" cy="156.7" r="3.5" fill="#7fb4f7"/><circle cx="1510.9" cy="139.2" r="3.5" fill="#96f6de"/><circle cx="1299.2" cy="221.2" r="3.5" fill="#96f6de"/><circle cx="1262.8" cy="148.0" r="3.5" fill="#7fb4f7"/><circle cx="1104.4" cy="97.8" r="3.5" fill="#f0b832"/><circle cx="1600.6" cy="99.1" r="3.5" fill="#7fb4f7"/><circle cx="1488.6" cy="100.7" r="3.5" fill="#96f6de"/><circle cx="1517.2" cy="245.2" r="3.5" fill="#7fb4f7"/><circle cx="1388.3" cy="171.7" r="3.5" fill="#96f6de"/><circle cx="1215.0" cy="108.8" r="3.5" fill="#7fb4f7"/><circle cx="1312.7" cy="268.1" r="3.5" fill="#7fb4f7"/><circle cx="1685.3" cy="166.5" r="3.5" fill="#7fb4f7"/><circle cx="1495.4" cy="165.9" r="3.5" fill="#7fb4f7"/><circle cx="1159.7" cy="149.8" r="3.5" fill="#7fb4f7"/><circle cx="1671.6" cy="185.2" r="3.5" fill="#7fb4f7"/><circle cx="1188.5" cy="118.3" r="3.5" fill="#7fb4f7"/><circle cx="1754.3" cy="205.1" r="3.5" fill="#96f6de"/><circle cx="1446.3" cy="117.4" r="3.5" fill="#96f6de"/><circle cx="1342.0" cy="273.4" r="3.5" fill="#7fb4f7"/><circle cx="1748.6" cy="131.5" r="3.5" fill="#f0b832"/><circle cx="1254.7" cy="151.0" r="3.5" fill="#7fb4f7"/><circle cx="1241.7" cy="141.6" r="3.5" fill="#96f6de"/><circle cx="1296.3" cy="299.1" r="3.5" fill="#7fb4f7"/><circle cx="1259.3" cy="210.7" r="3.5" fill="#96f6de"/><circle cx="1264.7" cy="105.6" r="3.5" fill="#7fb4f7"/><circle cx="1728.8" cy="159.0" r="3.5" fill="#7fb4f7"/><circle cx="1319.0" cy="246.3" r="3.5" fill="#7fb4f7"/><circle cx="1181.4" cy="162.9" r="3.5" fill="#7fb4f7"/><circle cx="1680.3" cy="143.9" r="3.5" fill="#7fb4f7"/><circle cx="1448.9" cy="112.3" r="3.5" fill="#96f6de"/><circle cx="1321.6" cy="289.6" r="3.5" fill="#96f6de"/><circle cx="1735.9" cy="266.7" r="3.5" fill="#96f6de"/><circle cx="1289.2" cy="196.3" r="3.5" fill="#7fb4f7"/><circle cx="1322.1" cy="287.3" r="3.5" fill="#96f6de"/><circle cx="1216.9" cy="97.8" r="3.5" fill="#f0b832"/><circle cx="1763.1" cy="308.0" r="3.5" fill="#7fb4f7"/><circle cx="1439.0" cy="115.9" r="3.5" fill="#7fb4f7"/><circle cx="1207.3" cy="174.2" r="3.5" fill="#7fb4f7"/><circle cx="1329.2" cy="283.1" r="3.5" fill="#96f6de"/><circle cx="1582.9" cy="149.8" r="3.5" fill="#7fb4f7"/><circle cx="1330.6" cy="241.3" r="3.5" fill="#96f6de"/><circle cx="1406.2" cy="107.4" r="3.5" fill="#7fb4f7"/><circle cx="1207.8" cy="169.2" r="3.5" fill="#7fb4f7"/><circle cx="1509.4" cy="159.5" r="3.5" fill="#7fb4f7"/><circle cx="1752.0" cy="325.9" r="3.5" fill="#7fb4f7"/><circle cx="1424.8" cy="208.0" r="3.5" fill="#7fb4f7"/><circle cx="1709.0" cy="232.5" r="3.5" fill="#7fb4f7"/><circle cx="1756.4" cy="302.9" r="3.5" fill="#7fb4f7"/><circle cx="1514.9" cy="159.8" r="3.5" fill="#7fb4f7"/><circle cx="1197.6" cy="161.7" r="3.5" fill="#7fb4f7"/><circle cx="1459.0" cy="122.3" r="3.5" fill="#96f6de"/><circle cx="1683.6" cy="119.0" r="3.5" fill="#f0b832"/><circle cx="1421.0" cy="104.2" r="3.5" fill="#96f6de"/><circle cx="1192.2" cy="127.0" r="3.5" fill="#f0b832"/><circle cx="1593.6" cy="97.3" r="3.5" fill="#7fb4f7"/><circle cx="1159.6" cy="132.0" r="3.5" fill="#96f6de"/><circle cx="1516.1" cy="164.6" r="3.5" fill="#96f6de"/><circle cx="1464.9" cy="92.5" r="3.5" fill="#7fb4f7"/><circle cx="1770.3" cy="295.4" r="3.5" fill="#7fb4f7"/><circle cx="1488.9" cy="89.9" r="3.5" fill="#96f6de"/><circle cx="1079.5" cy="191.8" r="3.5" fill="#7fb4f7"/><circle cx="1464.0" cy="140.7" r="3.5" fill="#7fb4f7"/><circle cx="1655.4" cy="226.3" r="3.5" fill="#7fb4f7"/><circle cx="1529.5" cy="190.6" r="3.5" fill="#7fb4f7"/><circle cx="1296.4" cy="304.6" r="3.5" fill="#7fb4f7"/><circle cx="1150.9" cy="88.8" r="3.5" fill="#f0b832"/><circle cx="1285.4" cy="128.8" r="3.5" fill="#7fb4f7"/><circle cx="1313.6" cy="296.5" r="3.5" fill="#7fb4f7"/><circle cx="1741.4" cy="150.2" r="3.5" fill="#96f6de"/><circle cx="1225.6" cy="135.2" r="3.5" fill="#7fb4f7"/><circle cx="1174.3" cy="118.8" r="3.5" fill="#f0b832"/><circle cx="1246.3" cy="237.7" r="3.5" fill="#7fb4f7"/><circle cx="1247.7" cy="146.6" r="3.5" fill="#7fb4f7"/><circle cx="1407.1" cy="134.1" r="3.5" fill="#7fb4f7"/><circle cx="1188.3" cy="183.3" r="3.5" fill="#7fb4f7"/><circle cx="1523.6" cy="197.2" r="3.5" fill="#7fb4f7"/><circle cx="1301.8" cy="312.9" r="3.5" fill="#7fb4f7"/><circle cx="1736.4" cy="262.9" r="3.5" fill="#96f6de"/><circle cx="1128.9" cy="110.1" r="3.5" fill="#f0b832"/><circle cx="1306.6" cy="313.2" r="3.5" fill="#96f6de"/><circle cx="1167.5" cy="150.5" r="3.5" fill="#7fb4f7"/><circle cx="1236.9" cy="115.6" r="3.5" fill="#7fb4f7"/><circle cx="1516.1" cy="186.6" r="3.5" fill="#96f6de"/><circle cx="1486.5" cy="153.4" r="3.5" fill="#7fb4f7"/><circle cx="1295.1" cy="316.7" r="3.5" fill="#7fb4f7"/><circle cx="1278.9" cy="123.7" r="3.5" fill="#96f6de"/><circle cx="1331.3" cy="247.6" r="3.5" fill="#96f6de"/><circle cx="1291.1" cy="120.6" r="3.5" fill="#f0b832"/><circle cx="1314.2" cy="79.1" r="3.5" fill="#96f6de"/><circle cx="1280.5" cy="194.3" r="3.5" fill="#7fb4f7"/><circle cx="1477.7" cy="102.0" r="3.5" fill="#96f6de"/><circle cx="1509.5" cy="123.0" r="3.5" fill="#96f6de"/><circle cx="1152.2" cy="118.2" r="3.5" fill="#96f6de"/><circle cx="1243.2" cy="137.0" r="3.5" fill="#7fb4f7"/><circle cx="1157.4" cy="115.6" r="3.5" fill="#96f6de"/><circle cx="1294.0" cy="299.2" r="3.5" fill="#7fb4f7"/><circle cx="1377.8" cy="85.9" r="3.5" fill="#7fb4f7"/><circle cx="1411.8" cy="155.2" r="3.5" fill="#7fb4f7"/><circle cx="1203.9" cy="131.5" r="3.5" fill="#7fb4f7"/><circle cx="1159.6" cy="160.8" r="3.5" fill="#7fb4f7"/><circle cx="1486.5" cy="117.0" r="3.5" fill="#96f6de"/><circle cx="1335.2" cy="240.6" r="3.5" fill="#7fb4f7"/><circle cx="1503.0" cy="79.8" r="3.5" fill="#96f6de"/><circle cx="1298.0" cy="320.2" r="3.5" fill="#96f6de"/><circle cx="1233.7" cy="126.8" r="3.5" fill="#f0b832"/><circle cx="1187.9" cy="145.5" r="3.5" fill="#96f6de"/><circle cx="1466.4" cy="129.0" r="3.5" fill="#96f6de"/></g></g><rect x="1022.55" y="33.35" width="811.10" height="405.05" fill="none" stroke="#585858" stroke-width="2.6"/><path d="M1022.55 33.35v-11.0M1022.55 438.40v11.0M1039.45 33.35v-4.8M1039.45 438.40v4.8M1056.35 33.35v-4.8M1056.35 438.40v4.8M1073.24 33.35v-4.8M1073.24 438.40v4.8M1090.14 33.35v-4.8M1090.14 438.40v4.8M1107.04 33.35v-4.8M1107.04 438.40v4.8M1123.94 33.35v-11.0M1123.94 438.40v11.0M1140.84 33.35v-4.8M1140.84 438.40v4.8M1157.73 33.35v-4.8M1157.73 438.40v4.8M1174.63 33.35v-4.8M1174.63 438.40v4.8M1191.53 33.35v-4.8M1191.53 438.40v4.8M1208.43 33.35v-4.8M1208.43 438.40v4.8M1225.32 33.35v-11.0M1225.32 438.40v11.0M1242.22 33.35v-4.8M1242.22 438.40v4.8M1259.12 33.35v-4.8M1259.12 438.40v4.8M1276.02 33.35v-4.8M1276.02 438.40v4.8M1292.92 33.35v-4.8M1292.92 438.40v4.8M1309.81 33.35v-4.8M1309.81 438.40v4.8M1326.71 33.35v-11.0M1326.71 438.40v11.0M1343.61 33.35v-4.8M1343.61 438.40v4.8M1360.51 33.35v-4.8M1360.51 438.40v4.8M1377.41 33.35v-4.8M1377.41 438.40v4.8M1394.30 33.35v-4.8M1394.30 438.40v4.8M1411.20 33.35v-4.8M1411.20 438.40v4.8M1428.10 33.35v-11.0M1428.10 438.40v11.0M1445.00 33.35v-4.8M1445.00 438.40v4.8M1461.90 33.35v-4.8M1461.90 438.40v4.8M1478.79 33.35v-4.8M1478.79 438.40v4.8M1495.69 33.35v-4.8M1495.69 438.40v4.8M1512.59 33.35v-4.8M1512.59 438.40v4.8M1529.49 33.35v-11.0M1529.49 438.40v11.0M1546.39 33.35v-4.8M1546.39 438.40v4.8M1563.28 33.35v-4.8M1563.28 438.40v4.8M1580.18 33.35v-4.8M1580.18 438.40v4.8M1597.08 33.35v-4.8M1597.08 438.40v4.8M1613.98 33.35v-4.8M1613.98 438.40v4.8M1630.88 33.35v-11.0M1630.88 438.40v11.0M1647.77 33.35v-4.8M1647.77 438.40v4.8M1664.67 33.35v-4.8M1664.67 438.40v4.8M1681.57 33.35v-4.8M1681.57 438.40v4.8M1698.47 33.35v-4.8M1698.47 438.40v4.8M1715.36 33.35v-4.8M1715.36 438.40v4.8M1732.26 33.35v-11.0M1732.26 438.40v11.0M1749.16 33.35v-4.8M1749.16 438.40v4.8M1766.06 33.35v-4.8M1766.06 438.40v4.8M1782.96 33.35v-4.8M1782.96 438.40v4.8M1799.85 33.35v-4.8M1799.85 438.40v4.8M1816.75 33.35v-4.8M1816.75 438.40v4.8M1833.65 33.35v-11.0M1833.65 438.40v11.0M1022.55 438.40h-11.0M1833.65 438.40h11.0M1022.55 421.52h-4.8M1833.65 421.52h4.8M1022.55 404.65h-4.8M1833.65 404.65h4.8M1022.55 387.77h-4.8M1833.65 387.77h4.8M1022.55 370.89h-4.8M1833.65 370.89h4.8M1022.55 354.01h-4.8M1833.65 354.01h4.8M1022.55 337.14h-11.0M1833.65 337.14h11.0M1022.55 320.26h-4.8M1833.65 320.26h4.8M1022.55 303.38h-4.8M1833.65 303.38h4.8M1022.55 286.51h-4.8M1833.65 286.51h4.8M1022.55 269.63h-4.8M1833.65 269.63h4.8M1022.55 252.75h-4.8M1833.65 252.75h4.8M1022.55 235.88h-11.0M1833.65 235.88h11.0M1022.55 219.00h-4.8M1833.65 219.00h4.8M1022.55 202.12h-4.8M1833.65 202.12h4.8M1022.55 185.24h-4.8M1833.65 185.24h4.8M1022.55 168.37h-4.8M1833.65 168.37h4.8M1022.55 151.49h-4.8M1833.65 151.49h4.8M1022.55 134.61h-11.0M1833.65 134.61h11.0M1022.55 117.74h-4.8M1833.65 117.74h4.8M1022.55 100.86h-4.8M1833.65 100.86h4.8M1022.55 83.98h-4.8M1833.65 83.98h4.8M1022.55 67.10h-4.8M1833.65 67.10h4.8M1022.55 50.23h-4.8M1833.65 50.23h4.8M1022.55 33.35h-11.0M1833.65 33.35h11.0" stroke="#1a1a1a" stroke-width="1.2" fill="none"/><g font-size="21.8" fill="#000" stroke="#000" stroke-width="0.3"><text x="1022.5" y="19.1" text-anchor="middle" textLength="44.7" lengthAdjust="spacingAndGlyphs">180°</text><text x="1022.5" y="467.4" text-anchor="middle" textLength="44.7" lengthAdjust="spacingAndGlyphs">180°</text><text x="1123.9" y="19.1" text-anchor="middle" textLength="62.9" lengthAdjust="spacingAndGlyphs">135°W</text><text x="1123.9" y="467.4" text-anchor="middle" textLength="62.9" lengthAdjust="spacingAndGlyphs">135°W</text><text x="1225.3" y="19.1" text-anchor="middle" textLength="51.7" lengthAdjust="spacingAndGlyphs">90°W</text><text x="1225.3" y="467.4" text-anchor="middle" textLength="51.7" lengthAdjust="spacingAndGlyphs">90°W</text><text x="1326.7" y="19.1" text-anchor="middle" textLength="51.7" lengthAdjust="spacingAndGlyphs">45°W</text><text x="1326.7" y="467.4" text-anchor="middle" textLength="51.7" lengthAdjust="spacingAndGlyphs">45°W</text><text x="1428.1" y="19.1" text-anchor="middle" textLength="22.4" lengthAdjust="spacingAndGlyphs">0°</text><text x="1428.1" y="467.4" text-anchor="middle" textLength="22.4" lengthAdjust="spacingAndGlyphs">0°</text><text x="1529.5" y="19.1" text-anchor="middle" textLength="45.0" lengthAdjust="spacingAndGlyphs">45°E</text><text x="1529.5" y="467.4" text-anchor="middle" textLength="45.0" lengthAdjust="spacingAndGlyphs">45°E</text><text x="1630.9" y="19.1" text-anchor="middle" textLength="45.0" lengthAdjust="spacingAndGlyphs">90°E</text><text x="1630.9" y="467.4" text-anchor="middle" textLength="45.0" lengthAdjust="spacingAndGlyphs">90°E</text><text x="1732.3" y="19.1" text-anchor="middle" textLength="56.1" lengthAdjust="spacingAndGlyphs">135°E</text><text x="1732.3" y="467.4" text-anchor="middle" textLength="56.1" lengthAdjust="spacingAndGlyphs">135°E</text><text x="1833.7" y="19.1" text-anchor="middle" textLength="44.7" lengthAdjust="spacingAndGlyphs">180°</text><text x="1833.7" y="467.4" text-anchor="middle" textLength="44.7" lengthAdjust="spacingAndGlyphs">180°</text><text x="1009.8" y="41.0" text-anchor="end" textLength="48.8" lengthAdjust="spacingAndGlyphs">90°N</text><text x="1847.2" y="41.0" textLength="48.8" lengthAdjust="spacingAndGlyphs">90°N</text><text x="1009.8" y="142.2" text-anchor="end" textLength="48.8" lengthAdjust="spacingAndGlyphs">45°N</text><text x="1847.2" y="142.2" textLength="48.8" lengthAdjust="spacingAndGlyphs">45°N</text><text x="1009.8" y="243.5" text-anchor="end" textLength="22.4" lengthAdjust="spacingAndGlyphs">0°</text><text x="1847.2" y="243.5" textLength="22.4" lengthAdjust="spacingAndGlyphs">0°</text><text x="1009.8" y="344.7" text-anchor="end" textLength="45.0" lengthAdjust="spacingAndGlyphs">45°S</text><text x="1847.2" y="344.7" textLength="45.0" lengthAdjust="spacingAndGlyphs">45°S</text><text x="1009.8" y="446.0" text-anchor="end" textLength="45.0" lengthAdjust="spacingAndGlyphs">90°S</text><text x="1847.2" y="446.0" textLength="45.0" lengthAdjust="spacingAndGlyphs">90°S</text></g><text x="41.3" y="526.8" font-size="32" font-weight="bold">(a)</text><text x="92.8" y="526.7" font-size="23.3">UTS RMSE for HiGTS and ISD stations</text><text x="1001.3" y="526.8" font-size="32" font-weight="bold">(b)</text><text x="1056.2" y="526.7" font-size="23.3">TSD Diff. for HiGTS and ISD stations</text><text x="570" y="526.5" font-size="21.3" stroke="#000" stroke-width="0.25" textLength="52" lengthAdjust="spacingAndGlyphs">RMSE</text><text x="1508.5" y="526.5" font-size="21.3" stroke="#000" stroke-width="0.25" textLength="36" lengthAdjust="spacingAndGlyphs">Diff.</text><circle cx="650.6" cy="518.9" r="4.7" fill="#7fb4f7" stroke="#0a0a0a" stroke-width="1.5"/><text x="679.9" y="525.7" font-size="16.5">0</text><circle cx="736.0" cy="518.9" r="4.7" fill="#96f6de" stroke="#0a0a0a" stroke-width="1.5"/><text x="766.2" y="525.7" font-size="16.5">1</text><circle cx="824.0" cy="518.9" r="4.7" fill="#f0b832" stroke="#0a0a0a" stroke-width="1.5"/><text x="853.3" y="525.7" font-size="16.5">2</text><circle cx="1586.1" cy="518.9" r="4.7" fill="#7fb4f7" stroke="#0a0a0a" stroke-width="1.5"/><text x="1603.3" y="525.7" font-size="16.5">0</text><circle cx="1655.9" cy="518.9" r="4.7" fill="#96f6de" stroke="#0a0a0a" stroke-width="1.5"/><text x="1673.4" y="525.7" font-size="16.5">1</text><circle cx="1724.4" cy="518.9" r="4.7" fill="#f0b832" stroke="#0a0a0a" stroke-width="1.5"/><text x="1742.0" y="525.7" font-size="16.5">2</text><circle cx="1795.3" cy="518.9" r="4.7" fill="#941410" stroke="#0a0a0a" stroke-width="1.5"/><text x="1812.1" y="525.7" font-size="16.5">3</text></svg></body></html>
